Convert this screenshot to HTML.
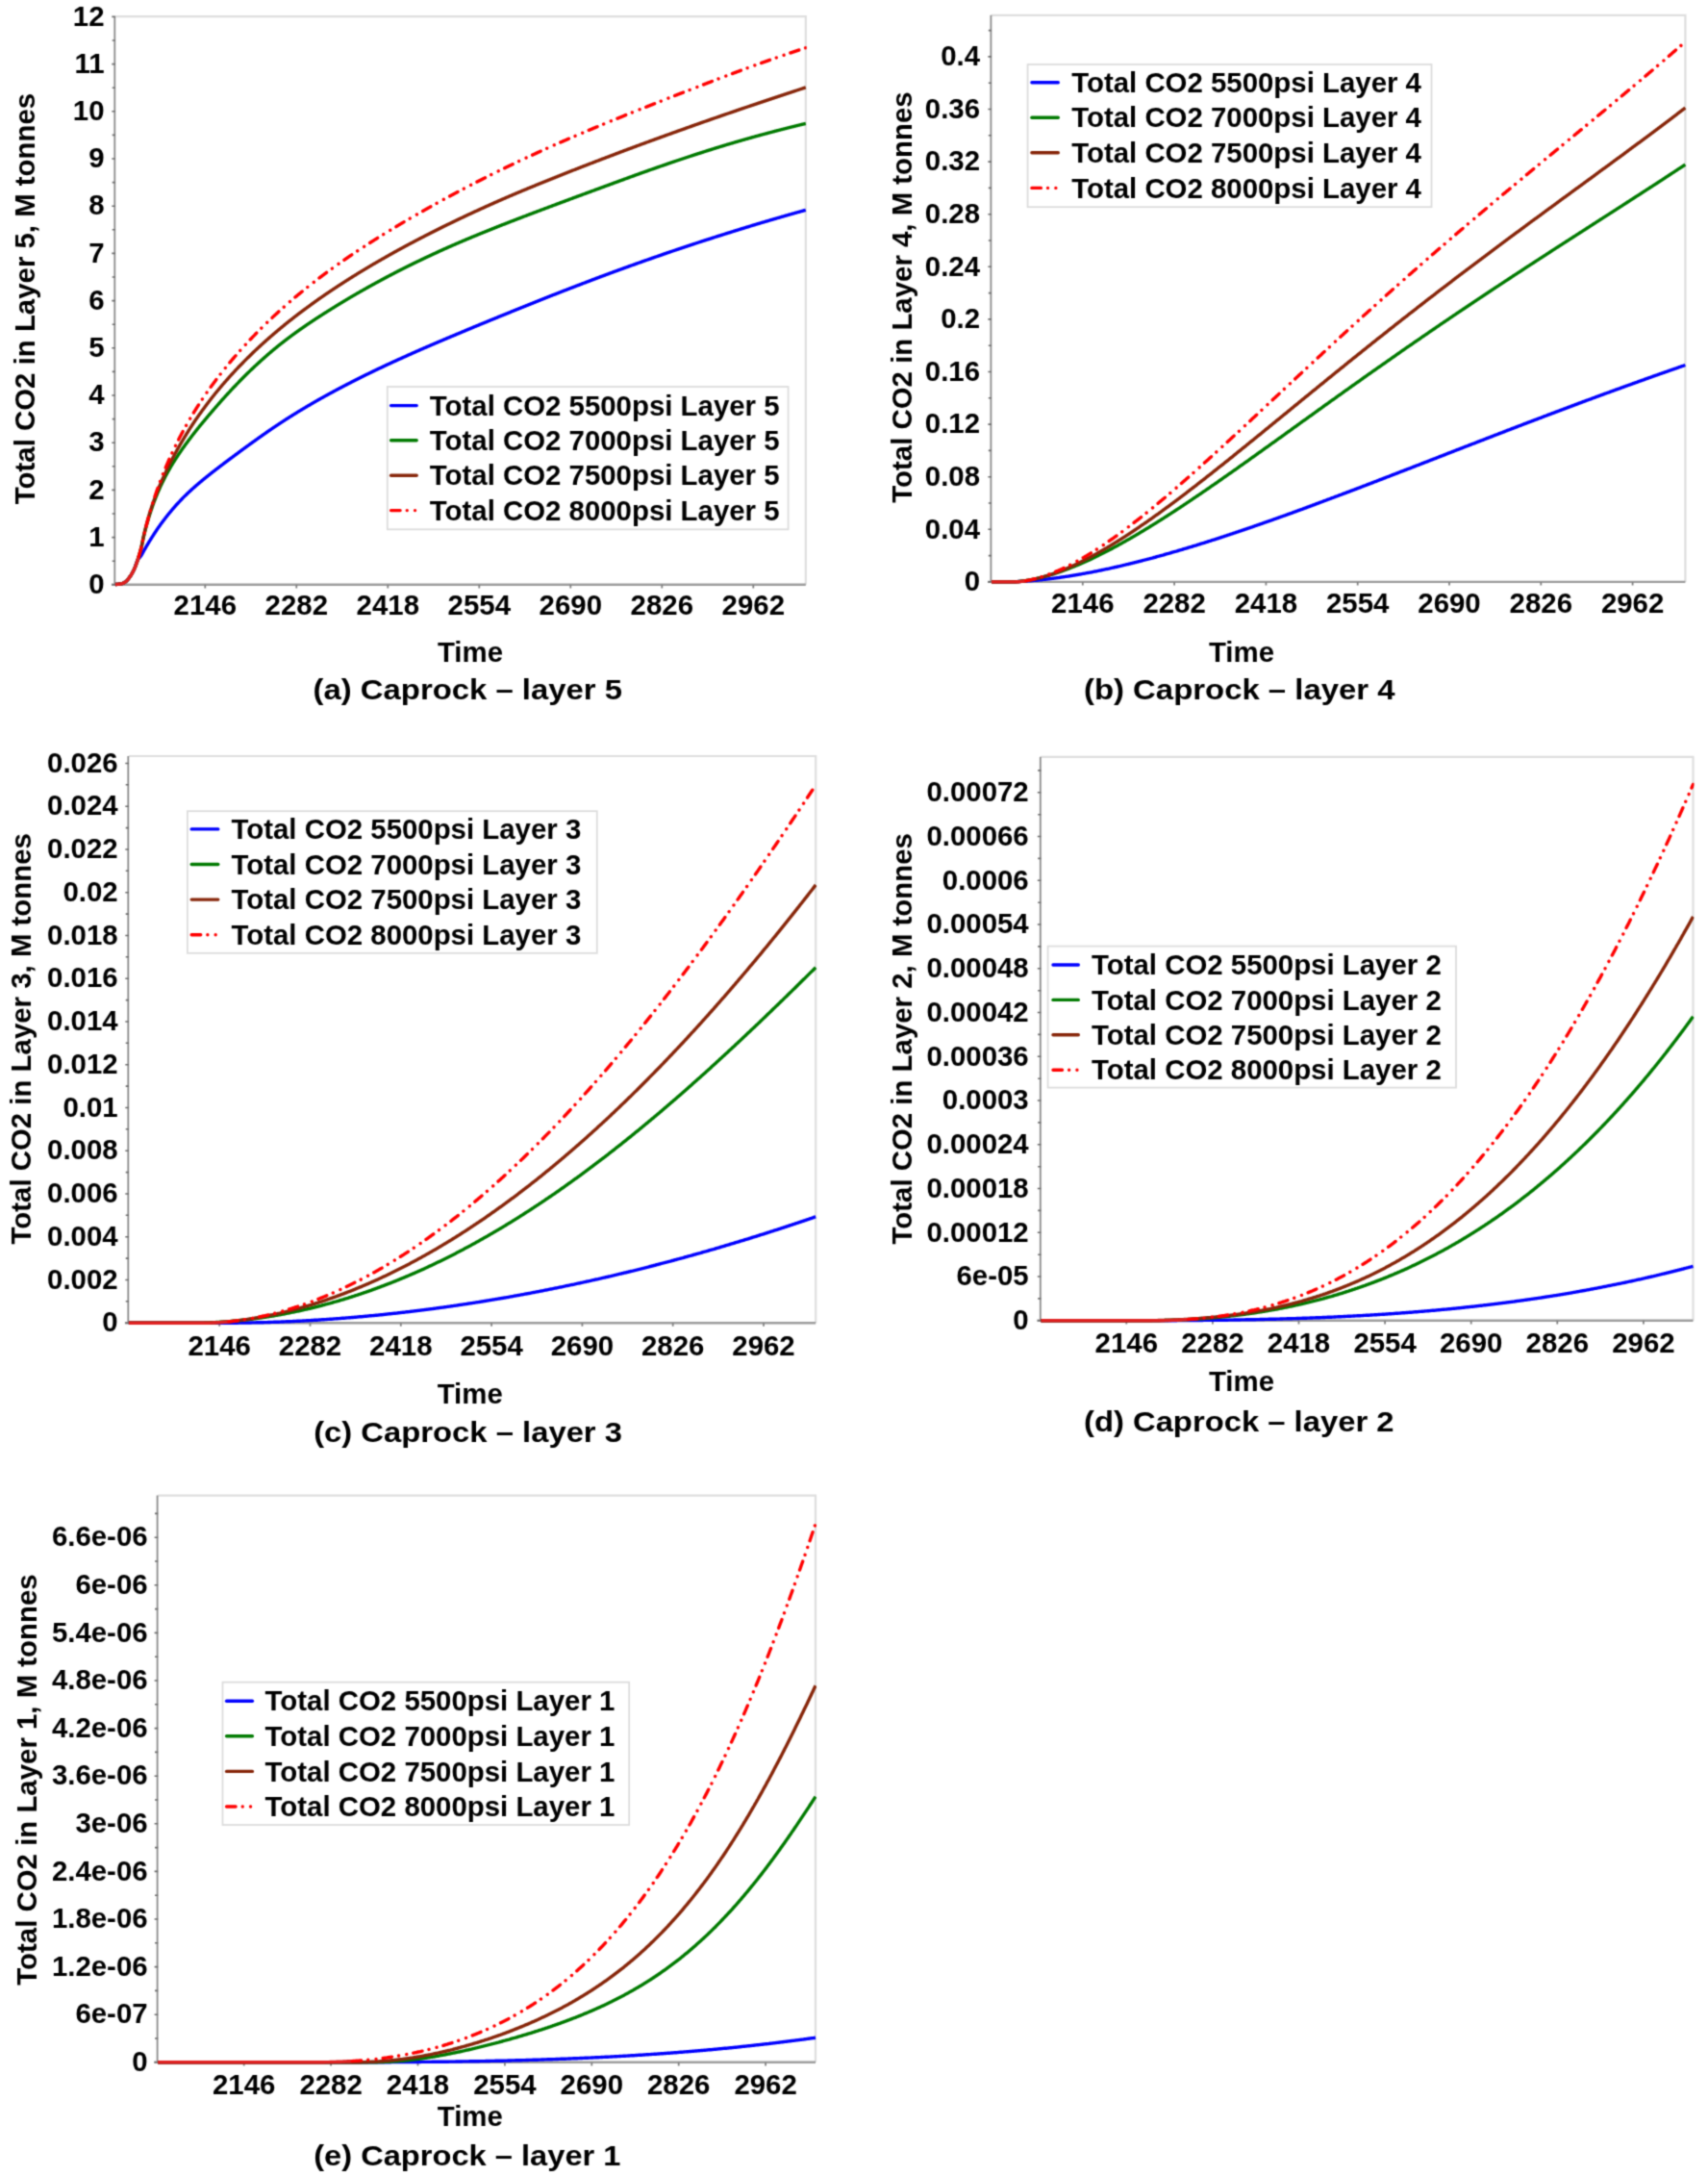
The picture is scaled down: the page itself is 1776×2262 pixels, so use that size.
<!DOCTYPE html>
<html><head><meta charset="utf-8"><title>Caprock CO2 by layer</title>
<style>
html,body{margin:0;padding:0;background:#fff;}
svg{display:block;}
svg text{font-family:"Liberation Sans",Arial,Helvetica,sans-serif;font-weight:bold;font-size:29.4px;fill:#000;}
</style></head>
<body>
<svg width="1776" height="2262" viewBox="0 0 1776 2262">
<defs><filter id="soft" x="0" y="0" width="1776" height="2262" filterUnits="userSpaceOnUse" color-interpolation-filters="sRGB"><feConvolveMatrix order="3" kernelMatrix="0.03108 0.11414 0.03108 0.11414 0.41911 0.11414 0.03108 0.11414 0.03108" edgeMode="duplicate" preserveAlpha="true"/></filter></defs>
<g filter="url(#soft)">
<rect width="1776" height="2262" fill="#fff"/>
<path d="M119.9,17.2 H837.8 V607.8" fill="none" stroke="#dedede" stroke-width="2.2"/>
<line x1="119.30000000000001" y1="17.2" x2="119.30000000000001" y2="607.8" stroke="#8a8a8a" stroke-width="1.8"/>
<line x1="115.9" y1="607.8" x2="837.8" y2="607.8" stroke="#9c9c9c" stroke-width="2.4"/>
<path d="M116.30000000000001,607.8 H119.9 M116.7,583.2 H119.9 M116.30000000000001,558.6 H119.9 M116.7,534.0 H119.9 M116.30000000000001,509.4 H119.9 M116.7,484.8 H119.9 M116.30000000000001,460.2 H119.9 M116.7,435.6 H119.9 M116.30000000000001,411.0 H119.9 M116.7,386.4 H119.9 M116.30000000000001,361.8 H119.9 M116.7,337.2 H119.9 M116.30000000000001,312.6 H119.9 M116.7,288.0 H119.9 M116.30000000000001,263.4 H119.9 M116.7,238.8 H119.9 M116.30000000000001,214.2 H119.9 M116.7,189.6 H119.9 M116.30000000000001,165.0 H119.9 M116.7,140.4 H119.9 M116.30000000000001,115.8 H119.9 M116.7,91.2 H119.9 M116.30000000000001,66.6 H119.9 M116.7,42.0 H119.9 M116.30000000000001,17.4 H119.9" stroke="#6e6e6e" stroke-width="1.6" fill="none"/>
<path d="M213.3,607.8 v3.6 M308.3,607.8 v3.6 M403.3,607.8 v3.6 M498.3,607.8 v3.6 M593.3,607.8 v3.6 M688.3,607.8 v3.6 M783.3,607.8 v3.6" stroke="#808080" stroke-width="1.8" fill="none"/>
<clipPath id="clip0"><rect x="118.9" y="17.2" width="719.9" height="593.5999999999999"/></clipPath>
<g clip-path="url(#clip0)" fill="none" stroke-width="3.4" stroke-linejoin="round">
<polyline points="119.9,607.5 120.4,607.5 120.9,607.5 121.4,607.4 121.9,607.4 122.4,607.4 122.9,607.3 123.4,607.3 123.9,607.2 124.4,607.2 124.9,607.1 125.4,607.0 125.9,606.9 126.4,606.8 126.9,606.7 127.4,606.5 127.9,606.3 128.4,606.1 128.9,605.8 129.4,605.5 129.9,605.2 130.4,604.9 130.9,604.6 131.4,604.1 131.9,603.6 132.4,603.1 132.9,602.5 133.4,601.8 133.9,601.2 134.4,600.5 134.9,599.8 135.4,599.1 135.9,598.4 136.4,597.6 136.9,596.7 137.4,595.9 137.9,595.0 138.4,594.0 138.9,593.0 139.4,592.0 139.9,590.9 140.4,589.6 140.9,588.1 141.4,586.6 141.9,585.2 142.4,583.8 142.9,582.7 143.4,581.8 143.9,581.1 144.4,580.4 144.9,579.8 145.4,579.3 145.9,578.7 146.4,578.1 146.9,577.4 147.4,576.6 147.9,575.7 148.4,574.7 148.9,573.8 149.4,572.9 149.9,572.0 150.4,571.1 150.9,570.3 151.4,569.4 151.9,568.5 152.4,567.7 152.9,566.8 153.4,566.0 153.9,565.2 154.4,564.3 154.9,563.5 155.4,562.7 155.9,561.9 156.4,561.1 156.9,560.2 157.4,559.5 157.9,558.7 158.4,557.9 158.9,557.1 159.4,556.3 159.9,555.5 160.4,554.8 160.9,554.0 161.4,553.3 161.9,552.5 162.4,551.8 162.9,551.0 163.4,550.3 163.9,549.6 164.4,548.8 164.9,548.1 165.4,547.4 165.9,546.7 166.4,546.0 166.9,545.3 167.4,544.6 167.9,543.9 168.4,543.2 168.9,542.6 169.4,541.9 169.9,541.2 170.4,540.6 170.9,539.9 171.4,539.3 171.9,538.6 172.4,538.0 172.9,537.3 173.4,536.7 173.9,536.1 174.4,535.4 174.9,534.8 175.4,534.2 175.9,533.6 176.4,533.0 176.9,532.4 177.4,531.8 177.9,531.2 178.4,530.6 178.9,530.0 179.4,529.4 179.9,528.8 180.4,528.2 180.9,527.7 181.4,527.1 181.9,526.5 182.4,526.0 182.9,525.4 183.4,524.8 183.9,524.3 184.4,523.7 184.9,523.2 185.4,522.7 185.9,522.1 186.4,521.6 186.9,521.1 187.4,520.5 187.9,520.0 188.4,519.5 188.9,519.0 189.4,518.5 189.9,517.9 190.4,517.4 190.9,516.9 191.4,516.4 191.9,515.9 192.4,515.4 192.9,515.0 193.4,514.5 193.9,514.0 194.4,513.5 194.9,513.0 195.4,512.5 195.9,512.1 196.4,511.6 196.9,511.1 197.4,510.7 197.9,510.2 198.4,509.7 198.9,509.3 199.4,508.8 199.9,508.4 200.4,507.9 200.9,507.5 201.4,507.0 201.9,506.6 202.4,506.2 202.9,505.7 203.4,505.3 203.9,504.8 204.4,504.4 204.9,504.0 205.4,503.6 205.9,503.1 206.4,502.7 206.9,502.3 207.4,501.9 207.9,501.4 208.4,501.0 208.9,500.6 209.4,500.2 209.9,499.8 210.4,499.4 210.9,498.9 211.4,498.5 211.9,498.1 212.4,497.7 212.9,497.3 213.4,496.9 213.9,496.5 214.4,496.1 214.9,495.7 215.4,495.3 215.9,494.9 216.4,494.5 216.9,494.1 217.4,493.7 217.9,493.3 218.4,492.9 218.9,492.5 219.4,492.1 219.9,491.7 220.4,491.3 220.9,490.9 221.4,490.5 221.9,490.1 222.4,489.8 222.9,489.4 223.4,489.0 223.9,488.6 224.4,488.2 224.9,487.8 225.4,487.4 225.9,487.1 226.4,486.7 226.9,486.3 227.4,485.9 227.9,485.5 228.4,485.1 228.9,484.8 229.4,484.4 229.9,484.0 230.4,483.6 230.9,483.2 231.4,482.9 231.9,482.5 232.4,482.1 232.9,481.7 233.4,481.3 233.9,481.0 234.4,480.6 234.9,480.2 235.4,479.8 235.9,479.5 236.4,479.1 236.9,478.7 237.4,478.3 237.9,478.0 238.4,477.6 238.9,477.2 239.4,476.8 239.9,476.5 240.4,476.1 240.9,475.7 241.4,475.4 241.9,475.0 242.4,474.6 242.9,474.2 243.4,473.9 243.9,473.5 244.4,473.1 244.9,472.8 245.4,472.4 245.9,472.0 246.4,471.7 246.9,471.3 247.4,470.9 247.9,470.6 248.4,470.2 248.9,469.8 249.4,469.4 249.9,469.1 250.4,468.7 250.9,468.3 251.4,468.0 251.9,467.6 252.4,467.2 252.9,466.9 253.4,466.5 253.9,466.1 254.4,465.8 254.9,465.4 255.4,465.0 255.9,464.7 256.4,464.3 256.9,463.9 257.4,463.6 257.9,463.2 258.4,462.9 258.9,462.5 259.4,462.1 259.9,461.8 260.4,461.4 260.9,461.0 261.4,460.7 261.9,460.3 262.4,460.0 262.9,459.6 263.4,459.2 263.9,458.9 264.4,458.5 264.9,458.2 265.4,457.8 265.9,457.4 266.4,457.1 266.9,456.7 267.4,456.4 267.9,456.0 268.4,455.6 268.9,455.3 269.4,454.9 269.9,454.6 270.4,454.2 270.9,453.9 271.4,453.5 271.9,453.2 272.4,452.8 272.9,452.5 273.4,452.1 273.9,451.8 274.4,451.4 274.9,451.1 275.4,450.7 275.9,450.4 276.4,450.0 276.9,449.7 277.4,449.3 277.9,449.0 278.4,448.6 278.9,448.3 279.4,447.9 279.9,447.6 280.4,447.3 280.9,446.9 281.4,446.6 281.9,446.2 282.4,445.9 282.9,445.6 283.4,445.2 283.9,444.9 284.4,444.5 284.9,444.2 285.4,443.9 285.9,443.5 286.4,443.2 286.9,442.9 287.4,442.5 287.9,442.2 288.4,441.9 288.9,441.5 289.4,441.2 289.9,440.9 290.4,440.5 290.9,440.2 291.4,439.9 291.9,439.5 292.4,439.2 292.9,438.9 293.4,438.6 293.9,438.2 294.4,437.9 294.9,437.6 295.4,437.3 295.9,436.9 296.4,436.6 296.9,436.3 297.4,436.0 297.9,435.6 298.4,435.3 298.9,435.0 299.4,434.7 299.9,434.4 300.4,434.0 300.9,433.7 301.4,433.4 301.9,433.1 302.4,432.8 302.9,432.5 303.4,432.2 303.9,431.8 304.4,431.5 304.9,431.2 305.4,430.9 305.9,430.6 306.4,430.3 306.9,430.0 307.4,429.7 307.9,429.4 308.4,429.1 308.9,428.7 309.4,428.4 309.9,428.1 310.4,427.8 310.9,427.5 311.4,427.2 311.9,426.9 312.4,426.6 312.9,426.3 313.4,426.0 313.9,425.7 314.4,425.4 314.9,425.1 315.4,424.8 315.9,424.5 316.4,424.2 316.9,423.9 317.4,423.6 317.9,423.3 318.4,423.0 318.9,422.7 319.4,422.4 319.9,422.1 320.4,421.8 320.9,421.5 321.4,421.3 321.9,421.0 322.4,420.7 322.9,420.4 323.4,420.1 323.9,419.8 324.4,419.5 324.9,419.2 325.4,418.9 325.9,418.6 326.4,418.4 326.9,418.1 327.4,417.8 327.9,417.5 328.4,417.2 328.9,416.9 329.4,416.6 329.9,416.3 330.4,416.1 330.9,415.8 331.4,415.5 331.9,415.2 332.4,414.9 332.9,414.7 333.4,414.4 333.9,414.1 334.4,413.8 334.9,413.5 335.4,413.3 335.9,413.0 336.4,412.7 336.9,412.4 337.4,412.1 337.9,411.9 338.4,411.6 338.9,411.3 339.4,411.0 339.9,410.8 340.4,410.5 340.9,410.2 341.4,409.9 341.9,409.7 342.4,409.4 342.9,409.1 343.4,408.8 343.9,408.6 344.4,408.3 344.9,408.0 345.4,407.8 345.9,407.5 346.4,407.2 346.9,406.9 347.4,406.7 347.9,406.4 348.4,406.1 348.9,405.9 349.4,405.6 349.9,405.3 350.4,405.1 350.9,404.8 351.4,404.5 351.9,404.3 352.4,404.0 352.9,403.7 353.4,403.5 353.9,403.2 354.4,403.0 354.9,402.7 355.4,402.4 355.9,402.2 356.4,401.9 356.9,401.6 357.4,401.4 357.9,401.1 358.4,400.9 358.9,400.6 359.4,400.3 359.9,400.1 360.4,399.8 360.9,399.6 361.4,399.3 361.9,399.0 362.4,398.8 362.9,398.5 363.4,398.3 363.9,398.0 364.4,397.8 364.9,397.5 365.4,397.2 365.9,397.0 366.4,396.7 366.9,396.5 367.4,396.2 367.9,396.0 368.4,395.7 368.9,395.5 369.4,395.2 369.9,395.0 370.4,394.7 370.9,394.5 371.4,394.2 371.9,394.0 372.4,393.7 372.9,393.5 373.4,393.2 373.9,393.0 374.4,392.7 374.9,392.5 375.4,392.2 375.9,392.0 376.4,391.7 376.9,391.5 377.4,391.2 377.9,391.0 378.4,390.7 378.9,390.5 379.4,390.2 379.9,390.0 380.4,389.7 380.9,389.5 381.4,389.2 381.9,389.0 382.4,388.8 382.9,388.5 383.4,388.3 383.9,388.0 384.4,387.8 384.9,387.5 385.4,387.3 385.9,387.1 386.4,386.8 386.9,386.6 387.4,386.3 387.9,386.1 388.4,385.8 388.9,385.6 389.4,385.4 389.9,385.1 390.4,384.9 390.9,384.6 391.4,384.4 391.9,384.2 392.4,383.9 392.9,383.7 393.4,383.4 393.9,383.2 394.4,383.0 394.9,382.7 395.4,382.5 395.9,382.3 396.4,382.0 396.9,381.8 397.4,381.6 397.9,381.3 398.4,381.1 398.9,380.8 399.4,380.6 399.9,380.4 400.4,380.1 400.9,379.9 401.4,379.7 401.9,379.4 402.4,379.2 402.9,379.0 403.4,378.7 403.9,378.5 404.4,378.3 404.9,378.0 405.4,377.8 405.9,377.6 406.4,377.4 406.9,377.1 407.4,376.9 407.9,376.7 408.4,376.4 408.9,376.2 409.4,376.0 409.9,375.7 410.4,375.5 410.9,375.3 411.4,375.1 411.9,374.8 412.4,374.6 412.9,374.4 413.4,374.1 413.9,373.9 414.4,373.7 414.9,373.5 415.4,373.2 415.9,373.0 416.4,372.8 416.9,372.6 417.4,372.3 417.9,372.1 418.4,371.9 418.9,371.7 419.4,371.4 419.9,371.2 420.4,371.0 420.9,370.8 421.4,370.5 421.9,370.3 422.4,370.1 422.9,369.9 423.4,369.6 423.9,369.4 424.4,369.2 424.9,369.0 425.4,368.7 425.9,368.5 426.4,368.3 426.9,368.1 427.4,367.9 427.9,367.6 428.4,367.4 428.9,367.2 429.4,367.0 429.9,366.7 430.4,366.5 430.9,366.3 431.4,366.1 431.9,365.9 432.4,365.6 432.9,365.4 433.4,365.2 433.9,365.0 434.4,364.8 434.9,364.5 435.4,364.3 435.9,364.1 436.4,363.9 436.9,363.7 437.4,363.4 437.9,363.2 438.4,363.0 438.9,362.8 439.4,362.6 439.9,362.4 440.4,362.1 440.9,361.9 441.4,361.7 441.9,361.5 442.4,361.3 442.9,361.1 443.4,360.8 443.9,360.6 444.4,360.4 444.9,360.2 445.4,360.0 445.9,359.8 446.4,359.5 446.9,359.3 447.4,359.1 447.9,358.9 448.4,358.7 448.9,358.5 449.4,358.2 449.9,358.0 450.4,357.8 450.9,357.6 451.4,357.4 451.9,357.2 452.4,357.0 452.9,356.7 453.4,356.5 453.9,356.3 454.4,356.1 454.9,355.9 455.4,355.7 455.9,355.5 456.4,355.2 456.9,355.0 457.4,354.8 457.9,354.6 458.4,354.4 458.9,354.2 459.4,354.0 459.9,353.8 460.4,353.5 460.9,353.3 461.4,353.1 461.9,352.9 462.4,352.7 462.9,352.5 463.4,352.3 463.9,352.1 464.4,351.8 464.9,351.6 465.4,351.4 465.9,351.2 466.4,351.0 466.9,350.8 467.4,350.6 467.9,350.4 468.4,350.2 468.9,349.9 469.4,349.7 469.9,349.5 470.4,349.3 470.9,349.1 471.4,348.9 471.9,348.7 472.4,348.5 472.9,348.3 473.4,348.1 473.9,347.8 474.4,347.6 474.9,347.4 475.4,347.2 475.9,347.0 476.4,346.8 476.9,346.6 477.4,346.4 477.9,346.2 478.4,346.0 478.9,345.8 479.4,345.5 479.9,345.3 480.4,345.1 480.9,344.9 481.4,344.7 481.9,344.5 482.4,344.3 482.9,344.1 483.4,343.9 483.9,343.7 484.4,343.5 484.9,343.2 485.4,343.0 485.9,342.8 486.4,342.6 486.9,342.4 487.4,342.2 487.9,342.0 488.4,341.8 488.9,341.6 489.4,341.4 489.9,341.2 490.4,341.0 490.9,340.8 491.4,340.5 491.9,340.3 492.4,340.1 492.9,339.9 493.4,339.7 493.9,339.5 494.4,339.3 494.9,339.1 495.4,338.9 495.9,338.7 496.4,338.5 496.9,338.3 497.4,338.1 497.9,337.9 498.4,337.7 498.9,337.4 499.4,337.2 499.9,337.0 500.4,336.8 500.9,336.6 501.4,336.4 501.9,336.2 502.4,336.0 502.9,335.8 503.4,335.6 503.9,335.4 504.4,335.2 504.9,335.0 505.4,334.8 505.9,334.6 506.4,334.4 506.9,334.2 507.4,334.0 507.9,333.7 508.4,333.5 508.9,333.3 509.4,333.1 509.9,332.9 510.4,332.7 510.9,332.5 511.4,332.3 511.9,332.1 512.4,331.9 512.9,331.7 513.4,331.5 513.9,331.3 514.4,331.1 514.9,330.9 515.4,330.7 515.9,330.5 516.4,330.3 516.9,330.1 517.4,329.9 517.9,329.6 518.4,329.4 518.9,329.2 519.4,329.0 519.9,328.8 520.4,328.6 520.9,328.4 521.4,328.2 521.9,328.0 522.4,327.8 522.9,327.6 523.4,327.4 523.9,327.2 524.4,327.0 524.9,326.8 525.4,326.6 525.9,326.4 526.4,326.2 526.9,326.0 527.4,325.8 527.9,325.6 528.4,325.4 528.9,325.2 529.4,325.0 529.9,324.8 530.4,324.6 530.9,324.4 531.4,324.1 531.9,323.9 532.4,323.7 532.9,323.5 533.4,323.3 533.9,323.1 534.4,322.9 534.9,322.7 535.4,322.5 535.9,322.3 536.4,322.1 536.9,321.9 537.4,321.7 537.9,321.5 538.4,321.3 538.9,321.1 539.4,320.9 539.9,320.7 540.4,320.5 540.9,320.3 541.4,320.1 541.9,319.9 542.4,319.7 542.9,319.5 543.4,319.3 543.9,319.1 544.4,318.9 544.9,318.7 545.4,318.5 545.9,318.3 546.4,318.1 546.9,317.9 547.4,317.7 547.9,317.5 548.4,317.3 548.9,317.1 549.4,316.9 549.9,316.7 550.4,316.5 550.9,316.3 551.4,316.1 551.9,315.9 552.4,315.7 552.9,315.5 553.4,315.3 553.9,315.1 554.4,314.9 554.9,314.7 555.4,314.5 555.9,314.3 556.4,314.1 556.9,313.9 557.4,313.7 557.9,313.5 558.4,313.3 558.9,313.1 559.4,312.9 559.9,312.7 560.4,312.5 560.9,312.3 561.4,312.1 561.9,311.9 562.4,311.7 562.9,311.5 563.4,311.3 563.9,311.1 564.4,310.9 564.9,310.7 565.4,310.5 565.9,310.3 566.4,310.1 566.9,309.9 567.4,309.7 567.9,309.5 568.4,309.3 568.9,309.1 569.4,308.9 569.9,308.7 570.4,308.5 570.9,308.3 571.4,308.1 571.9,307.9 572.4,307.7 572.9,307.5 573.4,307.3 573.9,307.1 574.4,306.9 574.9,306.7 575.4,306.5 575.9,306.3 576.4,306.1 576.9,306.0 577.4,305.8 577.9,305.6 578.4,305.4 578.9,305.2 579.4,305.0 579.9,304.8 580.4,304.6 580.9,304.4 581.4,304.2 581.9,304.0 582.4,303.8 582.9,303.6 583.4,303.4 583.9,303.2 584.4,303.0 584.9,302.8 585.4,302.6 585.9,302.4 586.4,302.2 586.9,302.0 587.4,301.9 587.9,301.7 588.4,301.5 588.9,301.3 589.4,301.1 589.9,300.9 590.4,300.7 590.9,300.5 591.4,300.3 591.9,300.1 592.4,299.9 592.9,299.7 593.4,299.5 593.9,299.3 594.4,299.1 594.9,298.9 595.4,298.8 595.9,298.6 596.4,298.4 596.9,298.2 597.4,298.0 597.9,297.8 598.4,297.6 598.9,297.4 599.4,297.2 599.9,297.0 600.4,296.8 600.9,296.6 601.4,296.4 601.9,296.3 602.4,296.1 602.9,295.9 603.4,295.7 603.9,295.5 604.4,295.3 604.9,295.1 605.4,294.9 605.9,294.7 606.4,294.5 606.9,294.3 607.4,294.2 607.9,294.0 608.4,293.8 608.9,293.6 609.4,293.4 609.9,293.2 610.4,293.0 610.9,292.8 611.4,292.6 611.9,292.4 612.4,292.3 612.9,292.1 613.4,291.9 613.9,291.7 614.4,291.5 614.9,291.3 615.4,291.1 615.9,290.9 616.4,290.7 616.9,290.6 617.4,290.4 617.9,290.2 618.4,290.0 618.9,289.8 619.4,289.6 619.9,289.4 620.4,289.2 620.9,289.1 621.4,288.9 621.9,288.7 622.4,288.5 622.9,288.3 623.4,288.1 623.9,287.9 624.4,287.7 624.9,287.6 625.4,287.4 625.9,287.2 626.4,287.0 626.9,286.8 627.4,286.6 627.9,286.4 628.4,286.3 628.9,286.1 629.4,285.9 629.9,285.7 630.4,285.5 630.9,285.3 631.4,285.1 631.9,285.0 632.4,284.8 632.9,284.6 633.4,284.4 633.9,284.2 634.4,284.0 634.9,283.9 635.4,283.7 635.9,283.5 636.4,283.3 636.9,283.1 637.4,282.9 637.9,282.7 638.4,282.6 638.9,282.4 639.4,282.2 639.9,282.0 640.4,281.8 640.9,281.6 641.4,281.5 641.9,281.3 642.4,281.1 642.9,280.9 643.4,280.7 643.9,280.6 644.4,280.4 644.9,280.2 645.4,280.0 645.9,279.8 646.4,279.6 646.9,279.5 647.4,279.3 647.9,279.1 648.4,278.9 648.9,278.7 649.4,278.6 649.9,278.4 650.4,278.2 650.9,278.0 651.4,277.8 651.9,277.6 652.4,277.5 652.9,277.3 653.4,277.1 653.9,276.9 654.4,276.7 654.9,276.6 655.4,276.4 655.9,276.2 656.4,276.0 656.9,275.8 657.4,275.7 657.9,275.5 658.4,275.3 658.9,275.1 659.4,274.9 659.9,274.8 660.4,274.6 660.9,274.4 661.4,274.2 661.9,274.1 662.4,273.9 662.9,273.7 663.4,273.5 663.9,273.3 664.4,273.2 664.9,273.0 665.4,272.8 665.9,272.6 666.4,272.5 666.9,272.3 667.4,272.1 667.9,271.9 668.4,271.7 668.9,271.6 669.4,271.4 669.9,271.2 670.4,271.0 670.9,270.9 671.4,270.7 671.9,270.5 672.4,270.3 672.9,270.2 673.4,270.0 673.9,269.8 674.4,269.6 674.9,269.5 675.4,269.3 675.9,269.1 676.4,268.9 676.9,268.8 677.4,268.6 677.9,268.4 678.4,268.2 678.9,268.1 679.4,267.9 679.9,267.7 680.4,267.5 680.9,267.4 681.4,267.2 681.9,267.0 682.4,266.8 682.9,266.7 683.4,266.5 683.9,266.3 684.4,266.1 684.9,266.0 685.4,265.8 685.9,265.6 686.4,265.5 686.9,265.3 687.4,265.1 687.9,264.9 688.4,264.8 688.9,264.6 689.4,264.4 689.9,264.2 690.4,264.1 690.9,263.9 691.4,263.7 691.9,263.6 692.4,263.4 692.9,263.2 693.4,263.0 693.9,262.9 694.4,262.7 694.9,262.5 695.4,262.4 695.9,262.2 696.4,262.0 696.9,261.9 697.4,261.7 697.9,261.5 698.4,261.3 698.9,261.2 699.4,261.0 699.9,260.8 700.4,260.7 700.9,260.5 701.4,260.3 701.9,260.2 702.4,260.0 702.9,259.8 703.4,259.6 703.9,259.5 704.4,259.3 704.9,259.1 705.4,259.0 705.9,258.8 706.4,258.6 706.9,258.5 707.4,258.3 707.9,258.1 708.4,258.0 708.9,257.8 709.4,257.6 709.9,257.5 710.4,257.3 710.9,257.1 711.4,257.0 711.9,256.8 712.4,256.6 712.9,256.5 713.4,256.3 713.9,256.1 714.4,256.0 714.9,255.8 715.4,255.6 715.9,255.5 716.4,255.3 716.9,255.1 717.4,255.0 717.9,254.8 718.4,254.6 718.9,254.5 719.4,254.3 719.9,254.1 720.4,254.0 720.9,253.8 721.4,253.6 721.9,253.5 722.4,253.3 722.9,253.2 723.4,253.0 723.9,252.8 724.4,252.7 724.9,252.5 725.4,252.3 725.9,252.2 726.4,252.0 726.9,251.8 727.4,251.7 727.9,251.5 728.4,251.4 728.9,251.2 729.4,251.0 729.9,250.9 730.4,250.7 730.9,250.5 731.4,250.4 731.9,250.2 732.4,250.1 732.9,249.9 733.4,249.7 733.9,249.6 734.4,249.4 734.9,249.2 735.4,249.1 735.9,248.9 736.4,248.8 736.9,248.6 737.4,248.4 737.9,248.3 738.4,248.1 738.9,248.0 739.4,247.8 739.9,247.6 740.4,247.5 740.9,247.3 741.4,247.1 741.9,247.0 742.4,246.8 742.9,246.7 743.4,246.5 743.9,246.3 744.4,246.2 744.9,246.0 745.4,245.9 745.9,245.7 746.4,245.6 746.9,245.4 747.4,245.2 747.9,245.1 748.4,244.9 748.9,244.8 749.4,244.6 749.9,244.4 750.4,244.3 750.9,244.1 751.4,244.0 751.9,243.8 752.4,243.7 752.9,243.5 753.4,243.3 753.9,243.2 754.4,243.0 754.9,242.9 755.4,242.7 755.9,242.6 756.4,242.4 756.9,242.2 757.4,242.1 757.9,241.9 758.4,241.8 758.9,241.6 759.4,241.5 759.9,241.3 760.4,241.1 760.9,241.0 761.4,240.8 761.9,240.7 762.4,240.5 762.9,240.4 763.4,240.2 763.9,240.1 764.4,239.9 764.9,239.7 765.4,239.6 765.9,239.4 766.4,239.3 766.9,239.1 767.4,239.0 767.9,238.8 768.4,238.7 768.9,238.5 769.4,238.4 769.9,238.2 770.4,238.1 770.9,237.9 771.4,237.7 771.9,237.6 772.4,237.4 772.9,237.3 773.4,237.1 773.9,237.0 774.4,236.8 774.9,236.7 775.4,236.5 775.9,236.4 776.4,236.2 776.9,236.1 777.4,235.9 777.9,235.8 778.4,235.6 778.9,235.5 779.4,235.3 779.9,235.2 780.4,235.0 780.9,234.8 781.4,234.7 781.9,234.5 782.4,234.4 782.9,234.2 783.4,234.1 783.9,233.9 784.4,233.8 784.9,233.6 785.4,233.5 785.9,233.3 786.4,233.2 786.9,233.0 787.4,232.9 787.9,232.7 788.4,232.6 788.9,232.4 789.4,232.3 789.9,232.1 790.4,232.0 790.9,231.8 791.4,231.7 791.9,231.5 792.4,231.4 792.9,231.2 793.4,231.1 793.9,231.0 794.4,230.8 794.9,230.7 795.4,230.5 795.9,230.4 796.4,230.2 796.9,230.1 797.4,229.9 797.9,229.8 798.4,229.6 798.9,229.5 799.4,229.3 799.9,229.2 800.4,229.0 800.9,228.9 801.4,228.7 801.9,228.6 802.4,228.4 802.9,228.3 803.4,228.1 803.9,228.0 804.4,227.9 804.9,227.7 805.4,227.6 805.9,227.4 806.4,227.3 806.9,227.1 807.4,227.0 807.9,226.8 808.4,226.7 808.9,226.5 809.4,226.4 809.9,226.3 810.4,226.1 810.9,226.0 811.4,225.8 811.9,225.7 812.4,225.5 812.9,225.4 813.4,225.2 813.9,225.1 814.4,225.0 814.9,224.8 815.4,224.7 815.9,224.5 816.4,224.4 816.9,224.2 817.4,224.1 817.9,223.9 818.4,223.8 818.9,223.7 819.4,223.5 819.9,223.4 820.4,223.2 820.9,223.1 821.4,222.9 821.9,222.8 822.4,222.7 822.9,222.5 823.4,222.4 823.9,222.2 824.4,222.1 824.9,222.0 825.4,221.8 825.9,221.7 826.4,221.5 826.9,221.4 827.4,221.2 827.9,221.1 828.4,221.0 828.9,220.8 829.4,220.7 829.9,220.5 830.4,220.4 830.9,220.3 831.4,220.1 831.9,220.0 832.4,219.8 832.9,219.7 833.4,219.6 833.9,219.4 834.4,219.3 834.9,219.1 835.4,219.0 835.9,218.9 836.4,218.7 836.9,218.6 837.8,218.3" stroke="#0000ff"/>
<polyline points="119.9,607.5 120.4,607.5 120.9,607.5 121.4,607.4 121.9,607.4 122.4,607.4 122.9,607.3 123.4,607.3 123.9,607.2 124.4,607.2 124.9,607.1 125.4,607.0 125.9,606.9 126.4,606.8 126.9,606.7 127.4,606.5 127.9,606.3 128.4,606.1 128.9,605.8 129.4,605.5 129.9,605.2 130.4,604.9 130.9,604.6 131.4,604.1 131.9,603.6 132.4,603.1 132.9,602.5 133.4,601.8 133.9,601.2 134.4,600.5 134.9,599.8 135.4,599.1 135.9,598.4 136.4,597.6 136.9,596.7 137.4,595.9 137.9,595.0 138.4,594.0 138.9,593.0 139.4,592.0 139.9,590.9 140.4,589.8 140.9,588.5 141.4,587.2 141.9,585.8 142.4,584.4 142.9,582.9 143.4,581.4 143.9,579.8 144.4,578.1 144.9,576.4 145.4,574.6 145.9,572.8 146.4,570.9 146.9,568.9 147.4,566.8 147.9,564.5 148.4,562.1 148.9,559.9 149.4,557.7 149.9,555.6 150.4,553.6 150.9,551.6 151.4,549.7 151.9,547.8 152.4,545.9 152.9,544.1 153.4,542.4 153.9,540.7 154.4,539.0 154.9,537.3 155.4,535.7 155.9,534.1 156.4,532.6 156.9,531.0 157.4,529.6 157.9,528.1 158.4,526.7 158.9,525.2 159.4,523.9 159.9,522.5 160.4,521.2 160.9,519.9 161.4,518.6 161.9,517.3 162.4,516.0 162.9,514.8 163.4,513.6 163.9,512.4 164.4,511.2 164.9,510.1 165.4,509.0 165.9,507.8 166.4,506.7 166.9,505.6 167.4,504.6 167.9,503.5 168.4,502.5 168.9,501.4 169.4,500.4 169.9,499.4 170.4,498.4 170.9,497.4 171.4,496.4 171.9,495.5 172.4,494.5 172.9,493.6 173.4,492.7 173.9,491.8 174.4,490.8 174.9,489.9 175.4,489.1 175.9,488.2 176.4,487.3 176.9,486.4 177.4,485.6 177.9,484.7 178.4,483.9 178.9,483.1 179.4,482.2 179.9,481.4 180.4,480.6 180.9,479.8 181.4,479.0 181.9,478.2 182.4,477.4 182.9,476.7 183.4,475.9 183.9,475.1 184.4,474.4 184.9,473.6 185.4,472.8 185.9,472.1 186.4,471.4 186.9,470.6 187.4,469.9 187.9,469.2 188.4,468.4 188.9,467.7 189.4,467.0 189.9,466.3 190.4,465.6 190.9,464.9 191.4,464.2 191.9,463.5 192.4,462.8 192.9,462.1 193.4,461.4 193.9,460.7 194.4,460.1 194.9,459.4 195.4,458.7 195.9,458.0 196.4,457.4 196.9,456.7 197.4,456.1 197.9,455.4 198.4,454.7 198.9,454.1 199.4,453.4 199.9,452.8 200.4,452.1 200.9,451.5 201.4,450.9 201.9,450.2 202.4,449.6 202.9,449.0 203.4,448.3 203.9,447.7 204.4,447.1 204.9,446.4 205.4,445.8 205.9,445.2 206.4,444.6 206.9,444.0 207.4,443.3 207.9,442.7 208.4,442.1 208.9,441.5 209.4,440.9 209.9,440.3 210.4,439.7 210.9,439.1 211.4,438.5 211.9,437.9 212.4,437.3 212.9,436.7 213.4,436.1 213.9,435.5 214.4,434.9 214.9,434.3 215.4,433.7 215.9,433.1 216.4,432.5 216.9,431.9 217.4,431.3 217.9,430.8 218.4,430.2 218.9,429.6 219.4,429.0 219.9,428.4 220.4,427.8 220.9,427.3 221.4,426.7 221.9,426.1 222.4,425.5 222.9,424.9 223.4,424.4 223.9,423.8 224.4,423.2 224.9,422.6 225.4,422.1 225.9,421.5 226.4,420.9 226.9,420.4 227.4,419.8 227.9,419.2 228.4,418.7 228.9,418.1 229.4,417.5 229.9,417.0 230.4,416.4 230.9,415.8 231.4,415.3 231.9,414.7 232.4,414.2 232.9,413.6 233.4,413.1 233.9,412.5 234.4,412.0 234.9,411.4 235.4,410.9 235.9,410.3 236.4,409.8 236.9,409.2 237.4,408.7 237.9,408.1 238.4,407.6 238.9,407.1 239.4,406.5 239.9,406.0 240.4,405.4 240.9,404.9 241.4,404.4 241.9,403.8 242.4,403.3 242.9,402.8 243.4,402.3 243.9,401.7 244.4,401.2 244.9,400.7 245.4,400.2 245.9,399.6 246.4,399.1 246.9,398.6 247.4,398.1 247.9,397.6 248.4,397.0 248.9,396.5 249.4,396.0 249.9,395.5 250.4,395.0 250.9,394.5 251.4,394.0 251.9,393.5 252.4,393.0 252.9,392.5 253.4,392.0 253.9,391.5 254.4,391.0 254.9,390.5 255.4,390.0 255.9,389.5 256.4,389.0 256.9,388.5 257.4,388.0 257.9,387.5 258.4,387.1 258.9,386.6 259.4,386.1 259.9,385.6 260.4,385.1 260.9,384.6 261.4,384.2 261.9,383.7 262.4,383.2 262.9,382.7 263.4,382.3 263.9,381.8 264.4,381.3 264.9,380.9 265.4,380.4 265.9,379.9 266.4,379.5 266.9,379.0 267.4,378.5 267.9,378.1 268.4,377.6 268.9,377.2 269.4,376.7 269.9,376.2 270.4,375.8 270.9,375.3 271.4,374.9 271.9,374.4 272.4,374.0 272.9,373.5 273.4,373.1 273.9,372.7 274.4,372.2 274.9,371.8 275.4,371.3 275.9,370.9 276.4,370.5 276.9,370.0 277.4,369.6 277.9,369.1 278.4,368.7 278.9,368.3 279.4,367.9 279.9,367.4 280.4,367.0 280.9,366.6 281.4,366.2 281.9,365.7 282.4,365.3 282.9,364.9 283.4,364.5 283.9,364.1 284.4,363.6 284.9,363.2 285.4,362.8 285.9,362.4 286.4,362.0 286.9,361.6 287.4,361.2 287.9,360.8 288.4,360.4 288.9,359.9 289.4,359.5 289.9,359.1 290.4,358.7 290.9,358.3 291.4,357.9 291.9,357.5 292.4,357.1 292.9,356.8 293.4,356.4 293.9,356.0 294.4,355.6 294.9,355.2 295.4,354.8 295.9,354.4 296.4,354.0 296.9,353.6 297.4,353.3 297.9,352.9 298.4,352.5 298.9,352.1 299.4,351.7 299.9,351.4 300.4,351.0 300.9,350.6 301.4,350.2 301.9,349.9 302.4,349.5 302.9,349.1 303.4,348.7 303.9,348.4 304.4,348.0 304.9,347.6 305.4,347.3 305.9,346.9 306.4,346.6 306.9,346.2 307.4,345.8 307.9,345.5 308.4,345.1 308.9,344.8 309.4,344.4 309.9,344.0 310.4,343.7 310.9,343.3 311.4,343.0 311.9,342.6 312.4,342.3 312.9,341.9 313.4,341.6 313.9,341.2 314.4,340.9 314.9,340.5 315.4,340.2 315.9,339.8 316.4,339.5 316.9,339.2 317.4,338.8 317.9,338.5 318.4,338.1 318.9,337.8 319.4,337.4 319.9,337.1 320.4,336.8 320.9,336.4 321.4,336.1 321.9,335.8 322.4,335.4 322.9,335.1 323.4,334.8 323.9,334.4 324.4,334.1 324.9,333.8 325.4,333.4 325.9,333.1 326.4,332.8 326.9,332.4 327.4,332.1 327.9,331.8 328.4,331.4 328.9,331.1 329.4,330.8 329.9,330.5 330.4,330.1 330.9,329.8 331.4,329.5 331.9,329.2 332.4,328.8 332.9,328.5 333.4,328.2 333.9,327.9 334.4,327.6 334.9,327.2 335.4,326.9 335.9,326.6 336.4,326.3 336.9,326.0 337.4,325.6 337.9,325.3 338.4,325.0 338.9,324.7 339.4,324.4 339.9,324.1 340.4,323.7 340.9,323.4 341.4,323.1 341.9,322.8 342.4,322.5 342.9,322.2 343.4,321.9 343.9,321.5 344.4,321.2 344.9,320.9 345.4,320.6 345.9,320.3 346.4,320.0 346.9,319.7 347.4,319.4 347.9,319.1 348.4,318.8 348.9,318.4 349.4,318.1 349.9,317.8 350.4,317.5 350.9,317.2 351.4,316.9 351.9,316.6 352.4,316.3 352.9,316.0 353.4,315.7 353.9,315.4 354.4,315.1 354.9,314.8 355.4,314.5 355.9,314.2 356.4,313.9 356.9,313.6 357.4,313.3 357.9,313.0 358.4,312.7 358.9,312.4 359.4,312.1 359.9,311.8 360.4,311.5 360.9,311.2 361.4,310.9 361.9,310.6 362.4,310.3 362.9,310.0 363.4,309.7 363.9,309.4 364.4,309.1 364.9,308.8 365.4,308.5 365.9,308.2 366.4,307.9 366.9,307.6 367.4,307.4 367.9,307.1 368.4,306.8 368.9,306.5 369.4,306.2 369.9,305.9 370.4,305.6 370.9,305.3 371.4,305.0 371.9,304.7 372.4,304.5 372.9,304.2 373.4,303.9 373.9,303.6 374.4,303.3 374.9,303.0 375.4,302.7 375.9,302.5 376.4,302.2 376.9,301.9 377.4,301.6 377.9,301.3 378.4,301.0 378.9,300.8 379.4,300.5 379.9,300.2 380.4,299.9 380.9,299.6 381.4,299.3 381.9,299.1 382.4,298.8 382.9,298.5 383.4,298.2 383.9,297.9 384.4,297.7 384.9,297.4 385.4,297.1 385.9,296.8 386.4,296.6 386.9,296.3 387.4,296.0 387.9,295.7 388.4,295.5 388.9,295.2 389.4,294.9 389.9,294.6 390.4,294.4 390.9,294.1 391.4,293.8 391.9,293.5 392.4,293.3 392.9,293.0 393.4,292.7 393.9,292.5 394.4,292.2 394.9,291.9 395.4,291.6 395.9,291.4 396.4,291.1 396.9,290.8 397.4,290.6 397.9,290.3 398.4,290.0 398.9,289.8 399.4,289.5 399.9,289.2 400.4,289.0 400.9,288.7 401.4,288.4 401.9,288.2 402.4,287.9 402.9,287.7 403.4,287.4 403.9,287.1 404.4,286.9 404.9,286.6 405.4,286.3 405.9,286.1 406.4,285.8 406.9,285.6 407.4,285.3 407.9,285.0 408.4,284.8 408.9,284.5 409.4,284.3 409.9,284.0 410.4,283.7 410.9,283.5 411.4,283.2 411.9,283.0 412.4,282.7 412.9,282.4 413.4,282.2 413.9,281.9 414.4,281.7 414.9,281.4 415.4,281.2 415.9,280.9 416.4,280.7 416.9,280.4 417.4,280.2 417.9,279.9 418.4,279.6 418.9,279.4 419.4,279.1 419.9,278.9 420.4,278.6 420.9,278.4 421.4,278.1 421.9,277.9 422.4,277.6 422.9,277.4 423.4,277.1 423.9,276.9 424.4,276.6 424.9,276.4 425.4,276.1 425.9,275.9 426.4,275.7 426.9,275.4 427.4,275.2 427.9,274.9 428.4,274.7 428.9,274.4 429.4,274.2 429.9,273.9 430.4,273.7 430.9,273.4 431.4,273.2 431.9,273.0 432.4,272.7 432.9,272.5 433.4,272.2 433.9,272.0 434.4,271.7 434.9,271.5 435.4,271.3 435.9,271.0 436.4,270.8 436.9,270.5 437.4,270.3 437.9,270.1 438.4,269.8 438.9,269.6 439.4,269.3 439.9,269.1 440.4,268.9 440.9,268.6 441.4,268.4 441.9,268.2 442.4,267.9 442.9,267.7 443.4,267.5 443.9,267.2 444.4,267.0 444.9,266.7 445.4,266.5 445.9,266.3 446.4,266.0 446.9,265.8 447.4,265.6 447.9,265.3 448.4,265.1 448.9,264.9 449.4,264.6 449.9,264.4 450.4,264.2 450.9,264.0 451.4,263.7 451.9,263.5 452.4,263.3 452.9,263.0 453.4,262.8 453.9,262.6 454.4,262.3 454.9,262.1 455.4,261.9 455.9,261.7 456.4,261.4 456.9,261.2 457.4,261.0 457.9,260.7 458.4,260.5 458.9,260.3 459.4,260.1 459.9,259.8 460.4,259.6 460.9,259.4 461.4,259.2 461.9,258.9 462.4,258.7 462.9,258.5 463.4,258.3 463.9,258.1 464.4,257.8 464.9,257.6 465.4,257.4 465.9,257.2 466.4,256.9 466.9,256.7 467.4,256.5 467.9,256.3 468.4,256.1 468.9,255.8 469.4,255.6 469.9,255.4 470.4,255.2 470.9,255.0 471.4,254.7 471.9,254.5 472.4,254.3 472.9,254.1 473.4,253.9 473.9,253.7 474.4,253.4 474.9,253.2 475.4,253.0 475.9,252.8 476.4,252.6 476.9,252.4 477.4,252.1 477.9,251.9 478.4,251.7 478.9,251.5 479.4,251.3 479.9,251.1 480.4,250.9 480.9,250.6 481.4,250.4 481.9,250.2 482.4,250.0 482.9,249.8 483.4,249.6 483.9,249.4 484.4,249.2 484.9,248.9 485.4,248.7 485.9,248.5 486.4,248.3 486.9,248.1 487.4,247.9 487.9,247.7 488.4,247.5 488.9,247.3 489.4,247.1 489.9,246.8 490.4,246.6 490.9,246.4 491.4,246.2 491.9,246.0 492.4,245.8 492.9,245.6 493.4,245.4 493.9,245.2 494.4,245.0 494.9,244.8 495.4,244.6 495.9,244.4 496.4,244.2 496.9,244.0 497.4,243.7 497.9,243.5 498.4,243.3 498.9,243.1 499.4,242.9 499.9,242.7 500.4,242.5 500.9,242.3 501.4,242.1 501.9,241.9 502.4,241.7 502.9,241.5 503.4,241.3 503.9,241.1 504.4,240.9 504.9,240.7 505.4,240.5 505.9,240.3 506.4,240.1 506.9,239.9 507.4,239.7 507.9,239.5 508.4,239.3 508.9,239.1 509.4,238.9 509.9,238.7 510.4,238.5 510.9,238.3 511.4,238.1 511.9,237.9 512.4,237.7 512.9,237.5 513.4,237.3 513.9,237.1 514.4,236.9 514.9,236.7 515.4,236.5 515.9,236.3 516.4,236.1 516.9,235.9 517.4,235.7 517.9,235.5 518.4,235.3 518.9,235.1 519.4,234.9 519.9,234.7 520.4,234.5 520.9,234.3 521.4,234.1 521.9,233.9 522.4,233.7 522.9,233.5 523.4,233.3 523.9,233.1 524.4,233.0 524.9,232.8 525.4,232.6 525.9,232.4 526.4,232.2 526.9,232.0 527.4,231.8 527.9,231.6 528.4,231.4 528.9,231.2 529.4,231.0 529.9,230.8 530.4,230.6 530.9,230.4 531.4,230.2 531.9,230.0 532.4,229.8 532.9,229.6 533.4,229.5 533.9,229.3 534.4,229.1 534.9,228.9 535.4,228.7 535.9,228.5 536.4,228.3 536.9,228.1 537.4,227.9 537.9,227.7 538.4,227.5 538.9,227.3 539.4,227.1 539.9,226.9 540.4,226.8 540.9,226.6 541.4,226.4 541.9,226.2 542.4,226.0 542.9,225.8 543.4,225.6 543.9,225.4 544.4,225.2 544.9,225.0 545.4,224.8 545.9,224.7 546.4,224.5 546.9,224.3 547.4,224.1 547.9,223.9 548.4,223.7 548.9,223.5 549.4,223.3 549.9,223.1 550.4,222.9 550.9,222.7 551.4,222.6 551.9,222.4 552.4,222.2 552.9,222.0 553.4,221.8 553.9,221.6 554.4,221.4 554.9,221.2 555.4,221.0 555.9,220.9 556.4,220.7 556.9,220.5 557.4,220.3 557.9,220.1 558.4,219.9 558.9,219.7 559.4,219.5 559.9,219.3 560.4,219.2 560.9,219.0 561.4,218.8 561.9,218.6 562.4,218.4 562.9,218.2 563.4,218.0 563.9,217.8 564.4,217.7 564.9,217.5 565.4,217.3 565.9,217.1 566.4,216.9 566.9,216.7 567.4,216.5 567.9,216.3 568.4,216.2 568.9,216.0 569.4,215.8 569.9,215.6 570.4,215.4 570.9,215.2 571.4,215.0 571.9,214.8 572.4,214.7 572.9,214.5 573.4,214.3 573.9,214.1 574.4,213.9 574.9,213.7 575.4,213.5 575.9,213.3 576.4,213.2 576.9,213.0 577.4,212.8 577.9,212.6 578.4,212.4 578.9,212.2 579.4,212.0 579.9,211.9 580.4,211.7 580.9,211.5 581.4,211.3 581.9,211.1 582.4,210.9 582.9,210.7 583.4,210.6 583.9,210.4 584.4,210.2 584.9,210.0 585.4,209.8 585.9,209.6 586.4,209.4 586.9,209.3 587.4,209.1 587.9,208.9 588.4,208.7 588.9,208.5 589.4,208.3 589.9,208.1 590.4,208.0 590.9,207.8 591.4,207.6 591.9,207.4 592.4,207.2 592.9,207.0 593.4,206.8 593.9,206.7 594.4,206.5 594.9,206.3 595.4,206.1 595.9,205.9 596.4,205.7 596.9,205.5 597.4,205.4 597.9,205.2 598.4,205.0 598.9,204.8 599.4,204.6 599.9,204.4 600.4,204.2 600.9,204.1 601.4,203.9 601.9,203.7 602.4,203.5 602.9,203.3 603.4,203.1 603.9,203.0 604.4,202.8 604.9,202.6 605.4,202.4 605.9,202.2 606.4,202.0 606.9,201.8 607.4,201.7 607.9,201.5 608.4,201.3 608.9,201.1 609.4,200.9 609.9,200.7 610.4,200.6 610.9,200.4 611.4,200.2 611.9,200.0 612.4,199.8 612.9,199.6 613.4,199.4 613.9,199.3 614.4,199.1 614.9,198.9 615.4,198.7 615.9,198.5 616.4,198.3 616.9,198.2 617.4,198.0 617.9,197.8 618.4,197.6 618.9,197.4 619.4,197.2 619.9,197.0 620.4,196.9 620.9,196.7 621.4,196.5 621.9,196.3 622.4,196.1 622.9,195.9 623.4,195.8 623.9,195.6 624.4,195.4 624.9,195.2 625.4,195.0 625.9,194.8 626.4,194.6 626.9,194.5 627.4,194.3 627.9,194.1 628.4,193.9 628.9,193.7 629.4,193.5 629.9,193.4 630.4,193.2 630.9,193.0 631.4,192.8 631.9,192.6 632.4,192.4 632.9,192.3 633.4,192.1 633.9,191.9 634.4,191.7 634.9,191.5 635.4,191.3 635.9,191.1 636.4,191.0 636.9,190.8 637.4,190.6 637.9,190.4 638.4,190.2 638.9,190.0 639.4,189.9 639.9,189.7 640.4,189.5 640.9,189.3 641.4,189.1 641.9,188.9 642.4,188.8 642.9,188.6 643.4,188.4 643.9,188.2 644.4,188.0 644.9,187.9 645.4,187.7 645.9,187.5 646.4,187.3 646.9,187.1 647.4,186.9 647.9,186.8 648.4,186.6 648.9,186.4 649.4,186.2 649.9,186.0 650.4,185.8 650.9,185.7 651.4,185.5 651.9,185.3 652.4,185.1 652.9,184.9 653.4,184.8 653.9,184.6 654.4,184.4 654.9,184.2 655.4,184.0 655.9,183.8 656.4,183.7 656.9,183.5 657.4,183.3 657.9,183.1 658.4,182.9 658.9,182.8 659.4,182.6 659.9,182.4 660.4,182.2 660.9,182.0 661.4,181.9 661.9,181.7 662.4,181.5 662.9,181.3 663.4,181.1 663.9,181.0 664.4,180.8 664.9,180.6 665.4,180.4 665.9,180.2 666.4,180.1 666.9,179.9 667.4,179.7 667.9,179.5 668.4,179.4 668.9,179.2 669.4,179.0 669.9,178.8 670.4,178.6 670.9,178.5 671.4,178.3 671.9,178.1 672.4,177.9 672.9,177.8 673.4,177.6 673.9,177.4 674.4,177.2 674.9,177.0 675.4,176.9 675.9,176.7 676.4,176.5 676.9,176.3 677.4,176.2 677.9,176.0 678.4,175.8 678.9,175.6 679.4,175.5 679.9,175.3 680.4,175.1 680.9,174.9 681.4,174.8 681.9,174.6 682.4,174.4 682.9,174.2 683.4,174.1 683.9,173.9 684.4,173.7 684.9,173.5 685.4,173.4 685.9,173.2 686.4,173.0 686.9,172.8 687.4,172.7 687.9,172.5 688.4,172.3 688.9,172.1 689.4,172.0 689.9,171.8 690.4,171.6 690.9,171.5 691.4,171.3 691.9,171.1 692.4,170.9 692.9,170.8 693.4,170.6 693.9,170.4 694.4,170.2 694.9,170.1 695.4,169.9 695.9,169.7 696.4,169.6 696.9,169.4 697.4,169.2 697.9,169.0 698.4,168.9 698.9,168.7 699.4,168.5 699.9,168.4 700.4,168.2 700.9,168.0 701.4,167.9 701.9,167.7 702.4,167.5 702.9,167.3 703.4,167.2 703.9,167.0 704.4,166.8 704.9,166.7 705.4,166.5 705.9,166.3 706.4,166.2 706.9,166.0 707.4,165.8 707.9,165.7 708.4,165.5 708.9,165.3 709.4,165.2 709.9,165.0 710.4,164.8 710.9,164.7 711.4,164.5 711.9,164.3 712.4,164.2 712.9,164.0 713.4,163.8 713.9,163.7 714.4,163.5 714.9,163.3 715.4,163.2 715.9,163.0 716.4,162.8 716.9,162.7 717.4,162.5 717.9,162.3 718.4,162.2 718.9,162.0 719.4,161.9 719.9,161.7 720.4,161.5 720.9,161.4 721.4,161.2 721.9,161.0 722.4,160.9 722.9,160.7 723.4,160.6 723.9,160.4 724.4,160.2 724.9,160.1 725.4,159.9 725.9,159.7 726.4,159.6 726.9,159.4 727.4,159.3 727.9,159.1 728.4,158.9 728.9,158.8 729.4,158.6 729.9,158.5 730.4,158.3 730.9,158.1 731.4,158.0 731.9,157.8 732.4,157.7 732.9,157.5 733.4,157.3 733.9,157.2 734.4,157.0 734.9,156.9 735.4,156.7 735.9,156.6 736.4,156.4 736.9,156.2 737.4,156.1 737.9,155.9 738.4,155.8 738.9,155.6 739.4,155.5 739.9,155.3 740.4,155.1 740.9,155.0 741.4,154.8 741.9,154.7 742.4,154.5 742.9,154.4 743.4,154.2 743.9,154.1 744.4,153.9 744.9,153.7 745.4,153.6 745.9,153.4 746.4,153.3 746.9,153.1 747.4,153.0 747.9,152.8 748.4,152.7 748.9,152.5 749.4,152.4 749.9,152.2 750.4,152.1 750.9,151.9 751.4,151.8 751.9,151.6 752.4,151.4 752.9,151.3 753.4,151.1 753.9,151.0 754.4,150.8 754.9,150.7 755.4,150.5 755.9,150.4 756.4,150.2 756.9,150.1 757.4,149.9 757.9,149.8 758.4,149.6 758.9,149.5 759.4,149.3 759.9,149.2 760.4,149.1 760.9,148.9 761.4,148.8 761.9,148.6 762.4,148.5 762.9,148.3 763.4,148.2 763.9,148.0 764.4,147.9 764.9,147.7 765.4,147.6 765.9,147.4 766.4,147.3 766.9,147.1 767.4,147.0 767.9,146.8 768.4,146.7 768.9,146.6 769.4,146.4 769.9,146.3 770.4,146.1 770.9,146.0 771.4,145.8 771.9,145.7 772.4,145.5 772.9,145.4 773.4,145.3 773.9,145.1 774.4,145.0 774.9,144.8 775.4,144.7 775.9,144.5 776.4,144.4 776.9,144.3 777.4,144.1 777.9,144.0 778.4,143.8 778.9,143.7 779.4,143.6 779.9,143.4 780.4,143.3 780.9,143.1 781.4,143.0 781.9,142.9 782.4,142.7 782.9,142.6 783.4,142.4 783.9,142.3 784.4,142.2 784.9,142.0 785.4,141.9 785.9,141.7 786.4,141.6 786.9,141.5 787.4,141.3 787.9,141.2 788.4,141.1 788.9,140.9 789.4,140.8 789.9,140.6 790.4,140.5 790.9,140.4 791.4,140.2 791.9,140.1 792.4,140.0 792.9,139.8 793.4,139.7 793.9,139.6 794.4,139.4 794.9,139.3 795.4,139.2 795.9,139.0 796.4,138.9 796.9,138.8 797.4,138.6 797.9,138.5 798.4,138.4 798.9,138.2 799.4,138.1 799.9,138.0 800.4,137.8 800.9,137.7 801.4,137.6 801.9,137.4 802.4,137.3 802.9,137.2 803.4,137.0 803.9,136.9 804.4,136.8 804.9,136.6 805.4,136.5 805.9,136.4 806.4,136.2 806.9,136.1 807.4,136.0 807.9,135.9 808.4,135.7 808.9,135.6 809.4,135.5 809.9,135.3 810.4,135.2 810.9,135.1 811.4,135.0 811.9,134.8 812.4,134.7 812.9,134.6 813.4,134.4 813.9,134.3 814.4,134.2 814.9,134.1 815.4,133.9 815.9,133.8 816.4,133.7 816.9,133.6 817.4,133.4 817.9,133.3 818.4,133.2 818.9,133.0 819.4,132.9 819.9,132.8 820.4,132.7 820.9,132.5 821.4,132.4 821.9,132.3 822.4,132.2 822.9,132.0 823.4,131.9 823.9,131.8 824.4,131.7 824.9,131.6 825.4,131.4 825.9,131.3 826.4,131.2 826.9,131.1 827.4,130.9 827.9,130.8 828.4,130.7 828.9,130.6 829.4,130.4 829.9,130.3 830.4,130.2 830.9,130.1 831.4,130.0 831.9,129.8 832.4,129.7 832.9,129.6 833.4,129.5 833.9,129.4 834.4,129.2 834.9,129.1 835.4,129.0 835.9,128.9 836.4,128.8 836.9,128.6 837.8,128.4" stroke="#007a00"/>
<polyline points="119.9,607.5 120.4,607.5 120.9,607.5 121.4,607.4 121.9,607.4 122.4,607.4 122.9,607.3 123.4,607.3 123.9,607.2 124.4,607.2 124.9,607.1 125.4,607.0 125.9,606.9 126.4,606.8 126.9,606.7 127.4,606.5 127.9,606.3 128.4,606.1 128.9,605.8 129.4,605.5 129.9,605.2 130.4,604.9 130.9,604.6 131.4,604.1 131.9,603.6 132.4,603.1 132.9,602.5 133.4,601.8 133.9,601.2 134.4,600.5 134.9,599.8 135.4,599.1 135.9,598.4 136.4,597.6 136.9,596.7 137.4,595.9 137.9,595.0 138.4,594.0 138.9,593.0 139.4,592.0 139.9,590.9 140.4,589.8 140.9,588.5 141.4,587.2 141.9,585.8 142.4,584.4 142.9,582.9 143.4,581.4 143.9,579.9 144.4,578.3 144.9,576.7 145.4,575.0 145.9,573.3 146.4,571.4 146.9,569.4 147.4,567.3 147.9,564.8 148.4,562.2 148.9,559.7 149.4,557.4 149.9,555.2 150.4,553.0 150.9,550.9 151.4,548.9 151.9,546.9 152.4,545.0 152.9,543.1 153.4,541.3 153.9,539.5 154.4,537.7 154.9,536.0 155.4,534.3 155.9,532.6 156.4,531.0 156.9,529.5 157.4,527.9 157.9,526.4 158.4,524.9 158.9,523.4 159.4,522.0 159.9,520.6 160.4,519.2 160.9,517.8 161.4,516.5 161.9,515.2 162.4,513.8 162.9,512.6 163.4,511.3 163.9,510.0 164.4,508.8 164.9,507.6 165.4,506.4 165.9,505.2 166.4,504.0 166.9,502.8 167.4,501.7 167.9,500.5 168.4,499.4 168.9,498.3 169.4,497.2 169.9,496.1 170.4,495.0 170.9,493.9 171.4,492.8 171.9,491.7 172.4,490.7 172.9,489.6 173.4,488.6 173.9,487.5 174.4,486.5 174.9,485.5 175.4,484.5 175.9,483.5 176.4,482.5 176.9,481.5 177.4,480.5 177.9,479.5 178.4,478.5 178.9,477.6 179.4,476.6 179.9,475.7 180.4,474.7 180.9,473.8 181.4,472.8 181.9,471.9 182.4,471.0 182.9,470.1 183.4,469.2 183.9,468.2 184.4,467.3 184.9,466.4 185.4,465.6 185.9,464.7 186.4,463.8 186.9,462.9 187.4,462.0 187.9,461.2 188.4,460.3 188.9,459.5 189.4,458.6 189.9,457.8 190.4,456.9 190.9,456.1 191.4,455.3 191.9,454.4 192.4,453.6 192.9,452.8 193.4,452.0 193.9,451.2 194.4,450.4 194.9,449.6 195.4,448.8 195.9,448.0 196.4,447.2 196.9,446.4 197.4,445.6 197.9,444.8 198.4,444.1 198.9,443.3 199.4,442.5 199.9,441.8 200.4,441.0 200.9,440.3 201.4,439.5 201.9,438.8 202.4,438.0 202.9,437.3 203.4,436.6 203.9,435.8 204.4,435.1 204.9,434.4 205.4,433.6 205.9,432.9 206.4,432.2 206.9,431.5 207.4,430.8 207.9,430.1 208.4,429.4 208.9,428.7 209.4,428.0 209.9,427.3 210.4,426.6 210.9,425.9 211.4,425.2 211.9,424.6 212.4,423.9 212.9,423.2 213.4,422.5 213.9,421.9 214.4,421.2 214.9,420.5 215.4,419.9 215.9,419.2 216.4,418.6 216.9,417.9 217.4,417.2 217.9,416.6 218.4,416.0 218.9,415.3 219.4,414.7 219.9,414.0 220.4,413.4 220.9,412.8 221.4,412.1 221.9,411.5 222.4,410.9 222.9,410.3 223.4,409.6 223.9,409.0 224.4,408.4 224.9,407.8 225.4,407.2 225.9,406.6 226.4,406.0 226.9,405.4 227.4,404.8 227.9,404.2 228.4,403.6 228.9,403.0 229.4,402.4 229.9,401.8 230.4,401.2 230.9,400.6 231.4,400.0 231.9,399.4 232.4,398.9 232.9,398.3 233.4,397.7 233.9,397.1 234.4,396.6 234.9,396.0 235.4,395.4 235.9,394.9 236.4,394.3 236.9,393.7 237.4,393.2 237.9,392.6 238.4,392.0 238.9,391.5 239.4,390.9 239.9,390.4 240.4,389.8 240.9,389.3 241.4,388.7 241.9,388.2 242.4,387.7 242.9,387.1 243.4,386.6 243.9,386.0 244.4,385.5 244.9,385.0 245.4,384.4 245.9,383.9 246.4,383.4 246.9,382.9 247.4,382.3 247.9,381.8 248.4,381.3 248.9,380.8 249.4,380.2 249.9,379.7 250.4,379.2 250.9,378.7 251.4,378.2 251.9,377.7 252.4,377.2 252.9,376.7 253.4,376.1 253.9,375.6 254.4,375.1 254.9,374.6 255.4,374.1 255.9,373.6 256.4,373.1 256.9,372.6 257.4,372.1 257.9,371.7 258.4,371.2 258.9,370.7 259.4,370.2 259.9,369.7 260.4,369.2 260.9,368.7 261.4,368.2 261.9,367.8 262.4,367.3 262.9,366.8 263.4,366.3 263.9,365.8 264.4,365.4 264.9,364.9 265.4,364.4 265.9,363.9 266.4,363.5 266.9,363.0 267.4,362.5 267.9,362.1 268.4,361.6 268.9,361.1 269.4,360.7 269.9,360.2 270.4,359.8 270.9,359.3 271.4,358.8 271.9,358.4 272.4,357.9 272.9,357.5 273.4,357.0 273.9,356.6 274.4,356.1 274.9,355.7 275.4,355.2 275.9,354.8 276.4,354.3 276.9,353.9 277.4,353.4 277.9,353.0 278.4,352.6 278.9,352.1 279.4,351.7 279.9,351.2 280.4,350.8 280.9,350.4 281.4,349.9 281.9,349.5 282.4,349.1 282.9,348.6 283.4,348.2 283.9,347.8 284.4,347.3 284.9,346.9 285.4,346.5 285.9,346.1 286.4,345.6 286.9,345.2 287.4,344.8 287.9,344.4 288.4,343.9 288.9,343.5 289.4,343.1 289.9,342.7 290.4,342.3 290.9,341.9 291.4,341.4 291.9,341.0 292.4,340.6 292.9,340.2 293.4,339.8 293.9,339.4 294.4,339.0 294.9,338.6 295.4,338.2 295.9,337.7 296.4,337.3 296.9,336.9 297.4,336.5 297.9,336.1 298.4,335.7 298.9,335.3 299.4,334.9 299.9,334.5 300.4,334.1 300.9,333.7 301.4,333.3 301.9,332.9 302.4,332.5 302.9,332.2 303.4,331.8 303.9,331.4 304.4,331.0 304.9,330.6 305.4,330.2 305.9,329.8 306.4,329.4 306.9,329.0 307.4,328.6 307.9,328.3 308.4,327.9 308.9,327.5 309.4,327.1 309.9,326.7 310.4,326.3 310.9,326.0 311.4,325.6 311.9,325.2 312.4,324.8 312.9,324.5 313.4,324.1 313.9,323.7 314.4,323.3 314.9,323.0 315.4,322.6 315.9,322.2 316.4,321.8 316.9,321.5 317.4,321.1 317.9,320.7 318.4,320.4 318.9,320.0 319.4,319.6 319.9,319.2 320.4,318.9 320.9,318.5 321.4,318.2 321.9,317.8 322.4,317.4 322.9,317.1 323.4,316.7 323.9,316.3 324.4,316.0 324.9,315.6 325.4,315.3 325.9,314.9 326.4,314.5 326.9,314.2 327.4,313.8 327.9,313.5 328.4,313.1 328.9,312.8 329.4,312.4 329.9,312.1 330.4,311.7 330.9,311.3 331.4,311.0 331.9,310.6 332.4,310.3 332.9,309.9 333.4,309.6 333.9,309.2 334.4,308.9 334.9,308.6 335.4,308.2 335.9,307.9 336.4,307.5 336.9,307.2 337.4,306.8 337.9,306.5 338.4,306.1 338.9,305.8 339.4,305.5 339.9,305.1 340.4,304.8 340.9,304.4 341.4,304.1 341.9,303.8 342.4,303.4 342.9,303.1 343.4,302.7 343.9,302.4 344.4,302.1 344.9,301.7 345.4,301.4 345.9,301.1 346.4,300.7 346.9,300.4 347.4,300.1 347.9,299.7 348.4,299.4 348.9,299.1 349.4,298.8 349.9,298.4 350.4,298.1 350.9,297.8 351.4,297.4 351.9,297.1 352.4,296.8 352.9,296.5 353.4,296.1 353.9,295.8 354.4,295.5 354.9,295.2 355.4,294.8 355.9,294.5 356.4,294.2 356.9,293.9 357.4,293.5 357.9,293.2 358.4,292.9 358.9,292.6 359.4,292.3 359.9,291.9 360.4,291.6 360.9,291.3 361.4,291.0 361.9,290.7 362.4,290.4 362.9,290.0 363.4,289.7 363.9,289.4 364.4,289.1 364.9,288.8 365.4,288.5 365.9,288.2 366.4,287.8 366.9,287.5 367.4,287.2 367.9,286.9 368.4,286.6 368.9,286.3 369.4,286.0 369.9,285.7 370.4,285.4 370.9,285.1 371.4,284.7 371.9,284.4 372.4,284.1 372.9,283.8 373.4,283.5 373.9,283.2 374.4,282.9 374.9,282.6 375.4,282.3 375.9,282.0 376.4,281.7 376.9,281.4 377.4,281.1 377.9,280.8 378.4,280.5 378.9,280.2 379.4,279.9 379.9,279.6 380.4,279.3 380.9,279.0 381.4,278.7 381.9,278.4 382.4,278.1 382.9,277.8 383.4,277.5 383.9,277.2 384.4,276.9 384.9,276.6 385.4,276.3 385.9,276.0 386.4,275.7 386.9,275.4 387.4,275.1 387.9,274.8 388.4,274.5 388.9,274.2 389.4,274.0 389.9,273.7 390.4,273.4 390.9,273.1 391.4,272.8 391.9,272.5 392.4,272.2 392.9,271.9 393.4,271.6 393.9,271.3 394.4,271.0 394.9,270.8 395.4,270.5 395.9,270.2 396.4,269.9 396.9,269.6 397.4,269.3 397.9,269.0 398.4,268.8 398.9,268.5 399.4,268.2 399.9,267.9 400.4,267.6 400.9,267.3 401.4,267.1 401.9,266.8 402.4,266.5 402.9,266.2 403.4,265.9 403.9,265.6 404.4,265.4 404.9,265.1 405.4,264.8 405.9,264.5 406.4,264.2 406.9,264.0 407.4,263.7 407.9,263.4 408.4,263.1 408.9,262.8 409.4,262.6 409.9,262.3 410.4,262.0 410.9,261.7 411.4,261.5 411.9,261.2 412.4,260.9 412.9,260.6 413.4,260.4 413.9,260.1 414.4,259.8 414.9,259.5 415.4,259.3 415.9,259.0 416.4,258.7 416.9,258.5 417.4,258.2 417.9,257.9 418.4,257.6 418.9,257.4 419.4,257.1 419.9,256.8 420.4,256.6 420.9,256.3 421.4,256.0 421.9,255.7 422.4,255.5 422.9,255.2 423.4,254.9 423.9,254.7 424.4,254.4 424.9,254.1 425.4,253.9 425.9,253.6 426.4,253.3 426.9,253.1 427.4,252.8 427.9,252.5 428.4,252.3 428.9,252.0 429.4,251.8 429.9,251.5 430.4,251.2 430.9,251.0 431.4,250.7 431.9,250.4 432.4,250.2 432.9,249.9 433.4,249.6 433.9,249.4 434.4,249.1 434.9,248.9 435.4,248.6 435.9,248.3 436.4,248.1 436.9,247.8 437.4,247.6 437.9,247.3 438.4,247.0 438.9,246.8 439.4,246.5 439.9,246.3 440.4,246.0 440.9,245.8 441.4,245.5 441.9,245.2 442.4,245.0 442.9,244.7 443.4,244.5 443.9,244.2 444.4,244.0 444.9,243.7 445.4,243.5 445.9,243.2 446.4,242.9 446.9,242.7 447.4,242.4 447.9,242.2 448.4,241.9 448.9,241.7 449.4,241.4 449.9,241.2 450.4,240.9 450.9,240.7 451.4,240.4 451.9,240.2 452.4,239.9 452.9,239.7 453.4,239.4 453.9,239.2 454.4,238.9 454.9,238.7 455.4,238.4 455.9,238.2 456.4,237.9 456.9,237.7 457.4,237.4 457.9,237.2 458.4,236.9 458.9,236.7 459.4,236.4 459.9,236.2 460.4,235.9 460.9,235.7 461.4,235.4 461.9,235.2 462.4,235.0 462.9,234.7 463.4,234.5 463.9,234.2 464.4,234.0 464.9,233.7 465.4,233.5 465.9,233.2 466.4,233.0 466.9,232.8 467.4,232.5 467.9,232.3 468.4,232.0 468.9,231.8 469.4,231.5 469.9,231.3 470.4,231.1 470.9,230.8 471.4,230.6 471.9,230.3 472.4,230.1 472.9,229.9 473.4,229.6 473.9,229.4 474.4,229.1 474.9,228.9 475.4,228.7 475.9,228.4 476.4,228.2 476.9,227.9 477.4,227.7 477.9,227.5 478.4,227.2 478.9,227.0 479.4,226.7 479.9,226.5 480.4,226.3 480.9,226.0 481.4,225.8 481.9,225.6 482.4,225.3 482.9,225.1 483.4,224.8 483.9,224.6 484.4,224.4 484.9,224.1 485.4,223.9 485.9,223.7 486.4,223.4 486.9,223.2 487.4,223.0 487.9,222.7 488.4,222.5 488.9,222.3 489.4,222.0 489.9,221.8 490.4,221.6 490.9,221.3 491.4,221.1 491.9,220.9 492.4,220.6 492.9,220.4 493.4,220.2 493.9,219.9 494.4,219.7 494.9,219.5 495.4,219.3 495.9,219.0 496.4,218.8 496.9,218.6 497.4,218.3 497.9,218.1 498.4,217.9 498.9,217.7 499.4,217.4 499.9,217.2 500.4,217.0 500.9,216.7 501.4,216.5 501.9,216.3 502.4,216.1 502.9,215.8 503.4,215.6 503.9,215.4 504.4,215.2 504.9,214.9 505.4,214.7 505.9,214.5 506.4,214.2 506.9,214.0 507.4,213.8 507.9,213.6 508.4,213.4 508.9,213.1 509.4,212.9 509.9,212.7 510.4,212.5 510.9,212.2 511.4,212.0 511.9,211.8 512.4,211.6 512.9,211.3 513.4,211.1 513.9,210.9 514.4,210.7 514.9,210.5 515.4,210.2 515.9,210.0 516.4,209.8 516.9,209.6 517.4,209.4 517.9,209.1 518.4,208.9 518.9,208.7 519.4,208.5 519.9,208.3 520.4,208.0 520.9,207.8 521.4,207.6 521.9,207.4 522.4,207.2 522.9,207.0 523.4,206.7 523.9,206.5 524.4,206.3 524.9,206.1 525.4,205.9 525.9,205.7 526.4,205.4 526.9,205.2 527.4,205.0 527.9,204.8 528.4,204.6 528.9,204.4 529.4,204.1 529.9,203.9 530.4,203.7 530.9,203.5 531.4,203.3 531.9,203.1 532.4,202.9 532.9,202.7 533.4,202.4 533.9,202.2 534.4,202.0 534.9,201.8 535.4,201.6 535.9,201.4 536.4,201.2 536.9,201.0 537.4,200.7 537.9,200.5 538.4,200.3 538.9,200.1 539.4,199.9 539.9,199.7 540.4,199.5 540.9,199.3 541.4,199.1 541.9,198.9 542.4,198.6 542.9,198.4 543.4,198.2 543.9,198.0 544.4,197.8 544.9,197.6 545.4,197.4 545.9,197.2 546.4,197.0 546.9,196.8 547.4,196.6 547.9,196.4 548.4,196.1 548.9,195.9 549.4,195.7 549.9,195.5 550.4,195.3 550.9,195.1 551.4,194.9 551.9,194.7 552.4,194.5 552.9,194.3 553.4,194.1 553.9,193.9 554.4,193.7 554.9,193.5 555.4,193.3 555.9,193.1 556.4,192.9 556.9,192.6 557.4,192.4 557.9,192.2 558.4,192.0 558.9,191.8 559.4,191.6 559.9,191.4 560.4,191.2 560.9,191.0 561.4,190.8 561.9,190.6 562.4,190.4 562.9,190.2 563.4,190.0 563.9,189.8 564.4,189.6 564.9,189.4 565.4,189.2 565.9,189.0 566.4,188.8 566.9,188.6 567.4,188.4 567.9,188.2 568.4,188.0 568.9,187.8 569.4,187.6 569.9,187.4 570.4,187.2 570.9,187.0 571.4,186.8 571.9,186.6 572.4,186.4 572.9,186.2 573.4,186.0 573.9,185.8 574.4,185.6 574.9,185.4 575.4,185.2 575.9,185.0 576.4,184.8 576.9,184.6 577.4,184.4 577.9,184.2 578.4,184.0 578.9,183.8 579.4,183.6 579.9,183.4 580.4,183.2 580.9,183.0 581.4,182.8 581.9,182.6 582.4,182.4 582.9,182.2 583.4,182.0 583.9,181.8 584.4,181.6 584.9,181.4 585.4,181.2 585.9,181.0 586.4,180.8 586.9,180.6 587.4,180.4 587.9,180.2 588.4,180.0 588.9,179.8 589.4,179.6 589.9,179.4 590.4,179.2 590.9,179.0 591.4,178.8 591.9,178.6 592.4,178.4 592.9,178.2 593.4,178.0 593.9,177.8 594.4,177.6 594.9,177.4 595.4,177.2 595.9,177.0 596.4,176.8 596.9,176.7 597.4,176.5 597.9,176.3 598.4,176.1 598.9,175.9 599.4,175.7 599.9,175.5 600.4,175.3 600.9,175.1 601.4,174.9 601.9,174.7 602.4,174.5 602.9,174.3 603.4,174.1 603.9,173.9 604.4,173.7 604.9,173.5 605.4,173.3 605.9,173.1 606.4,172.9 606.9,172.7 607.4,172.6 607.9,172.4 608.4,172.2 608.9,172.0 609.4,171.8 609.9,171.6 610.4,171.4 610.9,171.2 611.4,171.0 611.9,170.8 612.4,170.6 612.9,170.4 613.4,170.2 613.9,170.0 614.4,169.8 614.9,169.7 615.4,169.5 615.9,169.3 616.4,169.1 616.9,168.9 617.4,168.7 617.9,168.5 618.4,168.3 618.9,168.1 619.4,167.9 619.9,167.7 620.4,167.5 620.9,167.3 621.4,167.2 621.9,167.0 622.4,166.8 622.9,166.6 623.4,166.4 623.9,166.2 624.4,166.0 624.9,165.8 625.4,165.6 625.9,165.4 626.4,165.2 626.9,165.0 627.4,164.9 627.9,164.7 628.4,164.5 628.9,164.3 629.4,164.1 629.9,163.9 630.4,163.7 630.9,163.5 631.4,163.3 631.9,163.1 632.4,163.0 632.9,162.8 633.4,162.6 633.9,162.4 634.4,162.2 634.9,162.0 635.4,161.8 635.9,161.6 636.4,161.4 636.9,161.3 637.4,161.1 637.9,160.9 638.4,160.7 638.9,160.5 639.4,160.3 639.9,160.1 640.4,159.9 640.9,159.7 641.4,159.6 641.9,159.4 642.4,159.2 642.9,159.0 643.4,158.8 643.9,158.6 644.4,158.4 644.9,158.2 645.4,158.0 645.9,157.9 646.4,157.7 646.9,157.5 647.4,157.3 647.9,157.1 648.4,156.9 648.9,156.7 649.4,156.5 649.9,156.4 650.4,156.2 650.9,156.0 651.4,155.8 651.9,155.6 652.4,155.4 652.9,155.2 653.4,155.1 653.9,154.9 654.4,154.7 654.9,154.5 655.4,154.3 655.9,154.1 656.4,153.9 656.9,153.8 657.4,153.6 657.9,153.4 658.4,153.2 658.9,153.0 659.4,152.8 659.9,152.6 660.4,152.5 660.9,152.3 661.4,152.1 661.9,151.9 662.4,151.7 662.9,151.5 663.4,151.3 663.9,151.2 664.4,151.0 664.9,150.8 665.4,150.6 665.9,150.4 666.4,150.2 666.9,150.0 667.4,149.9 667.9,149.7 668.4,149.5 668.9,149.3 669.4,149.1 669.9,148.9 670.4,148.8 670.9,148.6 671.4,148.4 671.9,148.2 672.4,148.0 672.9,147.8 673.4,147.7 673.9,147.5 674.4,147.3 674.9,147.1 675.4,146.9 675.9,146.7 676.4,146.6 676.9,146.4 677.4,146.2 677.9,146.0 678.4,145.8 678.9,145.6 679.4,145.5 679.9,145.3 680.4,145.1 680.9,144.9 681.4,144.7 681.9,144.6 682.4,144.4 682.9,144.2 683.4,144.0 683.9,143.8 684.4,143.6 684.9,143.5 685.4,143.3 685.9,143.1 686.4,142.9 686.9,142.7 687.4,142.6 687.9,142.4 688.4,142.2 688.9,142.0 689.4,141.8 689.9,141.6 690.4,141.5 690.9,141.3 691.4,141.1 691.9,140.9 692.4,140.7 692.9,140.6 693.4,140.4 693.9,140.2 694.4,140.0 694.9,139.8 695.4,139.7 695.9,139.5 696.4,139.3 696.9,139.1 697.4,138.9 697.9,138.8 698.4,138.6 698.9,138.4 699.4,138.2 699.9,138.0 700.4,137.9 700.9,137.7 701.4,137.5 701.9,137.3 702.4,137.1 702.9,137.0 703.4,136.8 703.9,136.6 704.4,136.4 704.9,136.2 705.4,136.1 705.9,135.9 706.4,135.7 706.9,135.5 707.4,135.4 707.9,135.2 708.4,135.0 708.9,134.8 709.4,134.6 709.9,134.5 710.4,134.3 710.9,134.1 711.4,133.9 711.9,133.8 712.4,133.6 712.9,133.4 713.4,133.2 713.9,133.0 714.4,132.9 714.9,132.7 715.4,132.5 715.9,132.3 716.4,132.2 716.9,132.0 717.4,131.8 717.9,131.6 718.4,131.4 718.9,131.3 719.4,131.1 719.9,130.9 720.4,130.7 720.9,130.6 721.4,130.4 721.9,130.2 722.4,130.0 722.9,129.9 723.4,129.7 723.9,129.5 724.4,129.3 724.9,129.1 725.4,129.0 725.9,128.8 726.4,128.6 726.9,128.4 727.4,128.3 727.9,128.1 728.4,127.9 728.9,127.7 729.4,127.6 729.9,127.4 730.4,127.2 730.9,127.0 731.4,126.9 731.9,126.7 732.4,126.5 732.9,126.3 733.4,126.2 733.9,126.0 734.4,125.8 734.9,125.6 735.4,125.5 735.9,125.3 736.4,125.1 736.9,124.9 737.4,124.8 737.9,124.6 738.4,124.4 738.9,124.2 739.4,124.1 739.9,123.9 740.4,123.7 740.9,123.5 741.4,123.4 741.9,123.2 742.4,123.0 742.9,122.8 743.4,122.7 743.9,122.5 744.4,122.3 744.9,122.2 745.4,122.0 745.9,121.8 746.4,121.6 746.9,121.5 747.4,121.3 747.9,121.1 748.4,120.9 748.9,120.8 749.4,120.6 749.9,120.4 750.4,120.2 750.9,120.1 751.4,119.9 751.9,119.7 752.4,119.6 752.9,119.4 753.4,119.2 753.9,119.0 754.4,118.9 754.9,118.7 755.4,118.5 755.9,118.3 756.4,118.2 756.9,118.0 757.4,117.8 757.9,117.7 758.4,117.5 758.9,117.3 759.4,117.1 759.9,117.0 760.4,116.8 760.9,116.6 761.4,116.5 761.9,116.3 762.4,116.1 762.9,115.9 763.4,115.8 763.9,115.6 764.4,115.4 764.9,115.3 765.4,115.1 765.9,114.9 766.4,114.7 766.9,114.6 767.4,114.4 767.9,114.2 768.4,114.1 768.9,113.9 769.4,113.7 769.9,113.5 770.4,113.4 770.9,113.2 771.4,113.0 771.9,112.9 772.4,112.7 772.9,112.5 773.4,112.4 773.9,112.2 774.4,112.0 774.9,111.8 775.4,111.7 775.9,111.5 776.4,111.3 776.9,111.2 777.4,111.0 777.9,110.8 778.4,110.7 778.9,110.5 779.4,110.3 779.9,110.1 780.4,110.0 780.9,109.8 781.4,109.6 781.9,109.5 782.4,109.3 782.9,109.1 783.4,109.0 783.9,108.8 784.4,108.6 784.9,108.5 785.4,108.3 785.9,108.1 786.4,108.0 786.9,107.8 787.4,107.6 787.9,107.4 788.4,107.3 788.9,107.1 789.4,106.9 789.9,106.8 790.4,106.6 790.9,106.4 791.4,106.3 791.9,106.1 792.4,105.9 792.9,105.8 793.4,105.6 793.9,105.4 794.4,105.3 794.9,105.1 795.4,104.9 795.9,104.8 796.4,104.6 796.9,104.4 797.4,104.3 797.9,104.1 798.4,103.9 798.9,103.8 799.4,103.6 799.9,103.4 800.4,103.3 800.9,103.1 801.4,102.9 801.9,102.8 802.4,102.6 802.9,102.4 803.4,102.3 803.9,102.1 804.4,101.9 804.9,101.8 805.4,101.6 805.9,101.4 806.4,101.3 806.9,101.1 807.4,100.9 807.9,100.8 808.4,100.6 808.9,100.4 809.4,100.3 809.9,100.1 810.4,99.9 810.9,99.8 811.4,99.6 811.9,99.4 812.4,99.3 812.9,99.1 813.4,98.9 813.9,98.8 814.4,98.6 814.9,98.4 815.4,98.3 815.9,98.1 816.4,97.9 816.9,97.8 817.4,97.6 817.9,97.4 818.4,97.3 818.9,97.1 819.4,96.9 819.9,96.8 820.4,96.6 820.9,96.5 821.4,96.3 821.9,96.1 822.4,96.0 822.9,95.8 823.4,95.6 823.9,95.5 824.4,95.3 824.9,95.1 825.4,95.0 825.9,94.8 826.4,94.6 826.9,94.5 827.4,94.3 827.9,94.2 828.4,94.0 828.9,93.8 829.4,93.7 829.9,93.5 830.4,93.3 830.9,93.2 831.4,93.0 831.9,92.8 832.4,92.7 832.9,92.5 833.4,92.3 833.9,92.2 834.4,92.0 834.9,91.9 835.4,91.7 835.9,91.5 836.4,91.4 836.9,91.2 837.8,90.9" stroke="#87260a"/>
<polyline points="119.9,607.5 120.4,607.5 120.9,607.5 121.4,607.4 121.9,607.4 122.4,607.4 122.9,607.3 123.4,607.3 123.9,607.2 124.4,607.2 124.9,607.1 125.4,607.0 125.9,606.9 126.4,606.8 126.9,606.7 127.4,606.5 127.9,606.3 128.4,606.1 128.9,605.8 129.4,605.5 129.9,605.2 130.4,604.9 130.9,604.6 131.4,604.1 131.9,603.6 132.4,603.1 132.9,602.5 133.4,601.8 133.9,601.2 134.4,600.5 134.9,599.8 135.4,599.1 135.9,598.4 136.4,597.6 136.9,596.7 137.4,595.9 137.9,595.0 138.4,594.0 138.9,593.0 139.4,592.0 139.9,590.9 140.4,589.8 140.9,588.5 141.4,587.2 141.9,585.8 142.4,584.4 142.9,582.9 143.4,581.4 143.9,579.8 144.4,578.2" stroke="#e02020"/>
<polyline points="144.4,578.2 144.9,576.5 145.4,574.8 145.9,573.0 146.4,571.1 146.9,569.1 147.4,567.0 147.9,564.7 148.4,562.3 148.9,560.0 149.4,557.8 149.9,555.7 150.4,553.6 150.9,551.5 151.4,549.5 151.9,547.5 152.4,545.5 152.9,543.6 153.4,541.7 153.9,539.8 154.4,538.0 154.9,536.2 155.4,534.4 155.9,532.7 156.4,530.9 156.9,529.2 157.4,527.6 157.9,525.9 158.4,524.3 158.9,522.7 159.4,521.1 159.9,519.5 160.4,518.0 160.9,516.5 161.4,514.9 161.9,513.5 162.4,512.0 162.9,510.5 163.4,509.1 163.9,507.7 164.4,506.3 164.9,504.9 165.4,503.5 165.9,502.2 166.4,500.8 166.9,499.5 167.4,498.2 167.9,496.9 168.4,495.6 168.9,494.3 169.4,493.0 169.9,491.8 170.4,490.5 170.9,489.3 171.4,488.1 171.9,486.9 172.4,485.7 172.9,484.5 173.4,483.3 173.9,482.1 174.4,481.0 174.9,479.8 175.4,478.7 175.9,477.5 176.4,476.4 176.9,475.3 177.4,474.2 177.9,473.1 178.4,472.0 178.9,470.9 179.4,469.8 179.9,468.8 180.4,467.7 180.9,466.7 181.4,465.6 181.9,464.6 182.4,463.6 182.9,462.5 183.4,461.5 183.9,460.5 184.4,459.5 184.9,458.5 185.4,457.6 185.9,456.6 186.4,455.6 186.9,454.6 187.4,453.7 187.9,452.7 188.4,451.8 188.9,450.8 189.4,449.9 189.9,449.0 190.4,448.0 190.9,447.1 191.4,446.2 191.9,445.3 192.4,444.4 192.9,443.5 193.4,442.6 193.9,441.7 194.4,440.8 194.9,440.0 195.4,439.1 195.9,438.2 196.4,437.4 196.9,436.5 197.4,435.6 197.9,434.8 198.4,434.0 198.9,433.1 199.4,432.3 199.9,431.4 200.4,430.6 200.9,429.8 201.4,429.0 201.9,428.2 202.4,427.4 202.9,426.6 203.4,425.8 203.9,425.0 204.4,424.2 204.9,423.4 205.4,422.6 205.9,421.8 206.4,421.0 206.9,420.3 207.4,419.5 207.9,418.7 208.4,418.0 208.9,417.2 209.4,416.4 209.9,415.7 210.4,414.9 210.9,414.2 211.4,413.5 211.9,412.7 212.4,412.0 212.9,411.2 213.4,410.5 213.9,409.8 214.4,409.1 214.9,408.3 215.4,407.6 215.9,406.9 216.4,406.2 216.9,405.5 217.4,404.8 217.9,404.1 218.4,403.4 218.9,402.7 219.4,402.0 219.9,401.3 220.4,400.6 220.9,399.9 221.4,399.3 221.9,398.6 222.4,397.9 222.9,397.2 223.4,396.6 223.9,395.9 224.4,395.2 224.9,394.6 225.4,393.9 225.9,393.2 226.4,392.6 226.9,391.9 227.4,391.3 227.9,390.6 228.4,390.0 228.9,389.3 229.4,388.7 229.9,388.1 230.4,387.4 230.9,386.8 231.4,386.1 231.9,385.5 232.4,384.9 232.9,384.3 233.4,383.6 233.9,383.0 234.4,382.4 234.9,381.8 235.4,381.2 235.9,380.6 236.4,379.9 236.9,379.3 237.4,378.7 237.9,378.1 238.4,377.5 238.9,376.9 239.4,376.3 239.9,375.7 240.4,375.1 240.9,374.5 241.4,373.9 241.9,373.3 242.4,372.8 242.9,372.2 243.4,371.6 243.9,371.0 244.4,370.4 244.9,369.9 245.4,369.3 245.9,368.7 246.4,368.1 246.9,367.6 247.4,367.0 247.9,366.4 248.4,365.9 248.9,365.3 249.4,364.7 249.9,364.2 250.4,363.6 250.9,363.0 251.4,362.5 251.9,361.9 252.4,361.4 252.9,360.8 253.4,360.3 253.9,359.7 254.4,359.2 254.9,358.6 255.4,358.1 255.9,357.6 256.4,357.0 256.9,356.5 257.4,355.9 257.9,355.4 258.4,354.9 258.9,354.3 259.4,353.8 259.9,353.3 260.4,352.7 260.9,352.2 261.4,351.7 261.9,351.2 262.4,350.6 262.9,350.1 263.4,349.6 263.9,349.1 264.4,348.6 264.9,348.1 265.4,347.5 265.9,347.0 266.4,346.5 266.9,346.0 267.4,345.5 267.9,345.0 268.4,344.5 268.9,344.0 269.4,343.5 269.9,343.0 270.4,342.5 270.9,342.0 271.4,341.5 271.9,341.0 272.4,340.5 272.9,340.0 273.4,339.5 273.9,339.0 274.4,338.5 274.9,338.0 275.4,337.5 275.9,337.0 276.4,336.6 276.9,336.1 277.4,335.6 277.9,335.1 278.4,334.6 278.9,334.1 279.4,333.7 279.9,333.2 280.4,332.7 280.9,332.2 281.4,331.8 281.9,331.3 282.4,330.8 282.9,330.4 283.4,329.9 283.9,329.4 284.4,328.9 284.9,328.5 285.4,328.0 285.9,327.6 286.4,327.1 286.9,326.6 287.4,326.2 287.9,325.7 288.4,325.3 288.9,324.8 289.4,324.3 289.9,323.9 290.4,323.4 290.9,323.0 291.4,322.5 291.9,322.1 292.4,321.6 292.9,321.2 293.4,320.7 293.9,320.3 294.4,319.8 294.9,319.4 295.4,319.0 295.9,318.5 296.4,318.1 296.9,317.6 297.4,317.2 297.9,316.8 298.4,316.3 298.9,315.9 299.4,315.4 299.9,315.0 300.4,314.6 300.9,314.1 301.4,313.7 301.9,313.3 302.4,312.9 302.9,312.4 303.4,312.0 303.9,311.6 304.4,311.1 304.9,310.7 305.4,310.3 305.9,309.9 306.4,309.4 306.9,309.0 307.4,308.6 307.9,308.2 308.4,307.8 308.9,307.4 309.4,306.9 309.9,306.5 310.4,306.1 310.9,305.7 311.4,305.3 311.9,304.9 312.4,304.5 312.9,304.0 313.4,303.6 313.9,303.2 314.4,302.8 314.9,302.4 315.4,302.0 315.9,301.6 316.4,301.2 316.9,300.8 317.4,300.4 317.9,300.0 318.4,299.6 318.9,299.2 319.4,298.8 319.9,298.4 320.4,298.0 320.9,297.6 321.4,297.2 321.9,296.8 322.4,296.4 322.9,296.0 323.4,295.6 323.9,295.2 324.4,294.8 324.9,294.4 325.4,294.1 325.9,293.7 326.4,293.3 326.9,292.9 327.4,292.5 327.9,292.1 328.4,291.7 328.9,291.3 329.4,291.0 329.9,290.6 330.4,290.2 330.9,289.8 331.4,289.4 331.9,289.1 332.4,288.7 332.9,288.3 333.4,287.9 333.9,287.5 334.4,287.2 334.9,286.8 335.4,286.4 335.9,286.0 336.4,285.7 336.9,285.3 337.4,284.9 337.9,284.5 338.4,284.2 338.9,283.8 339.4,283.4 339.9,283.1 340.4,282.7 340.9,282.3 341.4,282.0 341.9,281.6 342.4,281.2 342.9,280.9 343.4,280.5 343.9,280.1 344.4,279.8 344.9,279.4 345.4,279.1 345.9,278.7 346.4,278.3 346.9,278.0 347.4,277.6 347.9,277.3 348.4,276.9 348.9,276.5 349.4,276.2 349.9,275.8 350.4,275.5 350.9,275.1 351.4,274.8 351.9,274.4 352.4,274.1 352.9,273.7 353.4,273.4 353.9,273.0 354.4,272.7 354.9,272.3 355.4,272.0 355.9,271.6 356.4,271.3 356.9,270.9 357.4,270.6 357.9,270.2 358.4,269.9 358.9,269.5 359.4,269.2 359.9,268.8 360.4,268.5 360.9,268.2 361.4,267.8 361.9,267.5 362.4,267.1 362.9,266.8 363.4,266.5 363.9,266.1 364.4,265.8 364.9,265.4 365.4,265.1 365.9,264.8 366.4,264.4 366.9,264.1 367.4,263.7 367.9,263.4 368.4,263.1 368.9,262.7 369.4,262.4 369.9,262.1 370.4,261.7 370.9,261.4 371.4,261.1 371.9,260.7 372.4,260.4 372.9,260.1 373.4,259.8 373.9,259.4 374.4,259.1 374.9,258.8 375.4,258.4 375.9,258.1 376.4,257.8 376.9,257.5 377.4,257.1 377.9,256.8 378.4,256.5 378.9,256.2 379.4,255.8 379.9,255.5 380.4,255.2 380.9,254.9 381.4,254.5 381.9,254.2 382.4,253.9 382.9,253.6 383.4,253.2 383.9,252.9 384.4,252.6 384.9,252.3 385.4,252.0 385.9,251.6 386.4,251.3 386.9,251.0 387.4,250.7 387.9,250.4 388.4,250.1 388.9,249.7 389.4,249.4 389.9,249.1 390.4,248.8 390.9,248.5 391.4,248.2 391.9,247.8 392.4,247.5 392.9,247.2 393.4,246.9 393.9,246.6 394.4,246.3 394.9,246.0 395.4,245.7 395.9,245.3 396.4,245.0 396.9,244.7 397.4,244.4 397.9,244.1 398.4,243.8 398.9,243.5 399.4,243.2 399.9,242.9 400.4,242.6 400.9,242.3 401.4,242.0 401.9,241.6 402.4,241.3 402.9,241.0 403.4,240.7 403.9,240.4 404.4,240.1 404.9,239.8 405.4,239.5 405.9,239.2 406.4,238.9 406.9,238.6 407.4,238.3 407.9,238.0 408.4,237.7 408.9,237.4 409.4,237.1 409.9,236.8 410.4,236.5 410.9,236.2 411.4,235.9 411.9,235.6 412.4,235.3 412.9,235.0 413.4,234.7 413.9,234.4 414.4,234.1 414.9,233.8 415.4,233.5 415.9,233.2 416.4,232.9 416.9,232.6 417.4,232.3 417.9,232.0 418.4,231.7 418.9,231.4 419.4,231.1 419.9,230.8 420.4,230.5 420.9,230.2 421.4,229.9 421.9,229.7 422.4,229.4 422.9,229.1 423.4,228.8 423.9,228.5 424.4,228.2 424.9,227.9 425.4,227.6 425.9,227.3 426.4,227.0 426.9,226.7 427.4,226.4 427.9,226.2 428.4,225.9 428.9,225.6 429.4,225.3 429.9,225.0 430.4,224.7 430.9,224.4 431.4,224.1 431.9,223.8 432.4,223.6 432.9,223.3 433.4,223.0 433.9,222.7 434.4,222.4 434.9,222.1 435.4,221.8 435.9,221.5 436.4,221.3 436.9,221.0 437.4,220.7 437.9,220.4 438.4,220.1 438.9,219.8 439.4,219.6 439.9,219.3 440.4,219.0 440.9,218.7 441.4,218.4 441.9,218.1 442.4,217.9 442.9,217.6 443.4,217.3 443.9,217.0 444.4,216.7 444.9,216.4 445.4,216.2 445.9,215.9 446.4,215.6 446.9,215.3 447.4,215.0 447.9,214.8 448.4,214.5 448.9,214.2 449.4,213.9 449.9,213.7 450.4,213.4 450.9,213.1 451.4,212.8 451.9,212.5 452.4,212.3 452.9,212.0 453.4,211.7 453.9,211.4 454.4,211.2 454.9,210.9 455.4,210.6 455.9,210.3 456.4,210.1 456.9,209.8 457.4,209.5 457.9,209.2 458.4,209.0 458.9,208.7 459.4,208.4 459.9,208.1 460.4,207.9 460.9,207.6 461.4,207.3 461.9,207.0 462.4,206.8 462.9,206.5 463.4,206.2 463.9,206.0 464.4,205.7 464.9,205.4 465.4,205.1 465.9,204.9 466.4,204.6 466.9,204.3 467.4,204.1 467.9,203.8 468.4,203.5 468.9,203.3 469.4,203.0 469.9,202.7 470.4,202.5 470.9,202.2 471.4,201.9 471.9,201.7 472.4,201.4 472.9,201.1 473.4,200.9 473.9,200.6 474.4,200.3 474.9,200.1 475.4,199.8 475.9,199.5 476.4,199.3 476.9,199.0 477.4,198.7 477.9,198.5 478.4,198.2 478.9,197.9 479.4,197.7 479.9,197.4 480.4,197.1 480.9,196.9 481.4,196.6 481.9,196.4 482.4,196.1 482.9,195.8 483.4,195.6 483.9,195.3 484.4,195.0 484.9,194.8 485.4,194.5 485.9,194.3 486.4,194.0 486.9,193.7 487.4,193.5 487.9,193.2 488.4,193.0 488.9,192.7 489.4,192.4 489.9,192.2 490.4,191.9 490.9,191.7 491.4,191.4 491.9,191.2 492.4,190.9 492.9,190.6 493.4,190.4 493.9,190.1 494.4,189.9 494.9,189.6 495.4,189.4 495.9,189.1 496.4,188.8 496.9,188.6 497.4,188.3 497.9,188.1 498.4,187.8 498.9,187.6 499.4,187.3 499.9,187.1 500.4,186.8 500.9,186.6 501.4,186.3 501.9,186.1 502.4,185.8 502.9,185.5 503.4,185.3 503.9,185.0 504.4,184.8 504.9,184.5 505.4,184.3 505.9,184.0 506.4,183.8 506.9,183.5 507.4,183.3 507.9,183.0 508.4,182.8 508.9,182.5 509.4,182.3 509.9,182.0 510.4,181.8 510.9,181.5 511.4,181.3 511.9,181.0 512.4,180.8 512.9,180.5 513.4,180.3 513.9,180.0 514.4,179.8 514.9,179.6 515.4,179.3 515.9,179.1 516.4,178.8 516.9,178.6 517.4,178.3 517.9,178.1 518.4,177.8 518.9,177.6 519.4,177.3 519.9,177.1 520.4,176.9 520.9,176.6 521.4,176.4 521.9,176.1 522.4,175.9 522.9,175.6 523.4,175.4 523.9,175.1 524.4,174.9 524.9,174.7 525.4,174.4 525.9,174.2 526.4,173.9 526.9,173.7 527.4,173.5 527.9,173.2 528.4,173.0 528.9,172.7 529.4,172.5 529.9,172.2 530.4,172.0 530.9,171.8 531.4,171.5 531.9,171.3 532.4,171.0 532.9,170.8 533.4,170.6 533.9,170.3 534.4,170.1 534.9,169.9 535.4,169.6 535.9,169.4 536.4,169.1 536.9,168.9 537.4,168.7 537.9,168.4 538.4,168.2 538.9,168.0 539.4,167.7 539.9,167.5 540.4,167.2 540.9,167.0 541.4,166.8 541.9,166.5 542.4,166.3 542.9,166.1 543.4,165.8 543.9,165.6 544.4,165.4 544.9,165.1 545.4,164.9 545.9,164.7 546.4,164.4 546.9,164.2 547.4,164.0 547.9,163.7 548.4,163.5 548.9,163.3 549.4,163.0 549.9,162.8 550.4,162.6 550.9,162.3 551.4,162.1 551.9,161.9 552.4,161.6 552.9,161.4 553.4,161.2 553.9,161.0 554.4,160.7 554.9,160.5 555.4,160.3 555.9,160.0 556.4,159.8 556.9,159.6 557.4,159.3 557.9,159.1 558.4,158.9 558.9,158.7 559.4,158.4 559.9,158.2 560.4,158.0 560.9,157.8 561.4,157.5 561.9,157.3 562.4,157.1 562.9,156.8 563.4,156.6 563.9,156.4 564.4,156.2 564.9,155.9 565.4,155.7 565.9,155.5 566.4,155.3 566.9,155.0 567.4,154.8 567.9,154.6 568.4,154.4 568.9,154.1 569.4,153.9 569.9,153.7 570.4,153.5 570.9,153.2 571.4,153.0 571.9,152.8 572.4,152.6 572.9,152.4 573.4,152.1 573.9,151.9 574.4,151.7 574.9,151.5 575.4,151.2 575.9,151.0 576.4,150.8 576.9,150.6 577.4,150.4 577.9,150.1 578.4,149.9 578.9,149.7 579.4,149.5 579.9,149.3 580.4,149.0 580.9,148.8 581.4,148.6 581.9,148.4 582.4,148.2 582.9,147.9 583.4,147.7 583.9,147.5 584.4,147.3 584.9,147.1 585.4,146.8 585.9,146.6 586.4,146.4 586.9,146.2 587.4,146.0 587.9,145.8 588.4,145.5 588.9,145.3 589.4,145.1 589.9,144.9 590.4,144.7 590.9,144.5 591.4,144.2 591.9,144.0 592.4,143.8 592.9,143.6 593.4,143.4 593.9,143.2 594.4,143.0 594.9,142.7 595.4,142.5 595.9,142.3 596.4,142.1 596.9,141.9 597.4,141.7 597.9,141.5 598.4,141.2 598.9,141.0 599.4,140.8 599.9,140.6 600.4,140.4 600.9,140.2 601.4,140.0 601.9,139.8 602.4,139.5 602.9,139.3 603.4,139.1 603.9,138.9 604.4,138.7 604.9,138.5 605.4,138.3 605.9,138.1 606.4,137.8 606.9,137.6 607.4,137.4 607.9,137.2 608.4,137.0 608.9,136.8 609.4,136.6 609.9,136.4 610.4,136.2 610.9,136.0 611.4,135.7 611.9,135.5 612.4,135.3 612.9,135.1 613.4,134.9 613.9,134.7 614.4,134.5 614.9,134.3 615.4,134.1 615.9,133.9 616.4,133.7 616.9,133.4 617.4,133.2 617.9,133.0 618.4,132.8 618.9,132.6 619.4,132.4 619.9,132.2 620.4,132.0 620.9,131.8 621.4,131.6 621.9,131.4 622.4,131.2 622.9,131.0 623.4,130.7 623.9,130.5 624.4,130.3 624.9,130.1 625.4,129.9 625.9,129.7 626.4,129.5 626.9,129.3 627.4,129.1 627.9,128.9 628.4,128.7 628.9,128.5 629.4,128.3 629.9,128.1 630.4,127.9 630.9,127.7 631.4,127.5 631.9,127.3 632.4,127.0 632.9,126.8 633.4,126.6 633.9,126.4 634.4,126.2 634.9,126.0 635.4,125.8 635.9,125.6 636.4,125.4 636.9,125.2 637.4,125.0 637.9,124.8 638.4,124.6 638.9,124.4 639.4,124.2 639.9,124.0 640.4,123.8 640.9,123.6 641.4,123.4 641.9,123.2 642.4,123.0 642.9,122.8 643.4,122.6 643.9,122.4 644.4,122.2 644.9,122.0 645.4,121.8 645.9,121.6 646.4,121.4 646.9,121.2 647.4,121.0 647.9,120.8 648.4,120.5 648.9,120.3 649.4,120.1 649.9,119.9 650.4,119.7 650.9,119.5 651.4,119.3 651.9,119.1 652.4,118.9 652.9,118.7 653.4,118.5 653.9,118.3 654.4,118.1 654.9,117.9 655.4,117.7 655.9,117.5 656.4,117.3 656.9,117.1 657.4,116.9 657.9,116.7 658.4,116.5 658.9,116.3 659.4,116.1 659.9,115.9 660.4,115.7 660.9,115.5 661.4,115.3 661.9,115.1 662.4,114.9 662.9,114.7 663.4,114.5 663.9,114.3 664.4,114.1 664.9,113.9 665.4,113.7 665.9,113.5 666.4,113.3 666.9,113.1 667.4,112.9 667.9,112.8 668.4,112.6 668.9,112.4 669.4,112.2 669.9,112.0 670.4,111.8 670.9,111.6 671.4,111.4 671.9,111.2 672.4,111.0 672.9,110.8 673.4,110.6 673.9,110.4 674.4,110.2 674.9,110.0 675.4,109.8 675.9,109.6 676.4,109.4 676.9,109.2 677.4,109.0 677.9,108.8 678.4,108.6 678.9,108.4 679.4,108.2 679.9,108.0 680.4,107.8 680.9,107.6 681.4,107.4 681.9,107.2 682.4,107.0 682.9,106.8 683.4,106.6 683.9,106.4 684.4,106.2 684.9,106.0 685.4,105.8 685.9,105.6 686.4,105.4 686.9,105.3 687.4,105.1 687.9,104.9 688.4,104.7 688.9,104.5 689.4,104.3 689.9,104.1 690.4,103.9 690.9,103.7 691.4,103.5 691.9,103.3 692.4,103.1 692.9,102.9 693.4,102.7 693.9,102.5 694.4,102.3 694.9,102.1 695.4,101.9 695.9,101.7 696.4,101.5 696.9,101.3 697.4,101.1 697.9,100.9 698.4,100.8 698.9,100.6 699.4,100.4 699.9,100.2 700.4,100.0 700.9,99.8 701.4,99.6 701.9,99.4 702.4,99.2 702.9,99.0 703.4,98.8 703.9,98.6 704.4,98.4 704.9,98.2 705.4,98.0 705.9,97.8 706.4,97.6 706.9,97.4 707.4,97.2 707.9,97.1 708.4,96.9 708.9,96.7 709.4,96.5 709.9,96.3 710.4,96.1 710.9,95.9 711.4,95.7 711.9,95.5 712.4,95.3 712.9,95.1 713.4,94.9 713.9,94.7 714.4,94.5 714.9,94.3 715.4,94.1 715.9,94.0 716.4,93.8 716.9,93.6 717.4,93.4 717.9,93.2 718.4,93.0 718.9,92.8 719.4,92.6 719.9,92.4 720.4,92.2 720.9,92.0 721.4,91.8 721.9,91.6 722.4,91.4 722.9,91.2 723.4,91.0 723.9,90.9 724.4,90.7 724.9,90.5 725.4,90.3 725.9,90.1 726.4,89.9 726.9,89.7 727.4,89.5 727.9,89.3 728.4,89.1 728.9,88.9 729.4,88.7 729.9,88.5 730.4,88.3 730.9,88.2 731.4,88.0 731.9,87.8 732.4,87.6 732.9,87.4 733.4,87.2 733.9,87.0 734.4,86.8 734.9,86.6 735.4,86.4 735.9,86.2 736.4,86.0 736.9,85.9 737.4,85.7 737.9,85.5 738.4,85.3 738.9,85.1 739.4,84.9 739.9,84.7 740.4,84.5 740.9,84.3 741.4,84.1 741.9,83.9 742.4,83.7 742.9,83.6 743.4,83.4 743.9,83.2 744.4,83.0 744.9,82.8 745.4,82.6 745.9,82.4 746.4,82.2 746.9,82.0 747.4,81.8 747.9,81.7 748.4,81.5 748.9,81.3 749.4,81.1 749.9,80.9 750.4,80.7 750.9,80.5 751.4,80.3 751.9,80.1 752.4,79.9 752.9,79.8 753.4,79.6 753.9,79.4 754.4,79.2 754.9,79.0 755.4,78.8 755.9,78.6 756.4,78.4 756.9,78.3 757.4,78.1 757.9,77.9 758.4,77.7 758.9,77.5 759.4,77.3 759.9,77.1 760.4,76.9 760.9,76.8 761.4,76.6 761.9,76.4 762.4,76.2 762.9,76.0 763.4,75.8 763.9,75.6 764.4,75.4 764.9,75.3 765.4,75.1 765.9,74.9 766.4,74.7 766.9,74.5 767.4,74.3 767.9,74.1 768.4,74.0 768.9,73.8 769.4,73.6 769.9,73.4 770.4,73.2 770.9,73.0 771.4,72.8 771.9,72.7 772.4,72.5 772.9,72.3 773.4,72.1 773.9,71.9 774.4,71.7 774.9,71.6 775.4,71.4 775.9,71.2 776.4,71.0 776.9,70.8 777.4,70.6 777.9,70.5 778.4,70.3 778.9,70.1 779.4,69.9 779.9,69.7 780.4,69.5 780.9,69.4 781.4,69.2 781.9,69.0 782.4,68.8 782.9,68.6 783.4,68.5 783.9,68.3 784.4,68.1 784.9,67.9 785.4,67.7 785.9,67.6 786.4,67.4 786.9,67.2 787.4,67.0 787.9,66.8 788.4,66.6 788.9,66.5 789.4,66.3 789.9,66.1 790.4,65.9 790.9,65.8 791.4,65.6 791.9,65.4 792.4,65.2 792.9,65.0 793.4,64.9 793.9,64.7 794.4,64.5 794.9,64.3 795.4,64.1 795.9,64.0 796.4,63.8 796.9,63.6 797.4,63.4 797.9,63.3 798.4,63.1 798.9,62.9 799.4,62.7 799.9,62.6 800.4,62.4 800.9,62.2 801.4,62.0 801.9,61.9 802.4,61.7 802.9,61.5 803.4,61.3 803.9,61.2 804.4,61.0 804.9,60.8 805.4,60.6 805.9,60.5 806.4,60.3 806.9,60.1 807.4,59.9 807.9,59.8 808.4,59.6 808.9,59.4 809.4,59.2 809.9,59.1 810.4,58.9 810.9,58.7 811.4,58.6 811.9,58.4 812.4,58.2 812.9,58.0 813.4,57.9 813.9,57.7 814.4,57.5 814.9,57.4 815.4,57.2 815.9,57.0 816.4,56.8 816.9,56.7 817.4,56.5 817.9,56.3 818.4,56.2 818.9,56.0 819.4,55.8 819.9,55.7 820.4,55.5 820.9,55.3 821.4,55.1 821.9,55.0 822.4,54.8 822.9,54.6 823.4,54.5 823.9,54.3 824.4,54.1 824.9,54.0 825.4,53.8 825.9,53.6 826.4,53.5 826.9,53.3 827.4,53.1 827.9,53.0 828.4,52.8 828.9,52.6 829.4,52.5 829.9,52.3 830.4,52.1 830.9,52.0 831.4,51.8 831.9,51.6 832.4,51.5 832.9,51.3 833.4,51.2 833.9,51.0 834.4,50.8 834.9,50.7 835.4,50.5 835.9,50.3 836.4,50.2 836.9,50.0 837.8,49.7" stroke="#ff0000" stroke-dasharray="9.5 7.15 0.01 8.29 0.01 7.15" stroke-linecap="round"/>
</g>
<text x="108.5" y="617.0" text-anchor="end">0</text>
<text x="108.5" y="567.8" text-anchor="end">1</text>
<text x="108.5" y="518.6" text-anchor="end">2</text>
<text x="108.5" y="469.4" text-anchor="end">3</text>
<text x="108.5" y="420.2" text-anchor="end">4</text>
<text x="108.5" y="371.0" text-anchor="end">5</text>
<text x="108.5" y="321.8" text-anchor="end">6</text>
<text x="108.5" y="272.6" text-anchor="end">7</text>
<text x="108.5" y="223.4" text-anchor="end">8</text>
<text x="108.5" y="174.2" text-anchor="end">9</text>
<text x="108.5" y="125.0" text-anchor="end">10</text>
<text x="108.5" y="75.8" text-anchor="end">11</text>
<text x="108.5" y="26.6" text-anchor="end">12</text>
<text x="213.3" y="639" text-anchor="middle">2146</text>
<text x="308.3" y="639" text-anchor="middle">2282</text>
<text x="403.3" y="639" text-anchor="middle">2418</text>
<text x="498.3" y="639" text-anchor="middle">2554</text>
<text x="593.3" y="639" text-anchor="middle">2690</text>
<text x="688.3" y="639" text-anchor="middle">2826</text>
<text x="783.3" y="639" text-anchor="middle">2962</text>
<text transform="translate(36.2,310.5) rotate(-90)" text-anchor="middle">Total CO2 in Layer 5, M tonnes</text>
<text x="489" y="687.8" text-anchor="middle">Time</text>
<text x="325.6" y="726.8" textLength="321.4" lengthAdjust="spacingAndGlyphs" font-size="31">(a) Caprock – layer 5</text>
<rect x="402.8" y="402" width="416.8" height="148.3" fill="#fff" fill-opacity="0.92" stroke="#dcdcdc" stroke-width="1.8"/>
<line x1="406.6" y1="421.6" x2="433.2" y2="421.6" stroke="#0000ff" stroke-width="3.4" stroke-linecap="round"/>
<text x="446.8" y="431.8" font-size="29.1">Total CO2 5500psi Layer 5</text>
<line x1="406.6" y1="457.8" x2="433.2" y2="457.8" stroke="#007a00" stroke-width="3.4" stroke-linecap="round"/>
<text x="446.8" y="468.0" font-size="29.1">Total CO2 7000psi Layer 5</text>
<line x1="406.6" y1="494.2" x2="433.2" y2="494.2" stroke="#87260a" stroke-width="3.4" stroke-linecap="round"/>
<text x="446.8" y="504.4" font-size="29.1">Total CO2 7500psi Layer 5</text>
<line x1="406.6" y1="530.6" x2="433.2" y2="530.6" stroke="#ff0000" stroke-width="3.4" stroke-linecap="round" stroke-dasharray="9.5 7.15 0.01 8.29 0.01 7.15"/>
<text x="446.8" y="540.8" font-size="29.1">Total CO2 8000psi Layer 5</text>
<path d="M1031,15.8 H1752.4 V604.9" fill="none" stroke="#dedede" stroke-width="2.2"/>
<line x1="1030.4" y1="15.8" x2="1030.4" y2="604.9" stroke="#8a8a8a" stroke-width="1.8"/>
<line x1="1027" y1="604.9" x2="1752.4" y2="604.9" stroke="#9c9c9c" stroke-width="2.4"/>
<path d="M1027.4,604.9 H1031 M1027.8,577.6 H1031 M1027.4,550.3 H1031 M1027.8,523.0 H1031 M1027.4,495.7 H1031 M1027.8,468.4 H1031 M1027.4,441.1 H1031 M1027.8,413.8 H1031 M1027.4,386.5 H1031 M1027.8,359.2 H1031 M1027.4,331.9 H1031 M1027.8,304.6 H1031 M1027.4,277.3 H1031 M1027.8,250.0 H1031 M1027.4,222.7 H1031 M1027.8,195.4 H1031 M1027.4,168.1 H1031 M1027.8,140.8 H1031 M1027.4,113.5 H1031 M1027.8,86.2 H1031 M1027.4,58.9 H1031 M1027.8,31.6 H1031" stroke="#6e6e6e" stroke-width="1.6" fill="none"/>
<path d="M1125.8,604.9 v3.6 M1221.1,604.9 v3.6 M1316.4,604.9 v3.6 M1411.7,604.9 v3.6 M1507.0,604.9 v3.6 M1602.3,604.9 v3.6 M1697.6,604.9 v3.6" stroke="#808080" stroke-width="1.8" fill="none"/>
<clipPath id="clip1"><rect x="1030" y="15.8" width="723.4000000000001" height="592.1"/></clipPath>
<g clip-path="url(#clip1)" fill="none" stroke-width="3.4" stroke-linejoin="round">
<polyline points="1031.0,604.9 1032.0,604.9 1033.0,604.9 1034.0,604.9 1035.0,604.9 1036.0,604.9 1037.0,604.9 1038.0,604.9 1039.0,604.9 1040.0,604.9 1041.0,604.9 1042.0,604.9 1043.0,604.9 1044.0,604.9 1045.0,604.9 1046.0,604.9 1047.0,604.9 1048.0,604.9 1049.0,604.9 1050.0,604.8 1051.0,604.8 1052.0,604.8 1053.0,604.8 1054.0,604.7 1055.0,604.7 1056.0,604.7 1057.0,604.6 1058.0,604.6 1059.0,604.5 1060.0,604.5 1061.0,604.4 1062.0,604.4 1063.0,604.3 1064.0,604.3 1065.0,604.2 1066.0,604.1 1067.0,604.1 1068.0,604.0 1069.0,603.9 1070.0,603.8 1071.0,603.8 1072.0,603.7 1073.0,603.6 1074.0,603.5 1075.0,603.4 1076.0,603.3 1077.0,603.2 1078.0,603.2 1079.0,603.1 1080.0,603.0 1081.0,602.9 1082.0,602.8 1083.0,602.7 1084.0,602.6 1085.0,602.4 1086.0,602.3 1087.0,602.2 1088.0,602.1 1089.0,602.0 1090.0,601.9 1091.0,601.8 1092.0,601.6 1093.0,601.5 1094.0,601.4 1095.0,601.3 1096.0,601.1 1097.0,601.0 1098.0,600.9 1099.0,600.7 1100.0,600.6 1101.0,600.5 1102.0,600.3 1103.0,600.2 1104.0,600.0 1105.0,599.9 1106.0,599.7 1107.0,599.6 1108.0,599.4 1109.0,599.3 1110.0,599.1 1111.0,599.0 1112.0,598.8 1113.0,598.7 1114.0,598.5 1115.0,598.3 1116.0,598.2 1117.0,598.0 1118.0,597.8 1119.0,597.7 1120.0,597.5 1121.0,597.3 1122.0,597.2 1123.0,597.0 1124.0,596.8 1125.0,596.6 1126.0,596.4 1127.0,596.3 1128.0,596.1 1129.0,595.9 1130.0,595.7 1131.0,595.5 1132.0,595.3 1133.0,595.1 1134.0,595.0 1135.0,594.8 1136.0,594.6 1137.0,594.4 1138.0,594.2 1139.0,594.0 1140.0,593.8 1141.0,593.6 1142.0,593.4 1143.0,593.2 1144.0,593.0 1145.0,592.8 1146.0,592.5 1147.0,592.3 1148.0,592.1 1149.0,591.9 1150.0,591.7 1151.0,591.5 1152.0,591.3 1153.0,591.1 1154.0,590.8 1155.0,590.6 1156.0,590.4 1157.0,590.2 1158.0,590.0 1159.0,589.7 1160.0,589.5 1161.0,589.3 1162.0,589.0 1163.0,588.8 1164.0,588.6 1165.0,588.4 1166.0,588.1 1167.0,587.9 1168.0,587.6 1169.0,587.4 1170.0,587.2 1171.0,586.9 1172.0,586.7 1173.0,586.5 1174.0,586.2 1175.0,586.0 1176.0,585.7 1177.0,585.5 1178.0,585.2 1179.0,585.0 1180.0,584.7 1181.0,584.5 1182.0,584.2 1183.0,584.0 1184.0,583.7 1185.0,583.5 1186.0,583.2 1187.0,583.0 1188.0,582.7 1189.0,582.4 1190.0,582.2 1191.0,581.9 1192.0,581.7 1193.0,581.4 1194.0,581.1 1195.0,580.9 1196.0,580.6 1197.0,580.3 1198.0,580.1 1199.0,579.8 1200.0,579.5 1201.0,579.3 1202.0,579.0 1203.0,578.7 1204.0,578.4 1205.0,578.2 1206.0,577.9 1207.0,577.6 1208.0,577.3 1209.0,577.1 1210.0,576.8 1211.0,576.5 1212.0,576.2 1213.0,575.9 1214.0,575.6 1215.0,575.4 1216.0,575.1 1217.0,574.8 1218.0,574.5 1219.0,574.2 1220.0,573.9 1221.0,573.6 1222.0,573.3 1223.0,573.1 1224.0,572.8 1225.0,572.5 1226.0,572.2 1227.0,571.9 1228.0,571.6 1229.0,571.3 1230.0,571.0 1231.0,570.7 1232.0,570.4 1233.0,570.1 1234.0,569.8 1235.0,569.5 1236.0,569.2 1237.0,568.9 1238.0,568.6 1239.0,568.3 1240.0,568.0 1241.0,567.7 1242.0,567.4 1243.0,567.1 1244.0,566.8 1245.0,566.4 1246.0,566.1 1247.0,565.8 1248.0,565.5 1249.0,565.2 1250.0,564.9 1251.0,564.6 1252.0,564.3 1253.0,564.0 1254.0,563.6 1255.0,563.3 1256.0,563.0 1257.0,562.7 1258.0,562.4 1259.0,562.1 1260.0,561.7 1261.0,561.4 1262.0,561.1 1263.0,560.8 1264.0,560.5 1265.0,560.1 1266.0,559.8 1267.0,559.5 1268.0,559.2 1269.0,558.8 1270.0,558.5 1271.0,558.2 1272.0,557.9 1273.0,557.5 1274.0,557.2 1275.0,556.9 1276.0,556.5 1277.0,556.2 1278.0,555.9 1279.0,555.5 1280.0,555.2 1281.0,554.9 1282.0,554.5 1283.0,554.2 1284.0,553.9 1285.0,553.5 1286.0,553.2 1287.0,552.9 1288.0,552.5 1289.0,552.2 1290.0,551.9 1291.0,551.5 1292.0,551.2 1293.0,550.8 1294.0,550.5 1295.0,550.2 1296.0,549.8 1297.0,549.5 1298.0,549.1 1299.0,548.8 1300.0,548.5 1301.0,548.1 1302.0,547.8 1303.0,547.4 1304.0,547.1 1305.0,546.7 1306.0,546.4 1307.0,546.0 1308.0,545.7 1309.0,545.3 1310.0,545.0 1311.0,544.6 1312.0,544.3 1313.0,543.9 1314.0,543.6 1315.0,543.2 1316.0,542.9 1317.0,542.5 1318.0,542.2 1319.0,541.8 1320.0,541.5 1321.0,541.1 1322.0,540.8 1323.0,540.4 1324.0,540.1 1325.0,539.7 1326.0,539.4 1327.0,539.0 1328.0,538.7 1329.0,538.3 1330.0,537.9 1331.0,537.6 1332.0,537.2 1333.0,536.9 1334.0,536.5 1335.0,536.1 1336.0,535.8 1337.0,535.4 1338.0,535.1 1339.0,534.7 1340.0,534.3 1341.0,534.0 1342.0,533.6 1343.0,533.3 1344.0,532.9 1345.0,532.5 1346.0,532.2 1347.0,531.8 1348.0,531.4 1349.0,531.1 1350.0,530.7 1351.0,530.3 1352.0,530.0 1353.0,529.6 1354.0,529.3 1355.0,528.9 1356.0,528.5 1357.0,528.2 1358.0,527.8 1359.0,527.4 1360.0,527.0 1361.0,526.7 1362.0,526.3 1363.0,525.9 1364.0,525.6 1365.0,525.2 1366.0,524.8 1367.0,524.5 1368.0,524.1 1369.0,523.7 1370.0,523.3 1371.0,523.0 1372.0,522.6 1373.0,522.2 1374.0,521.9 1375.0,521.5 1376.0,521.1 1377.0,520.7 1378.0,520.4 1379.0,520.0 1380.0,519.6 1381.0,519.2 1382.0,518.9 1383.0,518.5 1384.0,518.1 1385.0,517.7 1386.0,517.4 1387.0,517.0 1388.0,516.6 1389.0,516.2 1390.0,515.9 1391.0,515.5 1392.0,515.1 1393.0,514.7 1394.0,514.4 1395.0,514.0 1396.0,513.6 1397.0,513.2 1398.0,512.8 1399.0,512.5 1400.0,512.1 1401.0,511.7 1402.0,511.3 1403.0,511.0 1404.0,510.6 1405.0,510.2 1406.0,509.8 1407.0,509.4 1408.0,509.1 1409.0,508.7 1410.0,508.3 1411.0,507.9 1412.0,507.5 1413.0,507.2 1414.0,506.8 1415.0,506.4 1416.0,506.0 1417.0,505.6 1418.0,505.2 1419.0,504.9 1420.0,504.5 1421.0,504.1 1422.0,503.7 1423.0,503.3 1424.0,502.9 1425.0,502.6 1426.0,502.2 1427.0,501.8 1428.0,501.4 1429.0,501.0 1430.0,500.6 1431.0,500.3 1432.0,499.9 1433.0,499.5 1434.0,499.1 1435.0,498.7 1436.0,498.3 1437.0,498.0 1438.0,497.6 1439.0,497.2 1440.0,496.8 1441.0,496.4 1442.0,496.0 1443.0,495.6 1444.0,495.3 1445.0,494.9 1446.0,494.5 1447.0,494.1 1448.0,493.7 1449.0,493.3 1450.0,492.9 1451.0,492.6 1452.0,492.2 1453.0,491.8 1454.0,491.4 1455.0,491.0 1456.0,490.6 1457.0,490.2 1458.0,489.8 1459.0,489.5 1460.0,489.1 1461.0,488.7 1462.0,488.3 1463.0,487.9 1464.0,487.5 1465.0,487.1 1466.0,486.8 1467.0,486.4 1468.0,486.0 1469.0,485.6 1470.0,485.2 1471.0,484.8 1472.0,484.4 1473.0,484.0 1474.0,483.6 1475.0,483.3 1476.0,482.9 1477.0,482.5 1478.0,482.1 1479.0,481.7 1480.0,481.3 1481.0,480.9 1482.0,480.5 1483.0,480.2 1484.0,479.8 1485.0,479.4 1486.0,479.0 1487.0,478.6 1488.0,478.2 1489.0,477.8 1490.0,477.4 1491.0,477.0 1492.0,476.7 1493.0,476.3 1494.0,475.9 1495.0,475.5 1496.0,475.1 1497.0,474.7 1498.0,474.3 1499.0,473.9 1500.0,473.6 1501.0,473.2 1502.0,472.8 1503.0,472.4 1504.0,472.0 1505.0,471.6 1506.0,471.2 1507.0,470.8 1508.0,470.4 1509.0,470.1 1510.0,469.7 1511.0,469.3 1512.0,468.9 1513.0,468.5 1514.0,468.1 1515.0,467.7 1516.0,467.3 1517.0,467.0 1518.0,466.6 1519.0,466.2 1520.0,465.8 1521.0,465.4 1522.0,465.0 1523.0,464.6 1524.0,464.2 1525.0,463.9 1526.0,463.5 1527.0,463.1 1528.0,462.7 1529.0,462.3 1530.0,461.9 1531.0,461.5 1532.0,461.1 1533.0,460.8 1534.0,460.4 1535.0,460.0 1536.0,459.6 1537.0,459.2 1538.0,458.8 1539.0,458.4 1540.0,458.0 1541.0,457.7 1542.0,457.3 1543.0,456.9 1544.0,456.5 1545.0,456.1 1546.0,455.7 1547.0,455.3 1548.0,454.9 1549.0,454.6 1550.0,454.2 1551.0,453.8 1552.0,453.4 1553.0,453.0 1554.0,452.6 1555.0,452.2 1556.0,451.9 1557.0,451.5 1558.0,451.1 1559.0,450.7 1560.0,450.3 1561.0,449.9 1562.0,449.6 1563.0,449.2 1564.0,448.8 1565.0,448.4 1566.0,448.0 1567.0,447.6 1568.0,447.2 1569.0,446.9 1570.0,446.5 1571.0,446.1 1572.0,445.7 1573.0,445.3 1574.0,444.9 1575.0,444.6 1576.0,444.2 1577.0,443.8 1578.0,443.4 1579.0,443.0 1580.0,442.6 1581.0,442.3 1582.0,441.9 1583.0,441.5 1584.0,441.1 1585.0,440.7 1586.0,440.3 1587.0,440.0 1588.0,439.6 1589.0,439.2 1590.0,438.8 1591.0,438.4 1592.0,438.1 1593.0,437.7 1594.0,437.3 1595.0,436.9 1596.0,436.5 1597.0,436.2 1598.0,435.8 1599.0,435.4 1600.0,435.0 1601.0,434.6 1602.0,434.3 1603.0,433.9 1604.0,433.5 1605.0,433.1 1606.0,432.7 1607.0,432.4 1608.0,432.0 1609.0,431.6 1610.0,431.2 1611.0,430.8 1612.0,430.5 1613.0,430.1 1614.0,429.7 1615.0,429.3 1616.0,429.0 1617.0,428.6 1618.0,428.2 1619.0,427.8 1620.0,427.4 1621.0,427.1 1622.0,426.7 1623.0,426.3 1624.0,425.9 1625.0,425.6 1626.0,425.2 1627.0,424.8 1628.0,424.4 1629.0,424.1 1630.0,423.7 1631.0,423.3 1632.0,422.9 1633.0,422.6 1634.0,422.2 1635.0,421.8 1636.0,421.4 1637.0,421.1 1638.0,420.7 1639.0,420.3 1640.0,420.0 1641.0,419.6 1642.0,419.2 1643.0,418.8 1644.0,418.5 1645.0,418.1 1646.0,417.7 1647.0,417.3 1648.0,417.0 1649.0,416.6 1650.0,416.2 1651.0,415.9 1652.0,415.5 1653.0,415.1 1654.0,414.8 1655.0,414.4 1656.0,414.0 1657.0,413.6 1658.0,413.3 1659.0,412.9 1660.0,412.5 1661.0,412.2 1662.0,411.8 1663.0,411.4 1664.0,411.1 1665.0,410.7 1666.0,410.3 1667.0,410.0 1668.0,409.6 1669.0,409.2 1670.0,408.9 1671.0,408.5 1672.0,408.1 1673.0,407.8 1674.0,407.4 1675.0,407.0 1676.0,406.7 1677.0,406.3 1678.0,405.9 1679.0,405.6 1680.0,405.2 1681.0,404.8 1682.0,404.5 1683.0,404.1 1684.0,403.8 1685.0,403.4 1686.0,403.0 1687.0,402.7 1688.0,402.3 1689.0,401.9 1690.0,401.6 1691.0,401.2 1692.0,400.9 1693.0,400.5 1694.0,400.1 1695.0,399.8 1696.0,399.4 1697.0,399.1 1698.0,398.7 1699.0,398.3 1700.0,398.0 1701.0,397.6 1702.0,397.3 1703.0,396.9 1704.0,396.5 1705.0,396.2 1706.0,395.8 1707.0,395.5 1708.0,395.1 1709.0,394.8 1710.0,394.4 1711.0,394.0 1712.0,393.7 1713.0,393.3 1714.0,393.0 1715.0,392.6 1716.0,392.3 1717.0,391.9 1718.0,391.6 1719.0,391.2 1720.0,390.8 1721.0,390.5 1722.0,390.1 1723.0,389.8 1724.0,389.4 1725.0,389.1 1726.0,388.7 1727.0,388.4 1728.0,388.0 1729.0,387.7 1730.0,387.3 1731.0,387.0 1732.0,386.6 1733.0,386.3 1734.0,385.9 1735.0,385.6 1736.0,385.2 1737.0,384.9 1738.0,384.5 1739.0,384.2 1740.0,383.8 1741.0,383.5 1742.0,383.1 1743.0,382.8 1744.0,382.4 1745.0,382.1 1746.0,381.7 1747.0,381.4 1748.0,381.0 1749.0,380.7 1750.0,380.4 1751.0,380.0 1752.4,379.5" stroke="#0000ff"/>
<polyline points="1031.0,604.9 1032.0,604.9 1033.0,604.9 1034.0,604.9 1035.0,604.9 1036.0,604.9 1037.0,604.9 1038.0,604.9 1039.0,604.9 1040.0,604.9 1041.0,604.9 1042.0,604.9 1043.0,604.9 1044.0,604.9 1045.0,604.9 1046.0,604.9 1047.0,604.9 1048.0,604.9 1049.0,604.9 1050.0,604.9 1051.0,604.9 1052.0,604.9 1053.0,604.9 1054.0,604.8 1055.0,604.8 1056.0,604.7 1057.0,604.6 1058.0,604.6 1059.0,604.5 1060.0,604.4 1061.0,604.3 1062.0,604.2 1063.0,604.0 1064.0,603.9 1065.0,603.8 1066.0,603.6 1067.0,603.5 1068.0,603.3 1069.0,603.2 1070.0,603.0 1071.0,602.8 1072.0,602.6 1073.0,602.4 1074.0,602.3 1075.0,602.1 1076.0,601.8 1077.0,601.6 1078.0,601.4 1079.0,601.2 1080.0,601.0 1081.0,600.7 1082.0,600.5 1083.0,600.2 1084.0,600.0 1085.0,599.7 1086.0,599.4 1087.0,599.2 1088.0,598.9 1089.0,598.6 1090.0,598.3 1091.0,598.0 1092.0,597.7 1093.0,597.4 1094.0,597.1 1095.0,596.8 1096.0,596.5 1097.0,596.2 1098.0,595.9 1099.0,595.5 1100.0,595.2 1101.0,594.9 1102.0,594.5 1103.0,594.2 1104.0,593.8 1105.0,593.4 1106.0,593.1 1107.0,592.7 1108.0,592.4 1109.0,592.0 1110.0,591.6 1111.0,591.2 1112.0,590.8 1113.0,590.4 1114.0,590.0 1115.0,589.6 1116.0,589.2 1117.0,588.8 1118.0,588.4 1119.0,588.0 1120.0,587.6 1121.0,587.2 1122.0,586.8 1123.0,586.3 1124.0,585.9 1125.0,585.5 1126.0,585.0 1127.0,584.6 1128.0,584.1 1129.0,583.7 1130.0,583.2 1131.0,582.8 1132.0,582.3 1133.0,581.9 1134.0,581.4 1135.0,580.9 1136.0,580.4 1137.0,580.0 1138.0,579.5 1139.0,579.0 1140.0,578.5 1141.0,578.0 1142.0,577.6 1143.0,577.1 1144.0,576.6 1145.0,576.1 1146.0,575.6 1147.0,575.1 1148.0,574.5 1149.0,574.0 1150.0,573.5 1151.0,573.0 1152.0,572.5 1153.0,572.0 1154.0,571.4 1155.0,570.9 1156.0,570.4 1157.0,569.9 1158.0,569.3 1159.0,568.8 1160.0,568.2 1161.0,567.7 1162.0,567.2 1163.0,566.6 1164.0,566.1 1165.0,565.5 1166.0,565.0 1167.0,564.4 1168.0,563.8 1169.0,563.3 1170.0,562.7 1171.0,562.1 1172.0,561.6 1173.0,561.0 1174.0,560.4 1175.0,559.9 1176.0,559.3 1177.0,558.7 1178.0,558.1 1179.0,557.5 1180.0,557.0 1181.0,556.4 1182.0,555.8 1183.0,555.2 1184.0,554.6 1185.0,554.0 1186.0,553.4 1187.0,552.8 1188.0,552.2 1189.0,551.6 1190.0,551.0 1191.0,550.4 1192.0,549.8 1193.0,549.2 1194.0,548.6 1195.0,548.0 1196.0,547.3 1197.0,546.7 1198.0,546.1 1199.0,545.5 1200.0,544.9 1201.0,544.3 1202.0,543.6 1203.0,543.0 1204.0,542.4 1205.0,541.7 1206.0,541.1 1207.0,540.5 1208.0,539.8 1209.0,539.2 1210.0,538.6 1211.0,537.9 1212.0,537.3 1213.0,536.7 1214.0,536.0 1215.0,535.4 1216.0,534.7 1217.0,534.1 1218.0,533.4 1219.0,532.8 1220.0,532.1 1221.0,531.5 1222.0,530.8 1223.0,530.2 1224.0,529.5 1225.0,528.9 1226.0,528.2 1227.0,527.6 1228.0,526.9 1229.0,526.2 1230.0,525.6 1231.0,524.9 1232.0,524.2 1233.0,523.6 1234.0,522.9 1235.0,522.2 1236.0,521.6 1237.0,520.9 1238.0,520.2 1239.0,519.6 1240.0,518.9 1241.0,518.2 1242.0,517.5 1243.0,516.9 1244.0,516.2 1245.0,515.5 1246.0,514.8 1247.0,514.1 1248.0,513.5 1249.0,512.8 1250.0,512.1 1251.0,511.4 1252.0,510.7 1253.0,510.1 1254.0,509.4 1255.0,508.7 1256.0,508.0 1257.0,507.3 1258.0,506.6 1259.0,505.9 1260.0,505.2 1261.0,504.5 1262.0,503.9 1263.0,503.2 1264.0,502.5 1265.0,501.8 1266.0,501.1 1267.0,500.4 1268.0,499.7 1269.0,499.0 1270.0,498.3 1271.0,497.6 1272.0,496.9 1273.0,496.2 1274.0,495.5 1275.0,494.8 1276.0,494.1 1277.0,493.4 1278.0,492.7 1279.0,492.0 1280.0,491.3 1281.0,490.6 1282.0,489.9 1283.0,489.2 1284.0,488.5 1285.0,487.8 1286.0,487.1 1287.0,486.4 1288.0,485.7 1289.0,484.9 1290.0,484.2 1291.0,483.5 1292.0,482.8 1293.0,482.1 1294.0,481.4 1295.0,480.7 1296.0,480.0 1297.0,479.3 1298.0,478.6 1299.0,477.9 1300.0,477.1 1301.0,476.4 1302.0,475.7 1303.0,475.0 1304.0,474.3 1305.0,473.6 1306.0,472.9 1307.0,472.2 1308.0,471.4 1309.0,470.7 1310.0,470.0 1311.0,469.3 1312.0,468.6 1313.0,467.9 1314.0,467.2 1315.0,466.4 1316.0,465.7 1317.0,465.0 1318.0,464.3 1319.0,463.6 1320.0,462.9 1321.0,462.1 1322.0,461.4 1323.0,460.7 1324.0,460.0 1325.0,459.3 1326.0,458.6 1327.0,457.8 1328.0,457.1 1329.0,456.4 1330.0,455.7 1331.0,455.0 1332.0,454.3 1333.0,453.5 1334.0,452.8 1335.0,452.1 1336.0,451.4 1337.0,450.7 1338.0,449.9 1339.0,449.2 1340.0,448.5 1341.0,447.8 1342.0,447.1 1343.0,446.4 1344.0,445.6 1345.0,444.9 1346.0,444.2 1347.0,443.5 1348.0,442.8 1349.0,442.0 1350.0,441.3 1351.0,440.6 1352.0,439.9 1353.0,439.2 1354.0,438.4 1355.0,437.7 1356.0,437.0 1357.0,436.3 1358.0,435.6 1359.0,434.9 1360.0,434.1 1361.0,433.4 1362.0,432.7 1363.0,432.0 1364.0,431.3 1365.0,430.5 1366.0,429.8 1367.0,429.1 1368.0,428.4 1369.0,427.7 1370.0,427.0 1371.0,426.2 1372.0,425.5 1373.0,424.8 1374.0,424.1 1375.0,423.4 1376.0,422.7 1377.0,421.9 1378.0,421.2 1379.0,420.5 1380.0,419.8 1381.0,419.1 1382.0,418.4 1383.0,417.6 1384.0,416.9 1385.0,416.2 1386.0,415.5 1387.0,414.8 1388.0,414.1 1389.0,413.4 1390.0,412.6 1391.0,411.9 1392.0,411.2 1393.0,410.5 1394.0,409.8 1395.0,409.1 1396.0,408.4 1397.0,407.7 1398.0,406.9 1399.0,406.2 1400.0,405.5 1401.0,404.8 1402.0,404.1 1403.0,403.4 1404.0,402.7 1405.0,402.0 1406.0,401.2 1407.0,400.5 1408.0,399.8 1409.0,399.1 1410.0,398.4 1411.0,397.7 1412.0,397.0 1413.0,396.3 1414.0,395.6 1415.0,394.9 1416.0,394.2 1417.0,393.5 1418.0,392.7 1419.0,392.0 1420.0,391.3 1421.0,390.6 1422.0,389.9 1423.0,389.2 1424.0,388.5 1425.0,387.8 1426.0,387.1 1427.0,386.4 1428.0,385.7 1429.0,385.0 1430.0,384.3 1431.0,383.6 1432.0,382.9 1433.0,382.2 1434.0,381.5 1435.0,380.8 1436.0,380.1 1437.0,379.4 1438.0,378.7 1439.0,378.0 1440.0,377.3 1441.0,376.6 1442.0,375.9 1443.0,375.2 1444.0,374.5 1445.0,373.8 1446.0,373.1 1447.0,372.4 1448.0,371.7 1449.0,371.0 1450.0,370.3 1451.0,369.6 1452.0,368.9 1453.0,368.2 1454.0,367.5 1455.0,366.8 1456.0,366.1 1457.0,365.4 1458.0,364.7 1459.0,364.0 1460.0,363.3 1461.0,362.6 1462.0,361.9 1463.0,361.2 1464.0,360.5 1465.0,359.9 1466.0,359.2 1467.0,358.5 1468.0,357.8 1469.0,357.1 1470.0,356.4 1471.0,355.7 1472.0,355.0 1473.0,354.3 1474.0,353.6 1475.0,353.0 1476.0,352.3 1477.0,351.6 1478.0,350.9 1479.0,350.2 1480.0,349.5 1481.0,348.8 1482.0,348.1 1483.0,347.5 1484.0,346.8 1485.0,346.1 1486.0,345.4 1487.0,344.7 1488.0,344.0 1489.0,343.4 1490.0,342.7 1491.0,342.0 1492.0,341.3 1493.0,340.6 1494.0,339.9 1495.0,339.3 1496.0,338.6 1497.0,337.9 1498.0,337.2 1499.0,336.5 1500.0,335.9 1501.0,335.2 1502.0,334.5 1503.0,333.8 1504.0,333.1 1505.0,332.5 1506.0,331.8 1507.0,331.1 1508.0,330.4 1509.0,329.8 1510.0,329.1 1511.0,328.4 1512.0,327.7 1513.0,327.1 1514.0,326.4 1515.0,325.7 1516.0,325.0 1517.0,324.4 1518.0,323.7 1519.0,323.0 1520.0,322.4 1521.0,321.7 1522.0,321.0 1523.0,320.3 1524.0,319.7 1525.0,319.0 1526.0,318.3 1527.0,317.7 1528.0,317.0 1529.0,316.3 1530.0,315.6 1531.0,315.0 1532.0,314.3 1533.0,313.6 1534.0,313.0 1535.0,312.3 1536.0,311.6 1537.0,311.0 1538.0,310.3 1539.0,309.6 1540.0,309.0 1541.0,308.3 1542.0,307.7 1543.0,307.0 1544.0,306.3 1545.0,305.7 1546.0,305.0 1547.0,304.3 1548.0,303.7 1549.0,303.0 1550.0,302.3 1551.0,301.7 1552.0,301.0 1553.0,300.4 1554.0,299.7 1555.0,299.0 1556.0,298.4 1557.0,297.7 1558.0,297.1 1559.0,296.4 1560.0,295.7 1561.0,295.1 1562.0,294.4 1563.0,293.8 1564.0,293.1 1565.0,292.4 1566.0,291.8 1567.0,291.1 1568.0,290.5 1569.0,289.8 1570.0,289.2 1571.0,288.5 1572.0,287.9 1573.0,287.2 1574.0,286.5 1575.0,285.9 1576.0,285.2 1577.0,284.6 1578.0,283.9 1579.0,283.3 1580.0,282.6 1581.0,282.0 1582.0,281.3 1583.0,280.7 1584.0,280.0 1585.0,279.4 1586.0,278.7 1587.0,278.0 1588.0,277.4 1589.0,276.7 1590.0,276.1 1591.0,275.4 1592.0,274.8 1593.0,274.1 1594.0,273.5 1595.0,272.8 1596.0,272.2 1597.0,271.5 1598.0,270.9 1599.0,270.2 1600.0,269.6 1601.0,268.9 1602.0,268.3 1603.0,267.6 1604.0,267.0 1605.0,266.4 1606.0,265.7 1607.0,265.1 1608.0,264.4 1609.0,263.8 1610.0,263.1 1611.0,262.5 1612.0,261.8 1613.0,261.2 1614.0,260.5 1615.0,259.9 1616.0,259.2 1617.0,258.6 1618.0,257.9 1619.0,257.3 1620.0,256.7 1621.0,256.0 1622.0,255.4 1623.0,254.7 1624.0,254.1 1625.0,253.4 1626.0,252.8 1627.0,252.1 1628.0,251.5 1629.0,250.8 1630.0,250.2 1631.0,249.6 1632.0,248.9 1633.0,248.3 1634.0,247.6 1635.0,247.0 1636.0,246.3 1637.0,245.7 1638.0,245.1 1639.0,244.4 1640.0,243.8 1641.0,243.1 1642.0,242.5 1643.0,241.8 1644.0,241.2 1645.0,240.6 1646.0,239.9 1647.0,239.3 1648.0,238.6 1649.0,238.0 1650.0,237.3 1651.0,236.7 1652.0,236.1 1653.0,235.4 1654.0,234.8 1655.0,234.1 1656.0,233.5 1657.0,232.8 1658.0,232.2 1659.0,231.6 1660.0,230.9 1661.0,230.3 1662.0,229.6 1663.0,229.0 1664.0,228.3 1665.0,227.7 1666.0,227.1 1667.0,226.4 1668.0,225.8 1669.0,225.1 1670.0,224.5 1671.0,223.9 1672.0,223.2 1673.0,222.6 1674.0,221.9 1675.0,221.3 1676.0,220.6 1677.0,220.0 1678.0,219.4 1679.0,218.7 1680.0,218.1 1681.0,217.4 1682.0,216.8 1683.0,216.1 1684.0,215.5 1685.0,214.9 1686.0,214.2 1687.0,213.6 1688.0,212.9 1689.0,212.3 1690.0,211.6 1691.0,211.0 1692.0,210.3 1693.0,209.7 1694.0,209.1 1695.0,208.4 1696.0,207.8 1697.0,207.1 1698.0,206.5 1699.0,205.8 1700.0,205.2 1701.0,204.5 1702.0,203.9 1703.0,203.3 1704.0,202.6 1705.0,202.0 1706.0,201.3 1707.0,200.7 1708.0,200.0 1709.0,199.4 1710.0,198.7 1711.0,198.1 1712.0,197.4 1713.0,196.8 1714.0,196.1 1715.0,195.5 1716.0,194.8 1717.0,194.2 1718.0,193.6 1719.0,192.9 1720.0,192.3 1721.0,191.6 1722.0,191.0 1723.0,190.3 1724.0,189.7 1725.0,189.0 1726.0,188.4 1727.0,187.7 1728.0,187.1 1729.0,186.4 1730.0,185.8 1731.0,185.1 1732.0,184.4 1733.0,183.8 1734.0,183.1 1735.0,182.5 1736.0,181.8 1737.0,181.2 1738.0,180.5 1739.0,179.9 1740.0,179.2 1741.0,178.6 1742.0,177.9 1743.0,177.3 1744.0,176.6 1745.0,175.9 1746.0,175.3 1747.0,174.6 1748.0,174.0 1749.0,173.3 1750.0,172.7 1751.0,172.0 1752.4,171.1" stroke="#007a00"/>
<polyline points="1031.0,604.9 1032.0,604.9 1033.0,604.9 1034.0,604.9 1035.0,604.9 1036.0,604.9 1037.0,604.9 1038.0,604.9 1039.0,604.9 1040.0,604.9 1041.0,604.9 1042.0,604.9 1043.0,604.9 1044.0,604.9 1045.0,604.9 1046.0,604.9 1047.0,604.9 1048.0,604.9 1049.0,604.9 1050.0,604.9 1051.0,604.9 1052.0,604.9 1053.0,604.9 1054.0,604.9 1055.0,604.9 1056.0,604.8 1057.0,604.8 1058.0,604.7 1059.0,604.6 1060.0,604.6 1061.0,604.5 1062.0,604.4 1063.0,604.2 1064.0,604.1 1065.0,604.0 1066.0,603.8 1067.0,603.7 1068.0,603.5 1069.0,603.4 1070.0,603.2 1071.0,603.0 1072.0,602.8 1073.0,602.6 1074.0,602.4 1075.0,602.2 1076.0,602.0 1077.0,601.7 1078.0,601.5 1079.0,601.2 1080.0,601.0 1081.0,600.7 1082.0,600.5 1083.0,600.2 1084.0,599.9 1085.0,599.6 1086.0,599.3 1087.0,599.0 1088.0,598.7 1089.0,598.4 1090.0,598.1 1091.0,597.8 1092.0,597.4 1093.0,597.1 1094.0,596.8 1095.0,596.4 1096.0,596.1 1097.0,595.7 1098.0,595.3 1099.0,595.0 1100.0,594.6 1101.0,594.2 1102.0,593.8 1103.0,593.4 1104.0,593.0 1105.0,592.6 1106.0,592.2 1107.0,591.8 1108.0,591.4 1109.0,591.0 1110.0,590.5 1111.0,590.1 1112.0,589.7 1113.0,589.2 1114.0,588.8 1115.0,588.3 1116.0,587.9 1117.0,587.4 1118.0,586.9 1119.0,586.5 1120.0,586.0 1121.0,585.5 1122.0,585.0 1123.0,584.6 1124.0,584.1 1125.0,583.6 1126.0,583.1 1127.0,582.6 1128.0,582.1 1129.0,581.5 1130.0,581.0 1131.0,580.5 1132.0,580.0 1133.0,579.5 1134.0,578.9 1135.0,578.4 1136.0,577.9 1137.0,577.3 1138.0,576.8 1139.0,576.2 1140.0,575.7 1141.0,575.1 1142.0,574.5 1143.0,574.0 1144.0,573.4 1145.0,572.8 1146.0,572.3 1147.0,571.7 1148.0,571.1 1149.0,570.5 1150.0,569.9 1151.0,569.4 1152.0,568.8 1153.0,568.2 1154.0,567.6 1155.0,567.0 1156.0,566.4 1157.0,565.7 1158.0,565.1 1159.0,564.5 1160.0,563.9 1161.0,563.3 1162.0,562.7 1163.0,562.0 1164.0,561.4 1165.0,560.8 1166.0,560.1 1167.0,559.5 1168.0,558.9 1169.0,558.2 1170.0,557.6 1171.0,556.9 1172.0,556.3 1173.0,555.6 1174.0,555.0 1175.0,554.3 1176.0,553.6 1177.0,553.0 1178.0,552.3 1179.0,551.7 1180.0,551.0 1181.0,550.3 1182.0,549.6 1183.0,549.0 1184.0,548.3 1185.0,547.6 1186.0,546.9 1187.0,546.2 1188.0,545.5 1189.0,544.9 1190.0,544.2 1191.0,543.5 1192.0,542.8 1193.0,542.1 1194.0,541.4 1195.0,540.7 1196.0,540.0 1197.0,539.3 1198.0,538.6 1199.0,537.9 1200.0,537.1 1201.0,536.4 1202.0,535.7 1203.0,535.0 1204.0,534.3 1205.0,533.6 1206.0,532.8 1207.0,532.1 1208.0,531.4 1209.0,530.7 1210.0,529.9 1211.0,529.2 1212.0,528.5 1213.0,527.7 1214.0,527.0 1215.0,526.3 1216.0,525.5 1217.0,524.8 1218.0,524.0 1219.0,523.3 1220.0,522.6 1221.0,521.8 1222.0,521.1 1223.0,520.3 1224.0,519.6 1225.0,518.8 1226.0,518.1 1227.0,517.3 1228.0,516.5 1229.0,515.8 1230.0,515.0 1231.0,514.3 1232.0,513.5 1233.0,512.8 1234.0,512.0 1235.0,511.2 1236.0,510.5 1237.0,509.7 1238.0,508.9 1239.0,508.2 1240.0,507.4 1241.0,506.6 1242.0,505.8 1243.0,505.1 1244.0,504.3 1245.0,503.5 1246.0,502.7 1247.0,502.0 1248.0,501.2 1249.0,500.4 1250.0,499.6 1251.0,498.9 1252.0,498.1 1253.0,497.3 1254.0,496.5 1255.0,495.7 1256.0,494.9 1257.0,494.1 1258.0,493.4 1259.0,492.6 1260.0,491.8 1261.0,491.0 1262.0,490.2 1263.0,489.4 1264.0,488.6 1265.0,487.8 1266.0,487.0 1267.0,486.2 1268.0,485.4 1269.0,484.7 1270.0,483.9 1271.0,483.1 1272.0,482.3 1273.0,481.5 1274.0,480.7 1275.0,479.9 1276.0,479.1 1277.0,478.3 1278.0,477.5 1279.0,476.7 1280.0,475.9 1281.0,475.1 1282.0,474.3 1283.0,473.4 1284.0,472.6 1285.0,471.8 1286.0,471.0 1287.0,470.2 1288.0,469.4 1289.0,468.6 1290.0,467.8 1291.0,467.0 1292.0,466.2 1293.0,465.4 1294.0,464.6 1295.0,463.8 1296.0,463.0 1297.0,462.1 1298.0,461.3 1299.0,460.5 1300.0,459.7 1301.0,458.9 1302.0,458.1 1303.0,457.3 1304.0,456.5 1305.0,455.7 1306.0,454.8 1307.0,454.0 1308.0,453.2 1309.0,452.4 1310.0,451.6 1311.0,450.8 1312.0,450.0 1313.0,449.2 1314.0,448.3 1315.0,447.5 1316.0,446.7 1317.0,445.9 1318.0,445.1 1319.0,444.3 1320.0,443.4 1321.0,442.6 1322.0,441.8 1323.0,441.0 1324.0,440.2 1325.0,439.4 1326.0,438.6 1327.0,437.7 1328.0,436.9 1329.0,436.1 1330.0,435.3 1331.0,434.5 1332.0,433.7 1333.0,432.8 1334.0,432.0 1335.0,431.2 1336.0,430.4 1337.0,429.6 1338.0,428.8 1339.0,427.9 1340.0,427.1 1341.0,426.3 1342.0,425.5 1343.0,424.7 1344.0,423.9 1345.0,423.0 1346.0,422.2 1347.0,421.4 1348.0,420.6 1349.0,419.8 1350.0,419.0 1351.0,418.1 1352.0,417.3 1353.0,416.5 1354.0,415.7 1355.0,414.9 1356.0,414.1 1357.0,413.2 1358.0,412.4 1359.0,411.6 1360.0,410.8 1361.0,410.0 1362.0,409.2 1363.0,408.3 1364.0,407.5 1365.0,406.7 1366.0,405.9 1367.0,405.1 1368.0,404.3 1369.0,403.5 1370.0,402.6 1371.0,401.8 1372.0,401.0 1373.0,400.2 1374.0,399.4 1375.0,398.6 1376.0,397.8 1377.0,397.0 1378.0,396.1 1379.0,395.3 1380.0,394.5 1381.0,393.7 1382.0,392.9 1383.0,392.1 1384.0,391.3 1385.0,390.5 1386.0,389.7 1387.0,388.8 1388.0,388.0 1389.0,387.2 1390.0,386.4 1391.0,385.6 1392.0,384.8 1393.0,384.0 1394.0,383.2 1395.0,382.4 1396.0,381.6 1397.0,380.8 1398.0,380.0 1399.0,379.1 1400.0,378.3 1401.0,377.5 1402.0,376.7 1403.0,375.9 1404.0,375.1 1405.0,374.3 1406.0,373.5 1407.0,372.7 1408.0,371.9 1409.0,371.1 1410.0,370.3 1411.0,369.5 1412.0,368.7 1413.0,367.9 1414.0,367.1 1415.0,366.3 1416.0,365.5 1417.0,364.7 1418.0,363.9 1419.0,363.1 1420.0,362.3 1421.0,361.5 1422.0,360.7 1423.0,359.9 1424.0,359.1 1425.0,358.3 1426.0,357.5 1427.0,356.7 1428.0,355.9 1429.0,355.1 1430.0,354.3 1431.0,353.5 1432.0,352.7 1433.0,351.9 1434.0,351.1 1435.0,350.3 1436.0,349.5 1437.0,348.8 1438.0,348.0 1439.0,347.2 1440.0,346.4 1441.0,345.6 1442.0,344.8 1443.0,344.0 1444.0,343.2 1445.0,342.4 1446.0,341.6 1447.0,340.8 1448.0,340.1 1449.0,339.3 1450.0,338.5 1451.0,337.7 1452.0,336.9 1453.0,336.1 1454.0,335.3 1455.0,334.5 1456.0,333.8 1457.0,333.0 1458.0,332.2 1459.0,331.4 1460.0,330.6 1461.0,329.8 1462.0,329.1 1463.0,328.3 1464.0,327.5 1465.0,326.7 1466.0,325.9 1467.0,325.2 1468.0,324.4 1469.0,323.6 1470.0,322.8 1471.0,322.0 1472.0,321.3 1473.0,320.5 1474.0,319.7 1475.0,318.9 1476.0,318.2 1477.0,317.4 1478.0,316.6 1479.0,315.8 1480.0,315.0 1481.0,314.3 1482.0,313.5 1483.0,312.7 1484.0,312.0 1485.0,311.2 1486.0,310.4 1487.0,309.6 1488.0,308.9 1489.0,308.1 1490.0,307.3 1491.0,306.6 1492.0,305.8 1493.0,305.0 1494.0,304.2 1495.0,303.5 1496.0,302.7 1497.0,301.9 1498.0,301.2 1499.0,300.4 1500.0,299.6 1501.0,298.9 1502.0,298.1 1503.0,297.3 1504.0,296.6 1505.0,295.8 1506.0,295.0 1507.0,294.3 1508.0,293.5 1509.0,292.8 1510.0,292.0 1511.0,291.2 1512.0,290.5 1513.0,289.7 1514.0,288.9 1515.0,288.2 1516.0,287.4 1517.0,286.7 1518.0,285.9 1519.0,285.2 1520.0,284.4 1521.0,283.6 1522.0,282.9 1523.0,282.1 1524.0,281.4 1525.0,280.6 1526.0,279.8 1527.0,279.1 1528.0,278.3 1529.0,277.6 1530.0,276.8 1531.0,276.1 1532.0,275.3 1533.0,274.6 1534.0,273.8 1535.0,273.1 1536.0,272.3 1537.0,271.6 1538.0,270.8 1539.0,270.1 1540.0,269.3 1541.0,268.6 1542.0,267.8 1543.0,267.1 1544.0,266.3 1545.0,265.6 1546.0,264.8 1547.0,264.1 1548.0,263.3 1549.0,262.6 1550.0,261.8 1551.0,261.1 1552.0,260.3 1553.0,259.6 1554.0,258.8 1555.0,258.1 1556.0,257.3 1557.0,256.6 1558.0,255.8 1559.0,255.1 1560.0,254.4 1561.0,253.6 1562.0,252.9 1563.0,252.1 1564.0,251.4 1565.0,250.6 1566.0,249.9 1567.0,249.1 1568.0,248.4 1569.0,247.7 1570.0,246.9 1571.0,246.2 1572.0,245.4 1573.0,244.7 1574.0,244.0 1575.0,243.2 1576.0,242.5 1577.0,241.7 1578.0,241.0 1579.0,240.3 1580.0,239.5 1581.0,238.8 1582.0,238.0 1583.0,237.3 1584.0,236.6 1585.0,235.8 1586.0,235.1 1587.0,234.4 1588.0,233.6 1589.0,232.9 1590.0,232.1 1591.0,231.4 1592.0,230.7 1593.0,229.9 1594.0,229.2 1595.0,228.5 1596.0,227.7 1597.0,227.0 1598.0,226.3 1599.0,225.5 1600.0,224.8 1601.0,224.1 1602.0,223.3 1603.0,222.6 1604.0,221.9 1605.0,221.1 1606.0,220.4 1607.0,219.7 1608.0,218.9 1609.0,218.2 1610.0,217.5 1611.0,216.7 1612.0,216.0 1613.0,215.3 1614.0,214.5 1615.0,213.8 1616.0,213.1 1617.0,212.3 1618.0,211.6 1619.0,210.9 1620.0,210.1 1621.0,209.4 1622.0,208.7 1623.0,207.9 1624.0,207.2 1625.0,206.5 1626.0,205.7 1627.0,205.0 1628.0,204.3 1629.0,203.5 1630.0,202.8 1631.0,202.1 1632.0,201.3 1633.0,200.6 1634.0,199.9 1635.0,199.2 1636.0,198.4 1637.0,197.7 1638.0,197.0 1639.0,196.2 1640.0,195.5 1641.0,194.8 1642.0,194.0 1643.0,193.3 1644.0,192.6 1645.0,191.8 1646.0,191.1 1647.0,190.4 1648.0,189.6 1649.0,188.9 1650.0,188.2 1651.0,187.5 1652.0,186.7 1653.0,186.0 1654.0,185.3 1655.0,184.5 1656.0,183.8 1657.0,183.1 1658.0,182.3 1659.0,181.6 1660.0,180.9 1661.0,180.1 1662.0,179.4 1663.0,178.7 1664.0,177.9 1665.0,177.2 1666.0,176.5 1667.0,175.7 1668.0,175.0 1669.0,174.3 1670.0,173.5 1671.0,172.8 1672.0,172.1 1673.0,171.3 1674.0,170.6 1675.0,169.9 1676.0,169.1 1677.0,168.4 1678.0,167.7 1679.0,166.9 1680.0,166.2 1681.0,165.5 1682.0,164.7 1683.0,164.0 1684.0,163.3 1685.0,162.5 1686.0,161.8 1687.0,161.1 1688.0,160.3 1689.0,159.6 1690.0,158.8 1691.0,158.1 1692.0,157.4 1693.0,156.6 1694.0,155.9 1695.0,155.2 1696.0,154.4 1697.0,153.7 1698.0,152.9 1699.0,152.2 1700.0,151.5 1701.0,150.7 1702.0,150.0 1703.0,149.2 1704.0,148.5 1705.0,147.8 1706.0,147.0 1707.0,146.3 1708.0,145.5 1709.0,144.8 1710.0,144.0 1711.0,143.3 1712.0,142.6 1713.0,141.8 1714.0,141.1 1715.0,140.3 1716.0,139.6 1717.0,138.8 1718.0,138.1 1719.0,137.3 1720.0,136.6 1721.0,135.8 1722.0,135.1 1723.0,134.3 1724.0,133.6 1725.0,132.8 1726.0,132.1 1727.0,131.3 1728.0,130.6 1729.0,129.8 1730.0,129.1 1731.0,128.3 1732.0,127.6 1733.0,126.8 1734.0,126.1 1735.0,125.3 1736.0,124.6 1737.0,123.8 1738.0,123.1 1739.0,122.3 1740.0,121.5 1741.0,120.8 1742.0,120.0 1743.0,119.3 1744.0,118.5 1745.0,117.7 1746.0,117.0 1747.0,116.2 1748.0,115.5 1749.0,114.7 1750.0,113.9 1751.0,113.2 1752.4,112.1" stroke="#87260a"/>
<polyline points="1031.0,604.9 1032.0,604.9 1033.0,604.9 1034.0,604.9 1035.0,604.9 1036.0,604.9 1037.0,604.9 1038.0,604.9 1039.0,604.9 1040.0,604.9 1041.0,604.9 1042.0,604.9 1043.0,604.9 1044.0,604.9 1045.0,604.9 1046.0,604.9 1047.0,604.9 1048.0,604.9 1049.0,604.9 1050.0,604.9 1051.0,604.9 1052.0,604.9 1053.0,604.9 1054.0,604.9 1055.0,604.9 1056.0,604.9 1057.0,604.8 1058.0,604.8 1059.0,604.7 1060.0,604.6 1061.0,604.5 1062.0,604.4 1063.0,604.3 1064.0,604.1 1065.0,604.0 1066.0,603.8 1067.0,603.7" stroke="#e02020"/>
<polyline points="1067.0,603.7 1068.0,603.5 1069.0,603.3 1070.0,603.1 1071.0,602.9 1072.0,602.7 1073.0,602.5 1074.0,602.2 1075.0,602.0 1076.0,601.7 1077.0,601.5 1078.0,601.2 1079.0,600.9 1080.0,600.6 1081.0,600.3 1082.0,600.0 1083.0,599.7 1084.0,599.4 1085.0,599.1 1086.0,598.7 1087.0,598.4 1088.0,598.0 1089.0,597.7 1090.0,597.3 1091.0,596.9 1092.0,596.6 1093.0,596.2 1094.0,595.8 1095.0,595.4 1096.0,595.0 1097.0,594.6 1098.0,594.1 1099.0,593.7 1100.0,593.3 1101.0,592.8 1102.0,592.4 1103.0,591.9 1104.0,591.5 1105.0,591.0 1106.0,590.5 1107.0,590.1 1108.0,589.6 1109.0,589.1 1110.0,588.6 1111.0,588.1 1112.0,587.6 1113.0,587.1 1114.0,586.6 1115.0,586.0 1116.0,585.5 1117.0,585.0 1118.0,584.4 1119.0,583.9 1120.0,583.3 1121.0,582.8 1122.0,582.2 1123.0,581.7 1124.0,581.1 1125.0,580.5 1126.0,579.9 1127.0,579.4 1128.0,578.8 1129.0,578.2 1130.0,577.6 1131.0,577.0 1132.0,576.4 1133.0,575.8 1134.0,575.1 1135.0,574.5 1136.0,573.9 1137.0,573.3 1138.0,572.6 1139.0,572.0 1140.0,571.3 1141.0,570.7 1142.0,570.1 1143.0,569.4 1144.0,568.7 1145.0,568.1 1146.0,567.4 1147.0,566.7 1148.0,566.1 1149.0,565.4 1150.0,564.7 1151.0,564.0 1152.0,563.3 1153.0,562.6 1154.0,561.9 1155.0,561.2 1156.0,560.5 1157.0,559.8 1158.0,559.1 1159.0,558.4 1160.0,557.7 1161.0,557.0 1162.0,556.3 1163.0,555.5 1164.0,554.8 1165.0,554.1 1166.0,553.3 1167.0,552.6 1168.0,551.8 1169.0,551.1 1170.0,550.4 1171.0,549.6 1172.0,548.8 1173.0,548.1 1174.0,547.3 1175.0,546.6 1176.0,545.8 1177.0,545.0 1178.0,544.3 1179.0,543.5 1180.0,542.7 1181.0,541.9 1182.0,541.2 1183.0,540.4 1184.0,539.6 1185.0,538.8 1186.0,538.0 1187.0,537.2 1188.0,536.4 1189.0,535.6 1190.0,534.8 1191.0,534.0 1192.0,533.2 1193.0,532.4 1194.0,531.6 1195.0,530.8 1196.0,529.9 1197.0,529.1 1198.0,528.3 1199.0,527.5 1200.0,526.7 1201.0,525.8 1202.0,525.0 1203.0,524.2 1204.0,523.4 1205.0,522.5 1206.0,521.7 1207.0,520.8 1208.0,520.0 1209.0,519.2 1210.0,518.3 1211.0,517.5 1212.0,516.6 1213.0,515.8 1214.0,514.9 1215.0,514.1 1216.0,513.2 1217.0,512.4 1218.0,511.5 1219.0,510.6 1220.0,509.8 1221.0,508.9 1222.0,508.1 1223.0,507.2 1224.0,506.3 1225.0,505.5 1226.0,504.6 1227.0,503.7 1228.0,502.8 1229.0,502.0 1230.0,501.1 1231.0,500.2 1232.0,499.3 1233.0,498.5 1234.0,497.6 1235.0,496.7 1236.0,495.8 1237.0,494.9 1238.0,494.0 1239.0,493.2 1240.0,492.3 1241.0,491.4 1242.0,490.5 1243.0,489.6 1244.0,488.7 1245.0,487.8 1246.0,486.9 1247.0,486.0 1248.0,485.1 1249.0,484.2 1250.0,483.3 1251.0,482.4 1252.0,481.5 1253.0,480.6 1254.0,479.7 1255.0,478.8 1256.0,477.9 1257.0,477.0 1258.0,476.1 1259.0,475.2 1260.0,474.3 1261.0,473.4 1262.0,472.5 1263.0,471.5 1264.0,470.6 1265.0,469.7 1266.0,468.8 1267.0,467.9 1268.0,467.0 1269.0,466.1 1270.0,465.1 1271.0,464.2 1272.0,463.3 1273.0,462.4 1274.0,461.5 1275.0,460.6 1276.0,459.6 1277.0,458.7 1278.0,457.8 1279.0,456.9 1280.0,455.9 1281.0,455.0 1282.0,454.1 1283.0,453.2 1284.0,452.3 1285.0,451.3 1286.0,450.4 1287.0,449.5 1288.0,448.6 1289.0,447.6 1290.0,446.7 1291.0,445.8 1292.0,444.8 1293.0,443.9 1294.0,443.0 1295.0,442.1 1296.0,441.1 1297.0,440.2 1298.0,439.3 1299.0,438.3 1300.0,437.4 1301.0,436.5 1302.0,435.5 1303.0,434.6 1304.0,433.7 1305.0,432.8 1306.0,431.8 1307.0,430.9 1308.0,430.0 1309.0,429.0 1310.0,428.1 1311.0,427.2 1312.0,426.2 1313.0,425.3 1314.0,424.4 1315.0,423.4 1316.0,422.5 1317.0,421.6 1318.0,420.6 1319.0,419.7 1320.0,418.8 1321.0,417.8 1322.0,416.9 1323.0,416.0 1324.0,415.0 1325.0,414.1 1326.0,413.2 1327.0,412.2 1328.0,411.3 1329.0,410.4 1330.0,409.4 1331.0,408.5 1332.0,407.6 1333.0,406.6 1334.0,405.7 1335.0,404.7 1336.0,403.8 1337.0,402.9 1338.0,401.9 1339.0,401.0 1340.0,400.1 1341.0,399.1 1342.0,398.2 1343.0,397.3 1344.0,396.3 1345.0,395.4 1346.0,394.5 1347.0,393.6 1348.0,392.6 1349.0,391.7 1350.0,390.8 1351.0,389.8 1352.0,388.9 1353.0,388.0 1354.0,387.0 1355.0,386.1 1356.0,385.2 1357.0,384.2 1358.0,383.3 1359.0,382.4 1360.0,381.4 1361.0,380.5 1362.0,379.6 1363.0,378.7 1364.0,377.7 1365.0,376.8 1366.0,375.9 1367.0,374.9 1368.0,374.0 1369.0,373.1 1370.0,372.2 1371.0,371.2 1372.0,370.3 1373.0,369.4 1374.0,368.5 1375.0,367.5 1376.0,366.6 1377.0,365.7 1378.0,364.8 1379.0,363.8 1380.0,362.9 1381.0,362.0 1382.0,361.1 1383.0,360.1 1384.0,359.2 1385.0,358.3 1386.0,357.4 1387.0,356.5 1388.0,355.5 1389.0,354.6 1390.0,353.7 1391.0,352.8 1392.0,351.9 1393.0,350.9 1394.0,350.0 1395.0,349.1 1396.0,348.2 1397.0,347.3 1398.0,346.3 1399.0,345.4 1400.0,344.5 1401.0,343.6 1402.0,342.7 1403.0,341.8 1404.0,340.9 1405.0,339.9 1406.0,339.0 1407.0,338.1 1408.0,337.2 1409.0,336.3 1410.0,335.4 1411.0,334.5 1412.0,333.6 1413.0,332.7 1414.0,331.7 1415.0,330.8 1416.0,329.9 1417.0,329.0 1418.0,328.1 1419.0,327.2 1420.0,326.3 1421.0,325.4 1422.0,324.5 1423.0,323.6 1424.0,322.7 1425.0,321.8 1426.0,320.9 1427.0,320.0 1428.0,319.1 1429.0,318.2 1430.0,317.3 1431.0,316.4 1432.0,315.5 1433.0,314.6 1434.0,313.7 1435.0,312.8 1436.0,311.9 1437.0,311.0 1438.0,310.1 1439.0,309.2 1440.0,308.3 1441.0,307.4 1442.0,306.5 1443.0,305.6 1444.0,304.7 1445.0,303.8 1446.0,302.9 1447.0,302.0 1448.0,301.1 1449.0,300.2 1450.0,299.3 1451.0,298.5 1452.0,297.6 1453.0,296.7 1454.0,295.8 1455.0,294.9 1456.0,294.0 1457.0,293.1 1458.0,292.2 1459.0,291.3 1460.0,290.5 1461.0,289.6 1462.0,288.7 1463.0,287.8 1464.0,286.9 1465.0,286.0 1466.0,285.2 1467.0,284.3 1468.0,283.4 1469.0,282.5 1470.0,281.6 1471.0,280.8 1472.0,279.9 1473.0,279.0 1474.0,278.1 1475.0,277.2 1476.0,276.4 1477.0,275.5 1478.0,274.6 1479.0,273.7 1480.0,272.9 1481.0,272.0 1482.0,271.1 1483.0,270.2 1484.0,269.4 1485.0,268.5 1486.0,267.6 1487.0,266.8 1488.0,265.9 1489.0,265.0 1490.0,264.1 1491.0,263.3 1492.0,262.4 1493.0,261.5 1494.0,260.7 1495.0,259.8 1496.0,258.9 1497.0,258.1 1498.0,257.2 1499.0,256.3 1500.0,255.5 1501.0,254.6 1502.0,253.8 1503.0,252.9 1504.0,252.0 1505.0,251.2 1506.0,250.3 1507.0,249.5 1508.0,248.6 1509.0,247.7 1510.0,246.9 1511.0,246.0 1512.0,245.2 1513.0,244.3 1514.0,243.4 1515.0,242.6 1516.0,241.7 1517.0,240.9 1518.0,240.0 1519.0,239.2 1520.0,238.3 1521.0,237.5 1522.0,236.6 1523.0,235.7 1524.0,234.9 1525.0,234.0 1526.0,233.2 1527.0,232.3 1528.0,231.5 1529.0,230.6 1530.0,229.8 1531.0,228.9 1532.0,228.1 1533.0,227.2 1534.0,226.4 1535.0,225.5 1536.0,224.7 1537.0,223.9 1538.0,223.0 1539.0,222.2 1540.0,221.3 1541.0,220.5 1542.0,219.6 1543.0,218.8 1544.0,217.9 1545.0,217.1 1546.0,216.2 1547.0,215.4 1548.0,214.6 1549.0,213.7 1550.0,212.9 1551.0,212.0 1552.0,211.2 1553.0,210.4 1554.0,209.5 1555.0,208.7 1556.0,207.8 1557.0,207.0 1558.0,206.2 1559.0,205.3 1560.0,204.5 1561.0,203.6 1562.0,202.8 1563.0,202.0 1564.0,201.1 1565.0,200.3 1566.0,199.5 1567.0,198.6 1568.0,197.8 1569.0,197.0 1570.0,196.1 1571.0,195.3 1572.0,194.5 1573.0,193.6 1574.0,192.8 1575.0,192.0 1576.0,191.1 1577.0,190.3 1578.0,189.5 1579.0,188.6 1580.0,187.8 1581.0,187.0 1582.0,186.1 1583.0,185.3 1584.0,184.5 1585.0,183.6 1586.0,182.8 1587.0,182.0 1588.0,181.2 1589.0,180.3 1590.0,179.5 1591.0,178.7 1592.0,177.8 1593.0,177.0 1594.0,176.2 1595.0,175.3 1596.0,174.5 1597.0,173.7 1598.0,172.9 1599.0,172.0 1600.0,171.2 1601.0,170.4 1602.0,169.6 1603.0,168.7 1604.0,167.9 1605.0,167.1 1606.0,166.2 1607.0,165.4 1608.0,164.6 1609.0,163.8 1610.0,162.9 1611.0,162.1 1612.0,161.3 1613.0,160.5 1614.0,159.6 1615.0,158.8 1616.0,158.0 1617.0,157.2 1618.0,156.3 1619.0,155.5 1620.0,154.7 1621.0,153.9 1622.0,153.0 1623.0,152.2 1624.0,151.4 1625.0,150.6 1626.0,149.7 1627.0,148.9 1628.0,148.1 1629.0,147.3 1630.0,146.4 1631.0,145.6 1632.0,144.8 1633.0,144.0 1634.0,143.1 1635.0,142.3 1636.0,141.5 1637.0,140.7 1638.0,139.8 1639.0,139.0 1640.0,138.2 1641.0,137.4 1642.0,136.5 1643.0,135.7 1644.0,134.9 1645.0,134.1 1646.0,133.2 1647.0,132.4 1648.0,131.6 1649.0,130.8 1650.0,129.9 1651.0,129.1 1652.0,128.3 1653.0,127.5 1654.0,126.6 1655.0,125.8 1656.0,125.0 1657.0,124.1 1658.0,123.3 1659.0,122.5 1660.0,121.7 1661.0,120.8 1662.0,120.0 1663.0,119.2 1664.0,118.3 1665.0,117.5 1666.0,116.7 1667.0,115.9 1668.0,115.0 1669.0,114.2 1670.0,113.4 1671.0,112.5 1672.0,111.7 1673.0,110.9 1674.0,110.1 1675.0,109.2 1676.0,108.4 1677.0,107.6 1678.0,106.7 1679.0,105.9 1680.0,105.1 1681.0,104.2 1682.0,103.4 1683.0,102.6 1684.0,101.7 1685.0,100.9 1686.0,100.1 1687.0,99.2 1688.0,98.4 1689.0,97.6 1690.0,96.7 1691.0,95.9 1692.0,95.0 1693.0,94.2 1694.0,93.4 1695.0,92.5 1696.0,91.7 1697.0,90.9 1698.0,90.0 1699.0,89.2 1700.0,88.3 1701.0,87.5 1702.0,86.6 1703.0,85.8 1704.0,85.0 1705.0,84.1 1706.0,83.3 1707.0,82.4 1708.0,81.6 1709.0,80.7 1710.0,79.9 1711.0,79.1 1712.0,78.2 1713.0,77.4 1714.0,76.5 1715.0,75.7 1716.0,74.8 1717.0,74.0 1718.0,73.1 1719.0,72.3 1720.0,71.4 1721.0,70.6 1722.0,69.7 1723.0,68.9 1724.0,68.0 1725.0,67.1 1726.0,66.3 1727.0,65.4 1728.0,64.6 1729.0,63.7 1730.0,62.9 1731.0,62.0 1732.0,61.1 1733.0,60.3 1734.0,59.4 1735.0,58.6 1736.0,57.7 1737.0,56.8 1738.0,56.0 1739.0,55.1 1740.0,54.2 1741.0,53.4 1742.0,52.5 1743.0,51.6 1744.0,50.8 1745.0,49.9 1746.0,49.0 1747.0,48.2 1748.0,47.3 1749.0,46.4 1750.0,45.5 1751.0,44.7 1752.4,43.4" stroke="#ff0000" stroke-dasharray="9.5 7.15 0.01 8.29 0.01 7.15" stroke-linecap="round"/>
</g>
<text x="1019" y="614.1" text-anchor="end">0</text>
<text x="1019" y="559.5" text-anchor="end">0.04</text>
<text x="1019" y="504.9" text-anchor="end">0.08</text>
<text x="1019" y="450.3" text-anchor="end">0.12</text>
<text x="1019" y="395.7" text-anchor="end">0.16</text>
<text x="1019" y="341.1" text-anchor="end">0.2</text>
<text x="1019" y="286.5" text-anchor="end">0.24</text>
<text x="1019" y="231.9" text-anchor="end">0.28</text>
<text x="1019" y="177.3" text-anchor="end">0.32</text>
<text x="1019" y="122.7" text-anchor="end">0.36</text>
<text x="1019" y="68.1" text-anchor="end">0.4</text>
<text x="1125.8" y="637" text-anchor="middle">2146</text>
<text x="1221.1" y="637" text-anchor="middle">2282</text>
<text x="1316.4" y="637" text-anchor="middle">2418</text>
<text x="1411.7" y="637" text-anchor="middle">2554</text>
<text x="1507.0" y="637" text-anchor="middle">2690</text>
<text x="1602.3" y="637" text-anchor="middle">2826</text>
<text x="1697.6" y="637" text-anchor="middle">2962</text>
<text transform="translate(947.6,309) rotate(-90)" text-anchor="middle">Total CO2 in Layer 4, M tonnes</text>
<text x="1291" y="688" text-anchor="middle">Time</text>
<text x="1127" y="727" textLength="323.5" lengthAdjust="spacingAndGlyphs" font-size="31">(b) Caprock – layer 4</text>
<rect x="1068.6" y="67" width="419.9" height="148.2" fill="#fff" fill-opacity="0.92" stroke="#dcdcdc" stroke-width="1.8"/>
<line x1="1072.9" y1="85.8" x2="1100.3" y2="85.8" stroke="#0000ff" stroke-width="3.4" stroke-linecap="round"/>
<text x="1114.2" y="96.0" font-size="29.1">Total CO2 5500psi Layer 4</text>
<line x1="1072.9" y1="122.2" x2="1100.3" y2="122.2" stroke="#007a00" stroke-width="3.4" stroke-linecap="round"/>
<text x="1114.2" y="132.4" font-size="29.1">Total CO2 7000psi Layer 4</text>
<line x1="1072.9" y1="158.8" x2="1100.3" y2="158.8" stroke="#87260a" stroke-width="3.4" stroke-linecap="round"/>
<text x="1114.2" y="169.0" font-size="29.1">Total CO2 7500psi Layer 4</text>
<line x1="1072.9" y1="195.4" x2="1100.3" y2="195.4" stroke="#ff0000" stroke-width="3.4" stroke-linecap="round" stroke-dasharray="9.5 7.15 0.01 8.29 0.01 7.15"/>
<text x="1114.2" y="205.6" font-size="29.1">Total CO2 8000psi Layer 4</text>
<path d="M133.9,786 H848.2 V1375.2" fill="none" stroke="#dedede" stroke-width="2.2"/>
<line x1="133.3" y1="786" x2="133.3" y2="1375.2" stroke="#8a8a8a" stroke-width="1.8"/>
<line x1="129.9" y1="1375.2" x2="848.2" y2="1375.2" stroke="#9c9c9c" stroke-width="2.4"/>
<path d="M130.3,1375.2 H133.9 M130.70000000000002,1352.8 H133.9 M130.3,1330.5 H133.9 M130.70000000000002,1308.1 H133.9 M130.3,1285.7 H133.9 M130.70000000000002,1263.3 H133.9 M130.3,1241.0 H133.9 M130.70000000000002,1218.6 H133.9 M130.3,1196.2 H133.9 M130.70000000000002,1173.8 H133.9 M130.3,1151.5 H133.9 M130.70000000000002,1129.1 H133.9 M130.3,1106.7 H133.9 M130.70000000000002,1084.3 H133.9 M130.3,1062.0 H133.9 M130.70000000000002,1039.6 H133.9 M130.3,1017.2 H133.9 M130.70000000000002,994.8 H133.9 M130.3,972.5 H133.9 M130.70000000000002,950.1 H133.9 M130.3,927.7 H133.9 M130.70000000000002,905.3 H133.9 M130.3,883.0 H133.9 M130.70000000000002,860.6 H133.9 M130.3,838.2 H133.9 M130.70000000000002,815.8 H133.9 M130.3,793.5 H133.9" stroke="#6e6e6e" stroke-width="1.6" fill="none"/>
<path d="M228.2,1375.2 v3.6 M322.5,1375.2 v3.6 M416.8,1375.2 v3.6 M511.1,1375.2 v3.6 M605.4,1375.2 v3.6 M699.7,1375.2 v3.6 M794.0,1375.2 v3.6" stroke="#808080" stroke-width="1.8" fill="none"/>
<clipPath id="clip2"><rect x="132.9" y="786" width="716.3000000000001" height="592.2"/></clipPath>
<g clip-path="url(#clip2)" fill="none" stroke-width="3.4" stroke-linejoin="round">
<polyline points="133.9,1375.2 134.9,1375.2 135.9,1375.2 136.9,1375.2 137.9,1375.2 138.9,1375.2 139.9,1375.2 140.9,1375.2 141.9,1375.2 142.9,1375.2 143.9,1375.2 144.9,1375.2 145.9,1375.2 146.9,1375.2 147.9,1375.2 148.9,1375.2 149.9,1375.2 150.9,1375.2 151.9,1375.2 152.9,1375.2 153.9,1375.2 154.9,1375.2 155.9,1375.2 156.9,1375.2 157.9,1375.2 158.9,1375.2 159.9,1375.2 160.9,1375.2 161.9,1375.2 162.9,1375.2 163.9,1375.2 164.9,1375.2 165.9,1375.2 166.9,1375.2 167.9,1375.2 168.9,1375.2 169.9,1375.2 170.9,1375.2 171.9,1375.2 172.9,1375.2 173.9,1375.2 174.9,1375.2 175.9,1375.2 176.9,1375.2 177.9,1375.2 178.9,1375.2 179.9,1375.2 180.9,1375.2 181.9,1375.2 182.9,1375.2 183.9,1375.2 184.9,1375.2 185.9,1375.2 186.9,1375.2 187.9,1375.2 188.9,1375.2 189.9,1375.2 190.9,1375.2 191.9,1375.2 192.9,1375.2 193.9,1375.2 194.9,1375.2 195.9,1375.2 196.9,1375.2 197.9,1375.2 198.9,1375.2 199.9,1375.2 200.9,1375.2 201.9,1375.2 202.9,1375.2 203.9,1375.2 204.9,1375.2 205.9,1375.2 206.9,1375.2 207.9,1375.2 208.9,1375.2 209.9,1375.2 210.9,1375.2 211.9,1375.2 212.9,1375.2 213.9,1375.2 214.9,1375.2 215.9,1375.2 216.9,1375.2 217.9,1375.2 218.9,1375.2 219.9,1375.2 220.9,1375.2 221.9,1375.2 222.9,1375.2 223.9,1375.2 224.9,1375.2 225.9,1375.2 226.9,1375.2 227.9,1375.2 228.9,1375.2 229.9,1375.2 230.9,1375.2 231.9,1375.2 232.9,1375.2 233.9,1375.2 234.9,1375.2 235.9,1375.2 236.9,1375.2 237.9,1375.2 238.9,1375.2 239.9,1375.2 240.9,1375.2 241.9,1375.2 242.9,1375.2 243.9,1375.2 244.9,1375.2 245.9,1375.2 246.9,1375.2 247.9,1375.1 248.9,1375.1 249.9,1375.1 250.9,1375.1 251.9,1375.1 252.9,1375.1 253.9,1375.1 254.9,1375.1 255.9,1375.0 256.9,1375.0 257.9,1375.0 258.9,1375.0 259.9,1375.0 260.9,1375.0 261.9,1374.9 262.9,1374.9 263.9,1374.9 264.9,1374.9 265.9,1374.9 266.9,1374.8 267.9,1374.8 268.9,1374.8 269.9,1374.8 270.9,1374.7 271.9,1374.7 272.9,1374.7 273.9,1374.7 274.9,1374.6 275.9,1374.6 276.9,1374.6 277.9,1374.6 278.9,1374.5 279.9,1374.5 280.9,1374.5 281.9,1374.4 282.9,1374.4 283.9,1374.4 284.9,1374.3 285.9,1374.3 286.9,1374.3 287.9,1374.2 288.9,1374.2 289.9,1374.2 290.9,1374.1 291.9,1374.1 292.9,1374.0 293.9,1374.0 294.9,1374.0 295.9,1373.9 296.9,1373.9 297.9,1373.8 298.9,1373.8 299.9,1373.8 300.9,1373.7 301.9,1373.7 302.9,1373.6 303.9,1373.6 304.9,1373.5 305.9,1373.5 306.9,1373.4 307.9,1373.4 308.9,1373.3 309.9,1373.3 310.9,1373.2 311.9,1373.2 312.9,1373.1 313.9,1373.1 314.9,1373.0 315.9,1373.0 316.9,1372.9 317.9,1372.9 318.9,1372.8 319.9,1372.8 320.9,1372.7 321.9,1372.6 322.9,1372.6 323.9,1372.5 324.9,1372.5 325.9,1372.4 326.9,1372.3 327.9,1372.3 328.9,1372.2 329.9,1372.2 330.9,1372.1 331.9,1372.0 332.9,1372.0 333.9,1371.9 334.9,1371.8 335.9,1371.8 336.9,1371.7 337.9,1371.6 338.9,1371.6 339.9,1371.5 340.9,1371.4 341.9,1371.4 342.9,1371.3 343.9,1371.2 344.9,1371.2 345.9,1371.1 346.9,1371.0 347.9,1370.9 348.9,1370.9 349.9,1370.8 350.9,1370.7 351.9,1370.6 352.9,1370.6 353.9,1370.5 354.9,1370.4 355.9,1370.3 356.9,1370.3 357.9,1370.2 358.9,1370.1 359.9,1370.0 360.9,1369.9 361.9,1369.9 362.9,1369.8 363.9,1369.7 364.9,1369.6 365.9,1369.5 366.9,1369.5 367.9,1369.4 368.9,1369.3 369.9,1369.2 370.9,1369.1 371.9,1369.0 372.9,1368.9 373.9,1368.8 374.9,1368.8 375.9,1368.7 376.9,1368.6 377.9,1368.5 378.9,1368.4 379.9,1368.3 380.9,1368.2 381.9,1368.1 382.9,1368.0 383.9,1367.9 384.9,1367.8 385.9,1367.7 386.9,1367.6 387.9,1367.6 388.9,1367.5 389.9,1367.4 390.9,1367.3 391.9,1367.2 392.9,1367.1 393.9,1367.0 394.9,1366.9 395.9,1366.8 396.9,1366.7 397.9,1366.6 398.9,1366.5 399.9,1366.4 400.9,1366.2 401.9,1366.1 402.9,1366.0 403.9,1365.9 404.9,1365.8 405.9,1365.7 406.9,1365.6 407.9,1365.5 408.9,1365.4 409.9,1365.3 410.9,1365.2 411.9,1365.1 412.9,1365.0 413.9,1364.8 414.9,1364.7 415.9,1364.6 416.9,1364.5 417.9,1364.4 418.9,1364.3 419.9,1364.2 420.9,1364.1 421.9,1363.9 422.9,1363.8 423.9,1363.7 424.9,1363.6 425.9,1363.5 426.9,1363.3 427.9,1363.2 428.9,1363.1 429.9,1363.0 430.9,1362.9 431.9,1362.7 432.9,1362.6 433.9,1362.5 434.9,1362.4 435.9,1362.3 436.9,1362.1 437.9,1362.0 438.9,1361.9 439.9,1361.8 440.9,1361.6 441.9,1361.5 442.9,1361.4 443.9,1361.2 444.9,1361.1 445.9,1361.0 446.9,1360.9 447.9,1360.7 448.9,1360.6 449.9,1360.5 450.9,1360.3 451.9,1360.2 452.9,1360.1 453.9,1359.9 454.9,1359.8 455.9,1359.7 456.9,1359.5 457.9,1359.4 458.9,1359.2 459.9,1359.1 460.9,1359.0 461.9,1358.8 462.9,1358.7 463.9,1358.6 464.9,1358.4 465.9,1358.3 466.9,1358.1 467.9,1358.0 468.9,1357.8 469.9,1357.7 470.9,1357.6 471.9,1357.4 472.9,1357.3 473.9,1357.1 474.9,1357.0 475.9,1356.8 476.9,1356.7 477.9,1356.5 478.9,1356.4 479.9,1356.2 480.9,1356.1 481.9,1355.9 482.9,1355.8 483.9,1355.6 484.9,1355.5 485.9,1355.3 486.9,1355.2 487.9,1355.0 488.9,1354.9 489.9,1354.7 490.9,1354.6 491.9,1354.4 492.9,1354.3 493.9,1354.1 494.9,1353.9 495.9,1353.8 496.9,1353.6 497.9,1353.5 498.9,1353.3 499.9,1353.2 500.9,1353.0 501.9,1352.8 502.9,1352.7 503.9,1352.5 504.9,1352.3 505.9,1352.2 506.9,1352.0 507.9,1351.9 508.9,1351.7 509.9,1351.5 510.9,1351.4 511.9,1351.2 512.9,1351.0 513.9,1350.9 514.9,1350.7 515.9,1350.5 516.9,1350.4 517.9,1350.2 518.9,1350.0 519.9,1349.8 520.9,1349.7 521.9,1349.5 522.9,1349.3 523.9,1349.2 524.9,1349.0 525.9,1348.8 526.9,1348.6 527.9,1348.5 528.9,1348.3 529.9,1348.1 530.9,1347.9 531.9,1347.8 532.9,1347.6 533.9,1347.4 534.9,1347.2 535.9,1347.0 536.9,1346.9 537.9,1346.7 538.9,1346.5 539.9,1346.3 540.9,1346.1 541.9,1345.9 542.9,1345.8 543.9,1345.6 544.9,1345.4 545.9,1345.2 546.9,1345.0 547.9,1344.8 548.9,1344.7 549.9,1344.5 550.9,1344.3 551.9,1344.1 552.9,1343.9 553.9,1343.7 554.9,1343.5 555.9,1343.3 556.9,1343.1 557.9,1342.9 558.9,1342.8 559.9,1342.6 560.9,1342.4 561.9,1342.2 562.9,1342.0 563.9,1341.8 564.9,1341.6 565.9,1341.4 566.9,1341.2 567.9,1341.0 568.9,1340.8 569.9,1340.6 570.9,1340.4 571.9,1340.2 572.9,1340.0 573.9,1339.8 574.9,1339.6 575.9,1339.4 576.9,1339.2 577.9,1339.0 578.9,1338.8 579.9,1338.6 580.9,1338.4 581.9,1338.2 582.9,1338.0 583.9,1337.8 584.9,1337.6 585.9,1337.4 586.9,1337.2 587.9,1336.9 588.9,1336.7 589.9,1336.5 590.9,1336.3 591.9,1336.1 592.9,1335.9 593.9,1335.7 594.9,1335.5 595.9,1335.3 596.9,1335.1 597.9,1334.8 598.9,1334.6 599.9,1334.4 600.9,1334.2 601.9,1334.0 602.9,1333.8 603.9,1333.5 604.9,1333.3 605.9,1333.1 606.9,1332.9 607.9,1332.7 608.9,1332.5 609.9,1332.2 610.9,1332.0 611.9,1331.8 612.9,1331.6 613.9,1331.4 614.9,1331.1 615.9,1330.9 616.9,1330.7 617.9,1330.5 618.9,1330.2 619.9,1330.0 620.9,1329.8 621.9,1329.6 622.9,1329.3 623.9,1329.1 624.9,1328.9 625.9,1328.6 626.9,1328.4 627.9,1328.2 628.9,1328.0 629.9,1327.7 630.9,1327.5 631.9,1327.3 632.9,1327.0 633.9,1326.8 634.9,1326.6 635.9,1326.3 636.9,1326.1 637.9,1325.9 638.9,1325.6 639.9,1325.4 640.9,1325.2 641.9,1324.9 642.9,1324.7 643.9,1324.4 644.9,1324.2 645.9,1324.0 646.9,1323.7 647.9,1323.5 648.9,1323.2 649.9,1323.0 650.9,1322.8 651.9,1322.5 652.9,1322.3 653.9,1322.0 654.9,1321.8 655.9,1321.5 656.9,1321.3 657.9,1321.1 658.9,1320.8 659.9,1320.6 660.9,1320.3 661.9,1320.1 662.9,1319.8 663.9,1319.6 664.9,1319.3 665.9,1319.1 666.9,1318.8 667.9,1318.6 668.9,1318.3 669.9,1318.1 670.9,1317.8 671.9,1317.6 672.9,1317.3 673.9,1317.1 674.9,1316.8 675.9,1316.5 676.9,1316.3 677.9,1316.0 678.9,1315.8 679.9,1315.5 680.9,1315.3 681.9,1315.0 682.9,1314.7 683.9,1314.5 684.9,1314.2 685.9,1314.0 686.9,1313.7 687.9,1313.4 688.9,1313.2 689.9,1312.9 690.9,1312.7 691.9,1312.4 692.9,1312.1 693.9,1311.9 694.9,1311.6 695.9,1311.3 696.9,1311.1 697.9,1310.8 698.9,1310.5 699.9,1310.3 700.9,1310.0 701.9,1309.7 702.9,1309.5 703.9,1309.2 704.9,1308.9 705.9,1308.7 706.9,1308.4 707.9,1308.1 708.9,1307.8 709.9,1307.6 710.9,1307.3 711.9,1307.0 712.9,1306.7 713.9,1306.5 714.9,1306.2 715.9,1305.9 716.9,1305.6 717.9,1305.4 718.9,1305.1 719.9,1304.8 720.9,1304.5 721.9,1304.2 722.9,1304.0 723.9,1303.7 724.9,1303.4 725.9,1303.1 726.9,1302.8 727.9,1302.6 728.9,1302.3 729.9,1302.0 730.9,1301.7 731.9,1301.4 732.9,1301.1 733.9,1300.9 734.9,1300.6 735.9,1300.3 736.9,1300.0 737.9,1299.7 738.9,1299.4 739.9,1299.1 740.9,1298.8 741.9,1298.6 742.9,1298.3 743.9,1298.0 744.9,1297.7 745.9,1297.4 746.9,1297.1 747.9,1296.8 748.9,1296.5 749.9,1296.2 750.9,1295.9 751.9,1295.6 752.9,1295.3 753.9,1295.0 754.9,1294.7 755.9,1294.4 756.9,1294.1 757.9,1293.8 758.9,1293.5 759.9,1293.2 760.9,1292.9 761.9,1292.6 762.9,1292.3 763.9,1292.0 764.9,1291.7 765.9,1291.4 766.9,1291.1 767.9,1290.8 768.9,1290.5 769.9,1290.2 770.9,1289.9 771.9,1289.6 772.9,1289.3 773.9,1289.0 774.9,1288.7 775.9,1288.4 776.9,1288.1 777.9,1287.8 778.9,1287.5 779.9,1287.2 780.9,1286.8 781.9,1286.5 782.9,1286.2 783.9,1285.9 784.9,1285.6 785.9,1285.3 786.9,1285.0 787.9,1284.7 788.9,1284.3 789.9,1284.0 790.9,1283.7 791.9,1283.4 792.9,1283.1 793.9,1282.8 794.9,1282.5 795.9,1282.1 796.9,1281.8 797.9,1281.5 798.9,1281.2 799.9,1280.9 800.9,1280.5 801.9,1280.2 802.9,1279.9 803.9,1279.6 804.9,1279.2 805.9,1278.9 806.9,1278.6 807.9,1278.3 808.9,1278.0 809.9,1277.6 810.9,1277.3 811.9,1277.0 812.9,1276.6 813.9,1276.3 814.9,1276.0 815.9,1275.7 816.9,1275.3 817.9,1275.0 818.9,1274.7 819.9,1274.3 820.9,1274.0 821.9,1273.7 822.9,1273.4 823.9,1273.0 824.9,1272.7 825.9,1272.4 826.9,1272.0 827.9,1271.7 828.9,1271.4 829.9,1271.0 830.9,1270.7 831.9,1270.3 832.9,1270.0 833.9,1269.7 834.9,1269.3 835.9,1269.0 836.9,1268.7 837.9,1268.3 838.9,1268.0 839.9,1267.6 840.9,1267.3 841.9,1266.9 842.9,1266.6 843.9,1266.3 844.9,1265.9 845.9,1265.6 846.9,1265.2 848.2,1264.8" stroke="#0000ff"/>
<polyline points="133.9,1375.2 134.9,1375.2 135.9,1375.2 136.9,1375.2 137.9,1375.2 138.9,1375.2 139.9,1375.2 140.9,1375.2 141.9,1375.2 142.9,1375.2 143.9,1375.2 144.9,1375.2 145.9,1375.2 146.9,1375.2 147.9,1375.2 148.9,1375.2 149.9,1375.2 150.9,1375.2 151.9,1375.2 152.9,1375.2 153.9,1375.2 154.9,1375.2 155.9,1375.2 156.9,1375.2 157.9,1375.2 158.9,1375.2 159.9,1375.2 160.9,1375.2 161.9,1375.2 162.9,1375.2 163.9,1375.2 164.9,1375.2 165.9,1375.2 166.9,1375.2 167.9,1375.2 168.9,1375.2 169.9,1375.2 170.9,1375.2 171.9,1375.2 172.9,1375.2 173.9,1375.2 174.9,1375.2 175.9,1375.2 176.9,1375.2 177.9,1375.2 178.9,1375.2 179.9,1375.2 180.9,1375.2 181.9,1375.2 182.9,1375.2 183.9,1375.2 184.9,1375.2 185.9,1375.2 186.9,1375.2 187.9,1375.2 188.9,1375.2 189.9,1375.2 190.9,1375.2 191.9,1375.2 192.9,1375.2 193.9,1375.2 194.9,1375.2 195.9,1375.2 196.9,1375.2 197.9,1375.2 198.9,1375.2 199.9,1375.2 200.9,1375.2 201.9,1375.2 202.9,1375.2 203.9,1375.2 204.9,1375.2 205.9,1375.2 206.9,1375.2 207.9,1375.2 208.9,1375.1 209.9,1375.1 210.9,1375.1 211.9,1375.1 212.9,1375.0 213.9,1375.0 214.9,1375.0 215.9,1375.0 216.9,1374.9 217.9,1374.9 218.9,1374.8 219.9,1374.8 220.9,1374.7 221.9,1374.7 222.9,1374.7 223.9,1374.6 224.9,1374.5 225.9,1374.5 226.9,1374.4 227.9,1374.4 228.9,1374.3 229.9,1374.2 230.9,1374.2 231.9,1374.1 232.9,1374.0 233.9,1374.0 234.9,1373.9 235.9,1373.8 236.9,1373.7 237.9,1373.7 238.9,1373.6 239.9,1373.5 240.9,1373.4 241.9,1373.3 242.9,1373.2 243.9,1373.2 244.9,1373.1 245.9,1373.0 246.9,1372.9 247.9,1372.8 248.9,1372.7 249.9,1372.6 250.9,1372.5 251.9,1372.4 252.9,1372.2 253.9,1372.1 254.9,1372.0 255.9,1371.9 256.9,1371.8 257.9,1371.7 258.9,1371.6 259.9,1371.4 260.9,1371.3 261.9,1371.2 262.9,1371.1 263.9,1370.9 264.9,1370.8 265.9,1370.7 266.9,1370.5 267.9,1370.4 268.9,1370.3 269.9,1370.1 270.9,1370.0 271.9,1369.8 272.9,1369.7 273.9,1369.5 274.9,1369.4 275.9,1369.2 276.9,1369.1 277.9,1368.9 278.9,1368.8 279.9,1368.6 280.9,1368.4 281.9,1368.3 282.9,1368.1 283.9,1368.0 284.9,1367.8 285.9,1367.6 286.9,1367.4 287.9,1367.3 288.9,1367.1 289.9,1366.9 290.9,1366.7 291.9,1366.6 292.9,1366.4 293.9,1366.2 294.9,1366.0 295.9,1365.8 296.9,1365.6 297.9,1365.4 298.9,1365.2 299.9,1365.0 300.9,1364.8 301.9,1364.6 302.9,1364.4 303.9,1364.2 304.9,1364.0 305.9,1363.8 306.9,1363.6 307.9,1363.4 308.9,1363.2 309.9,1363.0 310.9,1362.8 311.9,1362.5 312.9,1362.3 313.9,1362.1 314.9,1361.9 315.9,1361.6 316.9,1361.4 317.9,1361.2 318.9,1361.0 319.9,1360.7 320.9,1360.5 321.9,1360.3 322.9,1360.0 323.9,1359.8 324.9,1359.5 325.9,1359.3 326.9,1359.0 327.9,1358.8 328.9,1358.5 329.9,1358.3 330.9,1358.0 331.9,1357.8 332.9,1357.5 333.9,1357.3 334.9,1357.0 335.9,1356.7 336.9,1356.5 337.9,1356.2 338.9,1355.9 339.9,1355.7 340.9,1355.4 341.9,1355.1 342.9,1354.9 343.9,1354.6 344.9,1354.3 345.9,1354.0 346.9,1353.7 347.9,1353.4 348.9,1353.2 349.9,1352.9 350.9,1352.6 351.9,1352.3 352.9,1352.0 353.9,1351.7 354.9,1351.4 355.9,1351.1 356.9,1350.8 357.9,1350.5 358.9,1350.2 359.9,1349.9 360.9,1349.6 361.9,1349.3 362.9,1348.9 363.9,1348.6 364.9,1348.3 365.9,1348.0 366.9,1347.7 367.9,1347.4 368.9,1347.0 369.9,1346.7 370.9,1346.4 371.9,1346.1 372.9,1345.7 373.9,1345.4 374.9,1345.1 375.9,1344.7 376.9,1344.4 377.9,1344.0 378.9,1343.7 379.9,1343.4 380.9,1343.0 381.9,1342.7 382.9,1342.3 383.9,1342.0 384.9,1341.6 385.9,1341.3 386.9,1340.9 387.9,1340.5 388.9,1340.2 389.9,1339.8 390.9,1339.4 391.9,1339.1 392.9,1338.7 393.9,1338.3 394.9,1338.0 395.9,1337.6 396.9,1337.2 397.9,1336.8 398.9,1336.5 399.9,1336.1 400.9,1335.7 401.9,1335.3 402.9,1334.9 403.9,1334.5 404.9,1334.2 405.9,1333.8 406.9,1333.4 407.9,1333.0 408.9,1332.6 409.9,1332.2 410.9,1331.8 411.9,1331.4 412.9,1331.0 413.9,1330.6 414.9,1330.2 415.9,1329.7 416.9,1329.3 417.9,1328.9 418.9,1328.5 419.9,1328.1 420.9,1327.7 421.9,1327.2 422.9,1326.8 423.9,1326.4 424.9,1326.0 425.9,1325.5 426.9,1325.1 427.9,1324.7 428.9,1324.2 429.9,1323.8 430.9,1323.4 431.9,1322.9 432.9,1322.5 433.9,1322.1 434.9,1321.6 435.9,1321.2 436.9,1320.7 437.9,1320.3 438.9,1319.8 439.9,1319.4 440.9,1318.9 441.9,1318.4 442.9,1318.0 443.9,1317.5 444.9,1317.1 445.9,1316.6 446.9,1316.1 447.9,1315.7 448.9,1315.2 449.9,1314.7 450.9,1314.2 451.9,1313.8 452.9,1313.3 453.9,1312.8 454.9,1312.3 455.9,1311.8 456.9,1311.4 457.9,1310.9 458.9,1310.4 459.9,1309.9 460.9,1309.4 461.9,1308.9 462.9,1308.4 463.9,1307.9 464.9,1307.4 465.9,1306.9 466.9,1306.4 467.9,1305.9 468.9,1305.4 469.9,1304.9 470.9,1304.4 471.9,1303.9 472.9,1303.4 473.9,1302.9 474.9,1302.3 475.9,1301.8 476.9,1301.3 477.9,1300.8 478.9,1300.2 479.9,1299.7 480.9,1299.2 481.9,1298.7 482.9,1298.1 483.9,1297.6 484.9,1297.1 485.9,1296.5 486.9,1296.0 487.9,1295.5 488.9,1294.9 489.9,1294.4 490.9,1293.8 491.9,1293.3 492.9,1292.7 493.9,1292.2 494.9,1291.6 495.9,1291.1 496.9,1290.5 497.9,1290.0 498.9,1289.4 499.9,1288.8 500.9,1288.3 501.9,1287.7 502.9,1287.1 503.9,1286.6 504.9,1286.0 505.9,1285.4 506.9,1284.9 507.9,1284.3 508.9,1283.7 509.9,1283.1 510.9,1282.6 511.9,1282.0 512.9,1281.4 513.9,1280.8 514.9,1280.2 515.9,1279.6 516.9,1279.0 517.9,1278.5 518.9,1277.9 519.9,1277.3 520.9,1276.7 521.9,1276.1 522.9,1275.5 523.9,1274.9 524.9,1274.3 525.9,1273.7 526.9,1273.0 527.9,1272.4 528.9,1271.8 529.9,1271.2 530.9,1270.6 531.9,1270.0 532.9,1269.4 533.9,1268.7 534.9,1268.1 535.9,1267.5 536.9,1266.9 537.9,1266.3 538.9,1265.6 539.9,1265.0 540.9,1264.4 541.9,1263.7 542.9,1263.1 543.9,1262.5 544.9,1261.8 545.9,1261.2 546.9,1260.5 547.9,1259.9 548.9,1259.3 549.9,1258.6 550.9,1258.0 551.9,1257.3 552.9,1256.7 553.9,1256.0 554.9,1255.4 555.9,1254.7 556.9,1254.0 557.9,1253.4 558.9,1252.7 559.9,1252.1 560.9,1251.4 561.9,1250.7 562.9,1250.1 563.9,1249.4 564.9,1248.7 565.9,1248.1 566.9,1247.4 567.9,1246.7 568.9,1246.0 569.9,1245.4 570.9,1244.7 571.9,1244.0 572.9,1243.3 573.9,1242.6 574.9,1241.9 575.9,1241.3 576.9,1240.6 577.9,1239.9 578.9,1239.2 579.9,1238.5 580.9,1237.8 581.9,1237.1 582.9,1236.4 583.9,1235.7 584.9,1235.0 585.9,1234.3 586.9,1233.6 587.9,1232.9 588.9,1232.2 589.9,1231.5 590.9,1230.7 591.9,1230.0 592.9,1229.3 593.9,1228.6 594.9,1227.9 595.9,1227.2 596.9,1226.4 597.9,1225.7 598.9,1225.0 599.9,1224.3 600.9,1223.5 601.9,1222.8 602.9,1222.1 603.9,1221.3 604.9,1220.6 605.9,1219.9 606.9,1219.1 607.9,1218.4 608.9,1217.7 609.9,1216.9 610.9,1216.2 611.9,1215.4 612.9,1214.7 613.9,1213.9 614.9,1213.2 615.9,1212.5 616.9,1211.7 617.9,1210.9 618.9,1210.2 619.9,1209.4 620.9,1208.7 621.9,1207.9 622.9,1207.2 623.9,1206.4 624.9,1205.6 625.9,1204.9 626.9,1204.1 627.9,1203.3 628.9,1202.6 629.9,1201.8 630.9,1201.0 631.9,1200.3 632.9,1199.5 633.9,1198.7 634.9,1197.9 635.9,1197.2 636.9,1196.4 637.9,1195.6 638.9,1194.8 639.9,1194.0 640.9,1193.2 641.9,1192.4 642.9,1191.7 643.9,1190.9 644.9,1190.1 645.9,1189.3 646.9,1188.5 647.9,1187.7 648.9,1186.9 649.9,1186.1 650.9,1185.3 651.9,1184.5 652.9,1183.7 653.9,1182.9 654.9,1182.1 655.9,1181.3 656.9,1180.5 657.9,1179.7 658.9,1178.9 659.9,1178.0 660.9,1177.2 661.9,1176.4 662.9,1175.6 663.9,1174.8 664.9,1174.0 665.9,1173.1 666.9,1172.3 667.9,1171.5 668.9,1170.7 669.9,1169.8 670.9,1169.0 671.9,1168.2 672.9,1167.4 673.9,1166.5 674.9,1165.7 675.9,1164.9 676.9,1164.0 677.9,1163.2 678.9,1162.4 679.9,1161.5 680.9,1160.7 681.9,1159.8 682.9,1159.0 683.9,1158.2 684.9,1157.3 685.9,1156.5 686.9,1155.6 687.9,1154.8 688.9,1153.9 689.9,1153.1 690.9,1152.2 691.9,1151.4 692.9,1150.5 693.9,1149.7 694.9,1148.8 695.9,1147.9 696.9,1147.1 697.9,1146.2 698.9,1145.4 699.9,1144.5 700.9,1143.6 701.9,1142.8 702.9,1141.9 703.9,1141.0 704.9,1140.2 705.9,1139.3 706.9,1138.4 707.9,1137.6 708.9,1136.7 709.9,1135.8 710.9,1134.9 711.9,1134.1 712.9,1133.2 713.9,1132.3 714.9,1131.4 715.9,1130.5 716.9,1129.7 717.9,1128.8 718.9,1127.9 719.9,1127.0 720.9,1126.1 721.9,1125.2 722.9,1124.3 723.9,1123.4 724.9,1122.5 725.9,1121.7 726.9,1120.8 727.9,1119.9 728.9,1119.0 729.9,1118.1 730.9,1117.2 731.9,1116.3 732.9,1115.4 733.9,1114.5 734.9,1113.6 735.9,1112.7 736.9,1111.8 737.9,1110.9 738.9,1110.0 739.9,1109.0 740.9,1108.1 741.9,1107.2 742.9,1106.3 743.9,1105.4 744.9,1104.5 745.9,1103.6 746.9,1102.7 747.9,1101.8 748.9,1100.8 749.9,1099.9 750.9,1099.0 751.9,1098.1 752.9,1097.2 753.9,1096.2 754.9,1095.3 755.9,1094.4 756.9,1093.5 757.9,1092.5 758.9,1091.6 759.9,1090.7 760.9,1089.8 761.9,1088.8 762.9,1087.9 763.9,1087.0 764.9,1086.0 765.9,1085.1 766.9,1084.2 767.9,1083.2 768.9,1082.3 769.9,1081.4 770.9,1080.4 771.9,1079.5 772.9,1078.6 773.9,1077.6 774.9,1076.7 775.9,1075.7 776.9,1074.8 777.9,1073.8 778.9,1072.9 779.9,1072.0 780.9,1071.0 781.9,1070.1 782.9,1069.1 783.9,1068.2 784.9,1067.2 785.9,1066.3 786.9,1065.3 787.9,1064.4 788.9,1063.4 789.9,1062.5 790.9,1061.5 791.9,1060.6 792.9,1059.6 793.9,1058.6 794.9,1057.7 795.9,1056.7 796.9,1055.8 797.9,1054.8 798.9,1053.8 799.9,1052.9 800.9,1051.9 801.9,1051.0 802.9,1050.0 803.9,1049.0 804.9,1048.1 805.9,1047.1 806.9,1046.1 807.9,1045.2 808.9,1044.2 809.9,1043.2 810.9,1042.3 811.9,1041.3 812.9,1040.3 813.9,1039.4 814.9,1038.4 815.9,1037.4 816.9,1036.4 817.9,1035.5 818.9,1034.5 819.9,1033.5 820.9,1032.5 821.9,1031.6 822.9,1030.6 823.9,1029.6 824.9,1028.6 825.9,1027.7 826.9,1026.7 827.9,1025.7 828.9,1024.7 829.9,1023.7 830.9,1022.8 831.9,1021.8 832.9,1020.8 833.9,1019.8 834.9,1018.8 835.9,1017.8 836.9,1016.9 837.9,1015.9 838.9,1014.9 839.9,1013.9 840.9,1012.9 841.9,1011.9 842.9,1010.9 843.9,1009.9 844.9,1009.0 845.9,1008.0 846.9,1007.0 848.2,1005.7" stroke="#007a00"/>
<polyline points="133.9,1375.2 134.9,1375.2 135.9,1375.2 136.9,1375.2 137.9,1375.2 138.9,1375.2 139.9,1375.2 140.9,1375.2 141.9,1375.2 142.9,1375.2 143.9,1375.2 144.9,1375.2 145.9,1375.2 146.9,1375.2 147.9,1375.2 148.9,1375.2 149.9,1375.2 150.9,1375.2 151.9,1375.2 152.9,1375.2 153.9,1375.2 154.9,1375.2 155.9,1375.2 156.9,1375.2 157.9,1375.2 158.9,1375.2 159.9,1375.2 160.9,1375.2 161.9,1375.2 162.9,1375.2 163.9,1375.2 164.9,1375.2 165.9,1375.2 166.9,1375.2 167.9,1375.2 168.9,1375.2 169.9,1375.2 170.9,1375.2 171.9,1375.2 172.9,1375.2 173.9,1375.2 174.9,1375.2 175.9,1375.2 176.9,1375.2 177.9,1375.2 178.9,1375.2 179.9,1375.2 180.9,1375.2 181.9,1375.2 182.9,1375.2 183.9,1375.2 184.9,1375.2 185.9,1375.2 186.9,1375.2 187.9,1375.2 188.9,1375.2 189.9,1375.2 190.9,1375.2 191.9,1375.2 192.9,1375.2 193.9,1375.2 194.9,1375.2 195.9,1375.2 196.9,1375.2 197.9,1375.2 198.9,1375.2 199.9,1375.2 200.9,1375.2 201.9,1375.2 202.9,1375.2 203.9,1375.2 204.9,1375.2 205.9,1375.2 206.9,1375.2 207.9,1375.2 208.9,1375.2 209.9,1375.2 210.9,1375.2 211.9,1375.2 212.9,1375.2 213.9,1375.2 214.9,1375.1 215.9,1375.1 216.9,1375.1 217.9,1375.1 218.9,1375.0 219.9,1375.0 220.9,1374.9 221.9,1374.9 222.9,1374.8 223.9,1374.8 224.9,1374.7 225.9,1374.7 226.9,1374.6 227.9,1374.6 228.9,1374.5 229.9,1374.4 230.9,1374.3 231.9,1374.3 232.9,1374.2 233.9,1374.1 234.9,1374.0 235.9,1373.9 236.9,1373.8 237.9,1373.8 238.9,1373.7 239.9,1373.6 240.9,1373.5 241.9,1373.4 242.9,1373.2 243.9,1373.1 244.9,1373.0 245.9,1372.9 246.9,1372.8 247.9,1372.7 248.9,1372.5 249.9,1372.4 250.9,1372.3 251.9,1372.2 252.9,1372.0 253.9,1371.9 254.9,1371.7 255.9,1371.6 256.9,1371.5 257.9,1371.3 258.9,1371.2 259.9,1371.0 260.9,1370.9 261.9,1370.7 262.9,1370.5 263.9,1370.4 264.9,1370.2 265.9,1370.0 266.9,1369.9 267.9,1369.7 268.9,1369.5 269.9,1369.4 270.9,1369.2 271.9,1369.0 272.9,1368.8 273.9,1368.6 274.9,1368.4 275.9,1368.2 276.9,1368.0 277.9,1367.9 278.9,1367.7 279.9,1367.4 280.9,1367.2 281.9,1367.0 282.9,1366.8 283.9,1366.6 284.9,1366.4 285.9,1366.2 286.9,1366.0 287.9,1365.8 288.9,1365.5 289.9,1365.3 290.9,1365.1 291.9,1364.8 292.9,1364.6 293.9,1364.4 294.9,1364.1 295.9,1363.9 296.9,1363.7 297.9,1363.4 298.9,1363.2 299.9,1362.9 300.9,1362.7 301.9,1362.4 302.9,1362.2 303.9,1361.9 304.9,1361.6 305.9,1361.4 306.9,1361.1 307.9,1360.8 308.9,1360.6 309.9,1360.3 310.9,1360.0 311.9,1359.8 312.9,1359.5 313.9,1359.2 314.9,1358.9 315.9,1358.6 316.9,1358.3 317.9,1358.0 318.9,1357.7 319.9,1357.5 320.9,1357.2 321.9,1356.9 322.9,1356.6 323.9,1356.3 324.9,1355.9 325.9,1355.6 326.9,1355.3 327.9,1355.0 328.9,1354.7 329.9,1354.4 330.9,1354.1 331.9,1353.7 332.9,1353.4 333.9,1353.1 334.9,1352.8 335.9,1352.4 336.9,1352.1 337.9,1351.8 338.9,1351.4 339.9,1351.1 340.9,1350.7 341.9,1350.4 342.9,1350.0 343.9,1349.7 344.9,1349.3 345.9,1349.0 346.9,1348.6 347.9,1348.3 348.9,1347.9 349.9,1347.6 350.9,1347.2 351.9,1346.8 352.9,1346.5 353.9,1346.1 354.9,1345.7 355.9,1345.3 356.9,1345.0 357.9,1344.6 358.9,1344.2 359.9,1343.8 360.9,1343.4 361.9,1343.0 362.9,1342.6 363.9,1342.3 364.9,1341.9 365.9,1341.5 366.9,1341.1 367.9,1340.7 368.9,1340.3 369.9,1339.8 370.9,1339.4 371.9,1339.0 372.9,1338.6 373.9,1338.2 374.9,1337.8 375.9,1337.4 376.9,1336.9 377.9,1336.5 378.9,1336.1 379.9,1335.7 380.9,1335.2 381.9,1334.8 382.9,1334.4 383.9,1333.9 384.9,1333.5 385.9,1333.1 386.9,1332.6 387.9,1332.2 388.9,1331.7 389.9,1331.3 390.9,1330.8 391.9,1330.4 392.9,1329.9 393.9,1329.4 394.9,1329.0 395.9,1328.5 396.9,1328.1 397.9,1327.6 398.9,1327.1 399.9,1326.7 400.9,1326.2 401.9,1325.7 402.9,1325.2 403.9,1324.7 404.9,1324.3 405.9,1323.8 406.9,1323.3 407.9,1322.8 408.9,1322.3 409.9,1321.8 410.9,1321.3 411.9,1320.8 412.9,1320.3 413.9,1319.8 414.9,1319.3 415.9,1318.8 416.9,1318.3 417.9,1317.8 418.9,1317.3 419.9,1316.8 420.9,1316.3 421.9,1315.8 422.9,1315.2 423.9,1314.7 424.9,1314.2 425.9,1313.7 426.9,1313.1 427.9,1312.6 428.9,1312.1 429.9,1311.5 430.9,1311.0 431.9,1310.5 432.9,1309.9 433.9,1309.4 434.9,1308.8 435.9,1308.3 436.9,1307.7 437.9,1307.2 438.9,1306.6 439.9,1306.1 440.9,1305.5 441.9,1305.0 442.9,1304.4 443.9,1303.8 444.9,1303.3 445.9,1302.7 446.9,1302.1 447.9,1301.6 448.9,1301.0 449.9,1300.4 450.9,1299.8 451.9,1299.3 452.9,1298.7 453.9,1298.1 454.9,1297.5 455.9,1296.9 456.9,1296.3 457.9,1295.7 458.9,1295.1 459.9,1294.5 460.9,1293.9 461.9,1293.3 462.9,1292.7 463.9,1292.1 464.9,1291.5 465.9,1290.9 466.9,1290.3 467.9,1289.7 468.9,1289.1 469.9,1288.5 470.9,1287.8 471.9,1287.2 472.9,1286.6 473.9,1286.0 474.9,1285.3 475.9,1284.7 476.9,1284.1 477.9,1283.5 478.9,1282.8 479.9,1282.2 480.9,1281.5 481.9,1280.9 482.9,1280.3 483.9,1279.6 484.9,1279.0 485.9,1278.3 486.9,1277.7 487.9,1277.0 488.9,1276.4 489.9,1275.7 490.9,1275.0 491.9,1274.4 492.9,1273.7 493.9,1273.0 494.9,1272.4 495.9,1271.7 496.9,1271.0 497.9,1270.4 498.9,1269.7 499.9,1269.0 500.9,1268.3 501.9,1267.6 502.9,1267.0 503.9,1266.3 504.9,1265.6 505.9,1264.9 506.9,1264.2 507.9,1263.5 508.9,1262.8 509.9,1262.1 510.9,1261.4 511.9,1260.7 512.9,1260.0 513.9,1259.3 514.9,1258.6 515.9,1257.9 516.9,1257.2 517.9,1256.5 518.9,1255.7 519.9,1255.0 520.9,1254.3 521.9,1253.6 522.9,1252.9 523.9,1252.1 524.9,1251.4 525.9,1250.7 526.9,1249.9 527.9,1249.2 528.9,1248.5 529.9,1247.7 530.9,1247.0 531.9,1246.2 532.9,1245.5 533.9,1244.8 534.9,1244.0 535.9,1243.3 536.9,1242.5 537.9,1241.8 538.9,1241.0 539.9,1240.2 540.9,1239.5 541.9,1238.7 542.9,1238.0 543.9,1237.2 544.9,1236.4 545.9,1235.7 546.9,1234.9 547.9,1234.1 548.9,1233.3 549.9,1232.6 550.9,1231.8 551.9,1231.0 552.9,1230.2 553.9,1229.4 554.9,1228.6 555.9,1227.9 556.9,1227.1 557.9,1226.3 558.9,1225.5 559.9,1224.7 560.9,1223.9 561.9,1223.1 562.9,1222.3 563.9,1221.5 564.9,1220.7 565.9,1219.9 566.9,1219.0 567.9,1218.2 568.9,1217.4 569.9,1216.6 570.9,1215.8 571.9,1215.0 572.9,1214.1 573.9,1213.3 574.9,1212.5 575.9,1211.7 576.9,1210.8 577.9,1210.0 578.9,1209.2 579.9,1208.3 580.9,1207.5 581.9,1206.7 582.9,1205.8 583.9,1205.0 584.9,1204.1 585.9,1203.3 586.9,1202.4 587.9,1201.6 588.9,1200.7 589.9,1199.9 590.9,1199.0 591.9,1198.2 592.9,1197.3 593.9,1196.4 594.9,1195.6 595.9,1194.7 596.9,1193.8 597.9,1193.0 598.9,1192.1 599.9,1191.2 600.9,1190.4 601.9,1189.5 602.9,1188.6 603.9,1187.7 604.9,1186.8 605.9,1185.9 606.9,1185.1 607.9,1184.2 608.9,1183.3 609.9,1182.4 610.9,1181.5 611.9,1180.6 612.9,1179.7 613.9,1178.8 614.9,1177.9 615.9,1177.0 616.9,1176.1 617.9,1175.2 618.9,1174.3 619.9,1173.4 620.9,1172.5 621.9,1171.5 622.9,1170.6 623.9,1169.7 624.9,1168.8 625.9,1167.9 626.9,1166.9 627.9,1166.0 628.9,1165.1 629.9,1164.2 630.9,1163.2 631.9,1162.3 632.9,1161.4 633.9,1160.4 634.9,1159.5 635.9,1158.5 636.9,1157.6 637.9,1156.7 638.9,1155.7 639.9,1154.8 640.9,1153.8 641.9,1152.9 642.9,1151.9 643.9,1151.0 644.9,1150.0 645.9,1149.0 646.9,1148.1 647.9,1147.1 648.9,1146.2 649.9,1145.2 650.9,1144.2 651.9,1143.2 652.9,1142.3 653.9,1141.3 654.9,1140.3 655.9,1139.4 656.9,1138.4 657.9,1137.4 658.9,1136.4 659.9,1135.4 660.9,1134.4 661.9,1133.5 662.9,1132.5 663.9,1131.5 664.9,1130.5 665.9,1129.5 666.9,1128.5 667.9,1127.5 668.9,1126.5 669.9,1125.5 670.9,1124.5 671.9,1123.5 672.9,1122.5 673.9,1121.5 674.9,1120.4 675.9,1119.4 676.9,1118.4 677.9,1117.4 678.9,1116.4 679.9,1115.4 680.9,1114.3 681.9,1113.3 682.9,1112.3 683.9,1111.3 684.9,1110.2 685.9,1109.2 686.9,1108.2 687.9,1107.1 688.9,1106.1 689.9,1105.1 690.9,1104.0 691.9,1103.0 692.9,1102.0 693.9,1100.9 694.9,1099.9 695.9,1098.8 696.9,1097.8 697.9,1096.7 698.9,1095.7 699.9,1094.6 700.9,1093.5 701.9,1092.5 702.9,1091.4 703.9,1090.4 704.9,1089.3 705.9,1088.2 706.9,1087.2 707.9,1086.1 708.9,1085.0 709.9,1084.0 710.9,1082.9 711.9,1081.8 712.9,1080.7 713.9,1079.7 714.9,1078.6 715.9,1077.5 716.9,1076.4 717.9,1075.3 718.9,1074.2 719.9,1073.1 720.9,1072.1 721.9,1071.0 722.9,1069.9 723.9,1068.8 724.9,1067.7 725.9,1066.6 726.9,1065.5 727.9,1064.4 728.9,1063.3 729.9,1062.2 730.9,1061.0 731.9,1059.9 732.9,1058.8 733.9,1057.7 734.9,1056.6 735.9,1055.5 736.9,1054.4 737.9,1053.2 738.9,1052.1 739.9,1051.0 740.9,1049.9 741.9,1048.8 742.9,1047.6 743.9,1046.5 744.9,1045.4 745.9,1044.2 746.9,1043.1 747.9,1042.0 748.9,1040.8 749.9,1039.7 750.9,1038.5 751.9,1037.4 752.9,1036.3 753.9,1035.1 754.9,1034.0 755.9,1032.8 756.9,1031.7 757.9,1030.5 758.9,1029.4 759.9,1028.2 760.9,1027.0 761.9,1025.9 762.9,1024.7 763.9,1023.6 764.9,1022.4 765.9,1021.2 766.9,1020.1 767.9,1018.9 768.9,1017.7 769.9,1016.5 770.9,1015.4 771.9,1014.2 772.9,1013.0 773.9,1011.8 774.9,1010.7 775.9,1009.5 776.9,1008.3 777.9,1007.1 778.9,1005.9 779.9,1004.7 780.9,1003.5 781.9,1002.4 782.9,1001.2 783.9,1000.0 784.9,998.8 785.9,997.6 786.9,996.4 787.9,995.2 788.9,994.0 789.9,992.8 790.9,991.6 791.9,990.4 792.9,989.1 793.9,987.9 794.9,986.7 795.9,985.5 796.9,984.3 797.9,983.1 798.9,981.9 799.9,980.6 800.9,979.4 801.9,978.2 802.9,977.0 803.9,975.7 804.9,974.5 805.9,973.3 806.9,972.1 807.9,970.8 808.9,969.6 809.9,968.4 810.9,967.1 811.9,965.9 812.9,964.6 813.9,963.4 814.9,962.2 815.9,960.9 816.9,959.7 817.9,958.4 818.9,957.2 819.9,955.9 820.9,954.7 821.9,953.4 822.9,952.2 823.9,950.9 824.9,949.6 825.9,948.4 826.9,947.1 827.9,945.9 828.9,944.6 829.9,943.3 830.9,942.1 831.9,940.8 832.9,939.5 833.9,938.3 834.9,937.0 835.9,935.7 836.9,934.4 837.9,933.2 838.9,931.9 839.9,930.6 840.9,929.3 841.9,928.0 842.9,926.7 843.9,925.5 844.9,924.2 845.9,922.9 846.9,921.6 848.2,919.9" stroke="#87260a"/>
<polyline points="133.9,1375.2 134.9,1375.2 135.9,1375.2 136.9,1375.2 137.9,1375.2 138.9,1375.2 139.9,1375.2 140.9,1375.2 141.9,1375.2 142.9,1375.2 143.9,1375.2 144.9,1375.2 145.9,1375.2 146.9,1375.2 147.9,1375.2 148.9,1375.2 149.9,1375.2 150.9,1375.2 151.9,1375.2 152.9,1375.2 153.9,1375.2 154.9,1375.2 155.9,1375.2 156.9,1375.2 157.9,1375.2 158.9,1375.2 159.9,1375.2 160.9,1375.2 161.9,1375.2 162.9,1375.2 163.9,1375.2 164.9,1375.2 165.9,1375.2 166.9,1375.2 167.9,1375.2 168.9,1375.2 169.9,1375.2 170.9,1375.2 171.9,1375.2 172.9,1375.2 173.9,1375.2 174.9,1375.2 175.9,1375.2 176.9,1375.2 177.9,1375.2 178.9,1375.2 179.9,1375.2 180.9,1375.2 181.9,1375.2 182.9,1375.2 183.9,1375.2 184.9,1375.2 185.9,1375.2 186.9,1375.2 187.9,1375.2 188.9,1375.2 189.9,1375.2 190.9,1375.2 191.9,1375.2 192.9,1375.2 193.9,1375.2 194.9,1375.2 195.9,1375.2 196.9,1375.2 197.9,1375.2 198.9,1375.2 199.9,1375.2 200.9,1375.2 201.9,1375.2 202.9,1375.2 203.9,1375.2 204.9,1375.2 205.9,1375.2 206.9,1375.2 207.9,1375.2 208.9,1375.2 209.9,1375.2 210.9,1375.2 211.9,1375.2 212.9,1375.2 213.9,1375.2 214.9,1375.2 215.9,1375.2 216.9,1375.2 217.9,1375.2 218.9,1375.1 219.9,1375.1 220.9,1375.1 221.9,1375.0 222.9,1375.0 223.9,1375.0 224.9,1374.9 225.9,1374.9 226.9,1374.8 227.9,1374.7 228.9,1374.7 229.9,1374.6 230.9,1374.5 231.9,1374.5 232.9,1374.4 233.9,1374.3 234.9,1374.2 235.9,1374.1 236.9,1374.0 237.9,1373.9" stroke="#e02020"/>
<polyline points="237.9,1373.9 238.9,1373.8 239.9,1373.7 240.9,1373.6 241.9,1373.5 242.9,1373.3 243.9,1373.2 244.9,1373.1 245.9,1373.0 246.9,1372.8 247.9,1372.7 248.9,1372.6 249.9,1372.4 250.9,1372.3 251.9,1372.1 252.9,1372.0 253.9,1371.8 254.9,1371.7 255.9,1371.5 256.9,1371.3 257.9,1371.2 258.9,1371.0 259.9,1370.8 260.9,1370.6 261.9,1370.5 262.9,1370.3 263.9,1370.1 264.9,1369.9 265.9,1369.7 266.9,1369.5 267.9,1369.3 268.9,1369.1 269.9,1368.9 270.9,1368.7 271.9,1368.5 272.9,1368.2 273.9,1368.0 274.9,1367.8 275.9,1367.6 276.9,1367.3 277.9,1367.1 278.9,1366.9 279.9,1366.6 280.9,1366.4 281.9,1366.1 282.9,1365.9 283.9,1365.6 284.9,1365.4 285.9,1365.1 286.9,1364.9 287.9,1364.6 288.9,1364.3 289.9,1364.1 290.9,1363.8 291.9,1363.5 292.9,1363.2 293.9,1363.0 294.9,1362.7 295.9,1362.4 296.9,1362.1 297.9,1361.8 298.9,1361.5 299.9,1361.2 300.9,1360.9 301.9,1360.6 302.9,1360.3 303.9,1360.0 304.9,1359.6 305.9,1359.3 306.9,1359.0 307.9,1358.7 308.9,1358.4 309.9,1358.0 310.9,1357.7 311.9,1357.4 312.9,1357.0 313.9,1356.7 314.9,1356.3 315.9,1356.0 316.9,1355.6 317.9,1355.3 318.9,1354.9 319.9,1354.6 320.9,1354.2 321.9,1353.8 322.9,1353.5 323.9,1353.1 324.9,1352.7 325.9,1352.3 326.9,1352.0 327.9,1351.6 328.9,1351.2 329.9,1350.8 330.9,1350.4 331.9,1350.0 332.9,1349.6 333.9,1349.2 334.9,1348.8 335.9,1348.4 336.9,1348.0 337.9,1347.6 338.9,1347.2 339.9,1346.7 340.9,1346.3 341.9,1345.9 342.9,1345.5 343.9,1345.0 344.9,1344.6 345.9,1344.2 346.9,1343.7 347.9,1343.3 348.9,1342.8 349.9,1342.4 350.9,1341.9 351.9,1341.5 352.9,1341.0 353.9,1340.6 354.9,1340.1 355.9,1339.6 356.9,1339.2 357.9,1338.7 358.9,1338.2 359.9,1337.8 360.9,1337.3 361.9,1336.8 362.9,1336.3 363.9,1335.8 364.9,1335.3 365.9,1334.8 366.9,1334.3 367.9,1333.8 368.9,1333.3 369.9,1332.8 370.9,1332.3 371.9,1331.8 372.9,1331.3 373.9,1330.8 374.9,1330.3 375.9,1329.8 376.9,1329.2 377.9,1328.7 378.9,1328.2 379.9,1327.6 380.9,1327.1 381.9,1326.6 382.9,1326.0 383.9,1325.5 384.9,1324.9 385.9,1324.4 386.9,1323.8 387.9,1323.3 388.9,1322.7 389.9,1322.2 390.9,1321.6 391.9,1321.0 392.9,1320.5 393.9,1319.9 394.9,1319.3 395.9,1318.7 396.9,1318.2 397.9,1317.6 398.9,1317.0 399.9,1316.4 400.9,1315.8 401.9,1315.2 402.9,1314.6 403.9,1314.0 404.9,1313.4 405.9,1312.8 406.9,1312.2 407.9,1311.6 408.9,1311.0 409.9,1310.4 410.9,1309.7 411.9,1309.1 412.9,1308.5 413.9,1307.9 414.9,1307.2 415.9,1306.6 416.9,1306.0 417.9,1305.3 418.9,1304.7 419.9,1304.1 420.9,1303.4 421.9,1302.8 422.9,1302.1 423.9,1301.5 424.9,1300.8 425.9,1300.1 426.9,1299.5 427.9,1298.8 428.9,1298.1 429.9,1297.5 430.9,1296.8 431.9,1296.1 432.9,1295.5 433.9,1294.8 434.9,1294.1 435.9,1293.4 436.9,1292.7 437.9,1292.0 438.9,1291.3 439.9,1290.6 440.9,1289.9 441.9,1289.2 442.9,1288.5 443.9,1287.8 444.9,1287.1 445.9,1286.4 446.9,1285.7 447.9,1285.0 448.9,1284.2 449.9,1283.5 450.9,1282.8 451.9,1282.1 452.9,1281.3 453.9,1280.6 454.9,1279.9 455.9,1279.1 456.9,1278.4 457.9,1277.6 458.9,1276.9 459.9,1276.1 460.9,1275.4 461.9,1274.6 462.9,1273.9 463.9,1273.1 464.9,1272.3 465.9,1271.6 466.9,1270.8 467.9,1270.0 468.9,1269.3 469.9,1268.5 470.9,1267.7 471.9,1266.9 472.9,1266.1 473.9,1265.3 474.9,1264.6 475.9,1263.8 476.9,1263.0 477.9,1262.2 478.9,1261.4 479.9,1260.6 480.9,1259.8 481.9,1259.0 482.9,1258.2 483.9,1257.3 484.9,1256.5 485.9,1255.7 486.9,1254.9 487.9,1254.1 488.9,1253.2 489.9,1252.4 490.9,1251.6 491.9,1250.7 492.9,1249.9 493.9,1249.1 494.9,1248.2 495.9,1247.4 496.9,1246.5 497.9,1245.7 498.9,1244.8 499.9,1244.0 500.9,1243.1 501.9,1242.3 502.9,1241.4 503.9,1240.5 504.9,1239.7 505.9,1238.8 506.9,1237.9 507.9,1237.1 508.9,1236.2 509.9,1235.3 510.9,1234.4 511.9,1233.5 512.9,1232.7 513.9,1231.8 514.9,1230.9 515.9,1230.0 516.9,1229.1 517.9,1228.2 518.9,1227.3 519.9,1226.4 520.9,1225.5 521.9,1224.6 522.9,1223.7 523.9,1222.7 524.9,1221.8 525.9,1220.9 526.9,1220.0 527.9,1219.1 528.9,1218.1 529.9,1217.2 530.9,1216.3 531.9,1215.3 532.9,1214.4 533.9,1213.5 534.9,1212.5 535.9,1211.6 536.9,1210.6 537.9,1209.7 538.9,1208.7 539.9,1207.8 540.9,1206.8 541.9,1205.9 542.9,1204.9 543.9,1204.0 544.9,1203.0 545.9,1202.0 546.9,1201.0 547.9,1200.1 548.9,1199.1 549.9,1198.1 550.9,1197.1 551.9,1196.2 552.9,1195.2 553.9,1194.2 554.9,1193.2 555.9,1192.2 556.9,1191.2 557.9,1190.2 558.9,1189.2 559.9,1188.2 560.9,1187.2 561.9,1186.2 562.9,1185.2 563.9,1184.2 564.9,1183.2 565.9,1182.2 566.9,1181.1 567.9,1180.1 568.9,1179.1 569.9,1178.1 570.9,1177.1 571.9,1176.0 572.9,1175.0 573.9,1174.0 574.9,1172.9 575.9,1171.9 576.9,1170.8 577.9,1169.8 578.9,1168.8 579.9,1167.7 580.9,1166.7 581.9,1165.6 582.9,1164.6 583.9,1163.5 584.9,1162.4 585.9,1161.4 586.9,1160.3 587.9,1159.2 588.9,1158.2 589.9,1157.1 590.9,1156.0 591.9,1155.0 592.9,1153.9 593.9,1152.8 594.9,1151.7 595.9,1150.6 596.9,1149.5 597.9,1148.5 598.9,1147.4 599.9,1146.3 600.9,1145.2 601.9,1144.1 602.9,1143.0 603.9,1141.9 604.9,1140.8 605.9,1139.7 606.9,1138.6 607.9,1137.4 608.9,1136.3 609.9,1135.2 610.9,1134.1 611.9,1133.0 612.9,1131.9 613.9,1130.7 614.9,1129.6 615.9,1128.5 616.9,1127.4 617.9,1126.2 618.9,1125.1 619.9,1123.9 620.9,1122.8 621.9,1121.7 622.9,1120.5 623.9,1119.4 624.9,1118.2 625.9,1117.1 626.9,1115.9 627.9,1114.8 628.9,1113.6 629.9,1112.5 630.9,1111.3 631.9,1110.1 632.9,1109.0 633.9,1107.8 634.9,1106.6 635.9,1105.5 636.9,1104.3 637.9,1103.1 638.9,1101.9 639.9,1100.8 640.9,1099.6 641.9,1098.4 642.9,1097.2 643.9,1096.0 644.9,1094.8 645.9,1093.6 646.9,1092.4 647.9,1091.2 648.9,1090.0 649.9,1088.8 650.9,1087.6 651.9,1086.4 652.9,1085.2 653.9,1084.0 654.9,1082.8 655.9,1081.6 656.9,1080.4 657.9,1079.2 658.9,1077.9 659.9,1076.7 660.9,1075.5 661.9,1074.3 662.9,1073.0 663.9,1071.8 664.9,1070.6 665.9,1069.4 666.9,1068.1 667.9,1066.9 668.9,1065.6 669.9,1064.4 670.9,1063.2 671.9,1061.9 672.9,1060.7 673.9,1059.4 674.9,1058.2 675.9,1056.9 676.9,1055.7 677.9,1054.4 678.9,1053.1 679.9,1051.9 680.9,1050.6 681.9,1049.4 682.9,1048.1 683.9,1046.8 684.9,1045.6 685.9,1044.3 686.9,1043.0 687.9,1041.7 688.9,1040.5 689.9,1039.2 690.9,1037.9 691.9,1036.6 692.9,1035.3 693.9,1034.0 694.9,1032.8 695.9,1031.5 696.9,1030.2 697.9,1028.9 698.9,1027.6 699.9,1026.3 700.9,1025.0 701.9,1023.7 702.9,1022.4 703.9,1021.1 704.9,1019.8 705.9,1018.5 706.9,1017.1 707.9,1015.8 708.9,1014.5 709.9,1013.2 710.9,1011.9 711.9,1010.6 712.9,1009.2 713.9,1007.9 714.9,1006.6 715.9,1005.3 716.9,1003.9 717.9,1002.6 718.9,1001.3 719.9,999.9 720.9,998.6 721.9,997.3 722.9,995.9 723.9,994.6 724.9,993.2 725.9,991.9 726.9,990.6 727.9,989.2 728.9,987.9 729.9,986.5 730.9,985.2 731.9,983.8 732.9,982.4 733.9,981.1 734.9,979.7 735.9,978.4 736.9,977.0 737.9,975.6 738.9,974.3 739.9,972.9 740.9,971.5 741.9,970.2 742.9,968.8 743.9,967.4 744.9,966.0 745.9,964.7 746.9,963.3 747.9,961.9 748.9,960.5 749.9,959.1 750.9,957.7 751.9,956.4 752.9,955.0 753.9,953.6 754.9,952.2 755.9,950.8 756.9,949.4 757.9,948.0 758.9,946.6 759.9,945.2 760.9,943.8 761.9,942.4 762.9,941.0 763.9,939.6 764.9,938.2 765.9,936.8 766.9,935.3 767.9,933.9 768.9,932.5 769.9,931.1 770.9,929.7 771.9,928.3 772.9,926.8 773.9,925.4 774.9,924.0 775.9,922.6 776.9,921.1 777.9,919.7 778.9,918.3 779.9,916.9 780.9,915.4 781.9,914.0 782.9,912.6 783.9,911.1 784.9,909.7 785.9,908.2 786.9,906.8 787.9,905.4 788.9,903.9 789.9,902.5 790.9,901.0 791.9,899.6 792.9,898.1 793.9,896.7 794.9,895.2 795.9,893.8 796.9,892.3 797.9,890.9 798.9,889.4 799.9,887.9 800.9,886.5 801.9,885.0 802.9,883.6 803.9,882.1 804.9,880.6 805.9,879.2 806.9,877.7 807.9,876.2 808.9,874.8 809.9,873.3 810.9,871.8 811.9,870.3 812.9,868.9 813.9,867.4 814.9,865.9 815.9,864.4 816.9,862.9 817.9,861.5 818.9,860.0 819.9,858.5 820.9,857.0 821.9,855.5 822.9,854.0 823.9,852.5 824.9,851.1 825.9,849.6 826.9,848.1 827.9,846.6 828.9,845.1 829.9,843.6 830.9,842.1 831.9,840.6 832.9,839.1 833.9,837.6 834.9,836.1 835.9,834.6 836.9,833.1 837.9,831.6 838.9,830.1 839.9,828.5 840.9,827.0 841.9,825.5 842.9,824.0 843.9,822.5 844.9,821.0 845.9,819.5 846.9,818.0 848.2,816.0" stroke="#ff0000" stroke-dasharray="9.5 7.15 0.01 8.29 0.01 7.15" stroke-linecap="round"/>
</g>
<text x="122.6" y="1384.4" text-anchor="end">0</text>
<text x="122.6" y="1339.7" text-anchor="end">0.002</text>
<text x="122.6" y="1294.9" text-anchor="end">0.004</text>
<text x="122.6" y="1250.2" text-anchor="end">0.006</text>
<text x="122.6" y="1205.4" text-anchor="end">0.008</text>
<text x="122.6" y="1160.7" text-anchor="end">0.01</text>
<text x="122.6" y="1115.9" text-anchor="end">0.012</text>
<text x="122.6" y="1071.2" text-anchor="end">0.014</text>
<text x="122.6" y="1026.4" text-anchor="end">0.016</text>
<text x="122.6" y="981.7" text-anchor="end">0.018</text>
<text x="122.6" y="936.9" text-anchor="end">0.02</text>
<text x="122.6" y="892.2" text-anchor="end">0.022</text>
<text x="122.6" y="847.4" text-anchor="end">0.024</text>
<text x="122.6" y="802.7" text-anchor="end">0.026</text>
<text x="228.2" y="1408.6" text-anchor="middle">2146</text>
<text x="322.5" y="1408.6" text-anchor="middle">2282</text>
<text x="416.8" y="1408.6" text-anchor="middle">2418</text>
<text x="511.1" y="1408.6" text-anchor="middle">2554</text>
<text x="605.4" y="1408.6" text-anchor="middle">2690</text>
<text x="699.7" y="1408.6" text-anchor="middle">2826</text>
<text x="794.0" y="1408.6" text-anchor="middle">2962</text>
<text transform="translate(32.2,1079.8) rotate(-90)" text-anchor="middle">Total CO2 in Layer 3, M tonnes</text>
<text x="488.7" y="1459" text-anchor="middle">Time</text>
<text x="326.2" y="1499" textLength="320.8" lengthAdjust="spacingAndGlyphs" font-size="31">(c) Caprock – layer 3</text>
<rect x="194.9" y="843.2" width="425.9" height="147.6" fill="#fff" fill-opacity="0.92" stroke="#dcdcdc" stroke-width="1.8"/>
<line x1="199.2" y1="861.9" x2="226.8" y2="861.9" stroke="#0000ff" stroke-width="3.4" stroke-linecap="round"/>
<text x="240.5" y="872.1" font-size="29.1">Total CO2 5500psi Layer 3</text>
<line x1="199.2" y1="898.5" x2="226.8" y2="898.5" stroke="#007a00" stroke-width="3.4" stroke-linecap="round"/>
<text x="240.5" y="908.7" font-size="29.1">Total CO2 7000psi Layer 3</text>
<line x1="199.2" y1="935.1" x2="226.8" y2="935.1" stroke="#87260a" stroke-width="3.4" stroke-linecap="round"/>
<text x="240.5" y="945.3" font-size="29.1">Total CO2 7500psi Layer 3</text>
<line x1="199.2" y1="971.7" x2="226.8" y2="971.7" stroke="#ff0000" stroke-width="3.4" stroke-linecap="round" stroke-dasharray="9.5 7.15 0.01 8.29 0.01 7.15"/>
<text x="240.5" y="981.9" font-size="29.1">Total CO2 8000psi Layer 3</text>
<path d="M1082.4,786.8 H1760.5 V1372.8" fill="none" stroke="#dedede" stroke-width="2.2"/>
<line x1="1081.8000000000002" y1="786.8" x2="1081.8000000000002" y2="1372.8" stroke="#8a8a8a" stroke-width="1.8"/>
<line x1="1078.4" y1="1372.8" x2="1760.5" y2="1372.8" stroke="#9c9c9c" stroke-width="2.4"/>
<path d="M1078.8000000000002,1372.8 H1082.4 M1079.2,1349.9 H1082.4 M1078.8000000000002,1327.0 H1082.4 M1079.2,1304.2 H1082.4 M1078.8000000000002,1281.3 H1082.4 M1079.2,1258.4 H1082.4 M1078.8000000000002,1235.5 H1082.4 M1079.2,1212.7 H1082.4 M1078.8000000000002,1189.8 H1082.4 M1079.2,1166.9 H1082.4 M1078.8000000000002,1144.0 H1082.4 M1079.2,1121.2 H1082.4 M1078.8000000000002,1098.3 H1082.4 M1079.2,1075.4 H1082.4 M1078.8000000000002,1052.5 H1082.4 M1079.2,1029.7 H1082.4 M1078.8000000000002,1006.8 H1082.4 M1079.2,983.9 H1082.4 M1078.8000000000002,961.0 H1082.4 M1079.2,938.2 H1082.4 M1078.8000000000002,915.3 H1082.4 M1079.2,892.4 H1082.4 M1078.8000000000002,869.5 H1082.4 M1079.2,846.7 H1082.4 M1078.8000000000002,823.8 H1082.4 M1079.2,800.9 H1082.4" stroke="#6e6e6e" stroke-width="1.6" fill="none"/>
<path d="M1171.3,1372.8 v3.6 M1260.9,1372.8 v3.6 M1350.5,1372.8 v3.6 M1440.1,1372.8 v3.6 M1529.7,1372.8 v3.6 M1619.3,1372.8 v3.6 M1708.9,1372.8 v3.6" stroke="#808080" stroke-width="1.8" fill="none"/>
<clipPath id="clip3"><rect x="1081.4" y="786.8" width="680.0999999999999" height="589.0"/></clipPath>
<g clip-path="url(#clip3)" fill="none" stroke-width="3.4" stroke-linejoin="round">
<polyline points="1082.4,1372.8 1083.4,1372.8 1084.4,1372.8 1085.4,1372.8 1086.4,1372.8 1087.4,1372.8 1088.4,1372.8 1089.4,1372.8 1090.4,1372.8 1091.4,1372.8 1092.4,1372.8 1093.4,1372.8 1094.4,1372.8 1095.4,1372.8 1096.4,1372.8 1097.4,1372.8 1098.4,1372.8 1099.4,1372.8 1100.4,1372.8 1101.4,1372.8 1102.4,1372.8 1103.4,1372.8 1104.4,1372.8 1105.4,1372.8 1106.4,1372.8 1107.4,1372.8 1108.4,1372.8 1109.4,1372.8 1110.4,1372.8 1111.4,1372.8 1112.4,1372.8 1113.4,1372.8 1114.4,1372.8 1115.4,1372.8 1116.4,1372.8 1117.4,1372.8 1118.4,1372.8 1119.4,1372.8 1120.4,1372.8 1121.4,1372.8 1122.4,1372.8 1123.4,1372.8 1124.4,1372.8 1125.4,1372.8 1126.4,1372.8 1127.4,1372.8 1128.4,1372.8 1129.4,1372.8 1130.4,1372.8 1131.4,1372.8 1132.4,1372.8 1133.4,1372.8 1134.4,1372.8 1135.4,1372.8 1136.4,1372.8 1137.4,1372.8 1138.4,1372.8 1139.4,1372.8 1140.4,1372.8 1141.4,1372.8 1142.4,1372.8 1143.4,1372.8 1144.4,1372.8 1145.4,1372.8 1146.4,1372.8 1147.4,1372.8 1148.4,1372.8 1149.4,1372.8 1150.4,1372.8 1151.4,1372.8 1152.4,1372.8 1153.4,1372.8 1154.4,1372.8 1155.4,1372.8 1156.4,1372.8 1157.4,1372.8 1158.4,1372.8 1159.4,1372.8 1160.4,1372.8 1161.4,1372.8 1162.4,1372.8 1163.4,1372.8 1164.4,1372.8 1165.4,1372.8 1166.4,1372.8 1167.4,1372.8 1168.4,1372.8 1169.4,1372.8 1170.4,1372.8 1171.4,1372.8 1172.4,1372.8 1173.4,1372.8 1174.4,1372.8 1175.4,1372.8 1176.4,1372.8 1177.4,1372.8 1178.4,1372.8 1179.4,1372.8 1180.4,1372.8 1181.4,1372.8 1182.4,1372.8 1183.4,1372.8 1184.4,1372.8 1185.4,1372.8 1186.4,1372.8 1187.4,1372.8 1188.4,1372.8 1189.4,1372.8 1190.4,1372.8 1191.4,1372.8 1192.4,1372.8 1193.4,1372.8 1194.4,1372.8 1195.4,1372.8 1196.4,1372.8 1197.4,1372.8 1198.4,1372.8 1199.4,1372.7 1200.4,1372.7 1201.4,1372.7 1202.4,1372.7 1203.4,1372.7 1204.4,1372.7 1205.4,1372.7 1206.4,1372.7 1207.4,1372.7 1208.4,1372.7 1209.4,1372.7 1210.4,1372.7 1211.4,1372.7 1212.4,1372.7 1213.4,1372.7 1214.4,1372.7 1215.4,1372.7 1216.4,1372.7 1217.4,1372.7 1218.4,1372.7 1219.4,1372.7 1220.4,1372.7 1221.4,1372.7 1222.4,1372.7 1223.4,1372.7 1224.4,1372.6 1225.4,1372.6 1226.4,1372.6 1227.4,1372.6 1228.4,1372.6 1229.4,1372.6 1230.4,1372.6 1231.4,1372.6 1232.4,1372.6 1233.4,1372.6 1234.4,1372.6 1235.4,1372.6 1236.4,1372.6 1237.4,1372.6 1238.4,1372.6 1239.4,1372.5 1240.4,1372.5 1241.4,1372.5 1242.4,1372.5 1243.4,1372.5 1244.4,1372.5 1245.4,1372.5 1246.4,1372.5 1247.4,1372.5 1248.4,1372.5 1249.4,1372.5 1250.4,1372.5 1251.4,1372.4 1252.4,1372.4 1253.4,1372.4 1254.4,1372.4 1255.4,1372.4 1256.4,1372.4 1257.4,1372.4 1258.4,1372.4 1259.4,1372.4 1260.4,1372.4 1261.4,1372.3 1262.4,1372.3 1263.4,1372.3 1264.4,1372.3 1265.4,1372.3 1266.4,1372.3 1267.4,1372.3 1268.4,1372.3 1269.4,1372.2 1270.4,1372.2 1271.4,1372.2 1272.4,1372.2 1273.4,1372.2 1274.4,1372.2 1275.4,1372.2 1276.4,1372.2 1277.4,1372.1 1278.4,1372.1 1279.4,1372.1 1280.4,1372.1 1281.4,1372.1 1282.4,1372.1 1283.4,1372.0 1284.4,1372.0 1285.4,1372.0 1286.4,1372.0 1287.4,1372.0 1288.4,1372.0 1289.4,1372.0 1290.4,1371.9 1291.4,1371.9 1292.4,1371.9 1293.4,1371.9 1294.4,1371.9 1295.4,1371.8 1296.4,1371.8 1297.4,1371.8 1298.4,1371.8 1299.4,1371.8 1300.4,1371.8 1301.4,1371.7 1302.4,1371.7 1303.4,1371.7 1304.4,1371.7 1305.4,1371.7 1306.4,1371.6 1307.4,1371.6 1308.4,1371.6 1309.4,1371.6 1310.4,1371.5 1311.4,1371.5 1312.4,1371.5 1313.4,1371.5 1314.4,1371.5 1315.4,1371.4 1316.4,1371.4 1317.4,1371.4 1318.4,1371.4 1319.4,1371.3 1320.4,1371.3 1321.4,1371.3 1322.4,1371.3 1323.4,1371.2 1324.4,1371.2 1325.4,1371.2 1326.4,1371.2 1327.4,1371.1 1328.4,1371.1 1329.4,1371.1 1330.4,1371.1 1331.4,1371.0 1332.4,1371.0 1333.4,1371.0 1334.4,1370.9 1335.4,1370.9 1336.4,1370.9 1337.4,1370.9 1338.4,1370.8 1339.4,1370.8 1340.4,1370.8 1341.4,1370.7 1342.4,1370.7 1343.4,1370.7 1344.4,1370.6 1345.4,1370.6 1346.4,1370.6 1347.4,1370.6 1348.4,1370.5 1349.4,1370.5 1350.4,1370.5 1351.4,1370.4 1352.4,1370.4 1353.4,1370.4 1354.4,1370.3 1355.4,1370.3 1356.4,1370.3 1357.4,1370.2 1358.4,1370.2 1359.4,1370.1 1360.4,1370.1 1361.4,1370.1 1362.4,1370.0 1363.4,1370.0 1364.4,1370.0 1365.4,1369.9 1366.4,1369.9 1367.4,1369.9 1368.4,1369.8 1369.4,1369.8 1370.4,1369.7 1371.4,1369.7 1372.4,1369.7 1373.4,1369.6 1374.4,1369.6 1375.4,1369.5 1376.4,1369.5 1377.4,1369.5 1378.4,1369.4 1379.4,1369.4 1380.4,1369.3 1381.4,1369.3 1382.4,1369.2 1383.4,1369.2 1384.4,1369.2 1385.4,1369.1 1386.4,1369.1 1387.4,1369.0 1388.4,1369.0 1389.4,1368.9 1390.4,1368.9 1391.4,1368.8 1392.4,1368.8 1393.4,1368.7 1394.4,1368.7 1395.4,1368.6 1396.4,1368.6 1397.4,1368.5 1398.4,1368.5 1399.4,1368.4 1400.4,1368.4 1401.4,1368.3 1402.4,1368.3 1403.4,1368.2 1404.4,1368.2 1405.4,1368.1 1406.4,1368.1 1407.4,1368.0 1408.4,1368.0 1409.4,1367.9 1410.4,1367.9 1411.4,1367.8 1412.4,1367.8 1413.4,1367.7 1414.4,1367.7 1415.4,1367.6 1416.4,1367.6 1417.4,1367.5 1418.4,1367.4 1419.4,1367.4 1420.4,1367.3 1421.4,1367.3 1422.4,1367.2 1423.4,1367.2 1424.4,1367.1 1425.4,1367.0 1426.4,1367.0 1427.4,1366.9 1428.4,1366.9 1429.4,1366.8 1430.4,1366.7 1431.4,1366.7 1432.4,1366.6 1433.4,1366.5 1434.4,1366.5 1435.4,1366.4 1436.4,1366.4 1437.4,1366.3 1438.4,1366.2 1439.4,1366.2 1440.4,1366.1 1441.4,1366.0 1442.4,1366.0 1443.4,1365.9 1444.4,1365.8 1445.4,1365.8 1446.4,1365.7 1447.4,1365.6 1448.4,1365.6 1449.4,1365.5 1450.4,1365.4 1451.4,1365.3 1452.4,1365.3 1453.4,1365.2 1454.4,1365.1 1455.4,1365.1 1456.4,1365.0 1457.4,1364.9 1458.4,1364.8 1459.4,1364.8 1460.4,1364.7 1461.4,1364.6 1462.4,1364.5 1463.4,1364.5 1464.4,1364.4 1465.4,1364.3 1466.4,1364.2 1467.4,1364.2 1468.4,1364.1 1469.4,1364.0 1470.4,1363.9 1471.4,1363.8 1472.4,1363.8 1473.4,1363.7 1474.4,1363.6 1475.4,1363.5 1476.4,1363.4 1477.4,1363.4 1478.4,1363.3 1479.4,1363.2 1480.4,1363.1 1481.4,1363.0 1482.4,1362.9 1483.4,1362.9 1484.4,1362.8 1485.4,1362.7 1486.4,1362.6 1487.4,1362.5 1488.4,1362.4 1489.4,1362.3 1490.4,1362.2 1491.4,1362.2 1492.4,1362.1 1493.4,1362.0 1494.4,1361.9 1495.4,1361.8 1496.4,1361.7 1497.4,1361.6 1498.4,1361.5 1499.4,1361.4 1500.4,1361.3 1501.4,1361.2 1502.4,1361.1 1503.4,1361.1 1504.4,1361.0 1505.4,1360.9 1506.4,1360.8 1507.4,1360.7 1508.4,1360.6 1509.4,1360.5 1510.4,1360.4 1511.4,1360.3 1512.4,1360.2 1513.4,1360.1 1514.4,1360.0 1515.4,1359.9 1516.4,1359.8 1517.4,1359.7 1518.4,1359.6 1519.4,1359.5 1520.4,1359.4 1521.4,1359.3 1522.4,1359.2 1523.4,1359.0 1524.4,1358.9 1525.4,1358.8 1526.4,1358.7 1527.4,1358.6 1528.4,1358.5 1529.4,1358.4 1530.4,1358.3 1531.4,1358.2 1532.4,1358.1 1533.4,1358.0 1534.4,1357.9 1535.4,1357.7 1536.4,1357.6 1537.4,1357.5 1538.4,1357.4 1539.4,1357.3 1540.4,1357.2 1541.4,1357.1 1542.4,1356.9 1543.4,1356.8 1544.4,1356.7 1545.4,1356.6 1546.4,1356.5 1547.4,1356.4 1548.4,1356.2 1549.4,1356.1 1550.4,1356.0 1551.4,1355.9 1552.4,1355.8 1553.4,1355.6 1554.4,1355.5 1555.4,1355.4 1556.4,1355.3 1557.4,1355.1 1558.4,1355.0 1559.4,1354.9 1560.4,1354.8 1561.4,1354.6 1562.4,1354.5 1563.4,1354.4 1564.4,1354.3 1565.4,1354.1 1566.4,1354.0 1567.4,1353.9 1568.4,1353.7 1569.4,1353.6 1570.4,1353.5 1571.4,1353.4 1572.4,1353.2 1573.4,1353.1 1574.4,1353.0 1575.4,1352.8 1576.4,1352.7 1577.4,1352.5 1578.4,1352.4 1579.4,1352.3 1580.4,1352.1 1581.4,1352.0 1582.4,1351.9 1583.4,1351.7 1584.4,1351.6 1585.4,1351.4 1586.4,1351.3 1587.4,1351.2 1588.4,1351.0 1589.4,1350.9 1590.4,1350.7 1591.4,1350.6 1592.4,1350.4 1593.4,1350.3 1594.4,1350.1 1595.4,1350.0 1596.4,1349.9 1597.4,1349.7 1598.4,1349.6 1599.4,1349.4 1600.4,1349.3 1601.4,1349.1 1602.4,1349.0 1603.4,1348.8 1604.4,1348.7 1605.4,1348.5 1606.4,1348.3 1607.4,1348.2 1608.4,1348.0 1609.4,1347.9 1610.4,1347.7 1611.4,1347.6 1612.4,1347.4 1613.4,1347.3 1614.4,1347.1 1615.4,1346.9 1616.4,1346.8 1617.4,1346.6 1618.4,1346.5 1619.4,1346.3 1620.4,1346.1 1621.4,1346.0 1622.4,1345.8 1623.4,1345.6 1624.4,1345.5 1625.4,1345.3 1626.4,1345.1 1627.4,1345.0 1628.4,1344.8 1629.4,1344.6 1630.4,1344.5 1631.4,1344.3 1632.4,1344.1 1633.4,1344.0 1634.4,1343.8 1635.4,1343.6 1636.4,1343.4 1637.4,1343.3 1638.4,1343.1 1639.4,1342.9 1640.4,1342.7 1641.4,1342.6 1642.4,1342.4 1643.4,1342.2 1644.4,1342.0 1645.4,1341.8 1646.4,1341.7 1647.4,1341.5 1648.4,1341.3 1649.4,1341.1 1650.4,1340.9 1651.4,1340.8 1652.4,1340.6 1653.4,1340.4 1654.4,1340.2 1655.4,1340.0 1656.4,1339.8 1657.4,1339.6 1658.4,1339.4 1659.4,1339.3 1660.4,1339.1 1661.4,1338.9 1662.4,1338.7 1663.4,1338.5 1664.4,1338.3 1665.4,1338.1 1666.4,1337.9 1667.4,1337.7 1668.4,1337.5 1669.4,1337.3 1670.4,1337.1 1671.4,1336.9 1672.4,1336.7 1673.4,1336.5 1674.4,1336.3 1675.4,1336.1 1676.4,1335.9 1677.4,1335.7 1678.4,1335.5 1679.4,1335.3 1680.4,1335.1 1681.4,1334.9 1682.4,1334.7 1683.4,1334.5 1684.4,1334.3 1685.4,1334.1 1686.4,1333.9 1687.4,1333.7 1688.4,1333.5 1689.4,1333.3 1690.4,1333.0 1691.4,1332.8 1692.4,1332.6 1693.4,1332.4 1694.4,1332.2 1695.4,1332.0 1696.4,1331.8 1697.4,1331.5 1698.4,1331.3 1699.4,1331.1 1700.4,1330.9 1701.4,1330.7 1702.4,1330.4 1703.4,1330.2 1704.4,1330.0 1705.4,1329.8 1706.4,1329.6 1707.4,1329.3 1708.4,1329.1 1709.4,1328.9 1710.4,1328.7 1711.4,1328.4 1712.4,1328.2 1713.4,1328.0 1714.4,1327.7 1715.4,1327.5 1716.4,1327.3 1717.4,1327.0 1718.4,1326.8 1719.4,1326.6 1720.4,1326.3 1721.4,1326.1 1722.4,1325.9 1723.4,1325.6 1724.4,1325.4 1725.4,1325.2 1726.4,1324.9 1727.4,1324.7 1728.4,1324.4 1729.4,1324.2 1730.4,1324.0 1731.4,1323.7 1732.4,1323.5 1733.4,1323.2 1734.4,1323.0 1735.4,1322.7 1736.4,1322.5 1737.4,1322.2 1738.4,1322.0 1739.4,1321.7 1740.4,1321.5 1741.4,1321.2 1742.4,1321.0 1743.4,1320.7 1744.4,1320.5 1745.4,1320.2 1746.4,1320.0 1747.4,1319.7 1748.4,1319.5 1749.4,1319.2 1750.4,1319.0 1751.4,1318.7 1752.4,1318.4 1753.4,1318.2 1754.4,1317.9 1755.4,1317.7 1756.4,1317.4 1757.4,1317.1 1758.4,1316.9 1759.4,1316.6 1760.5,1316.3" stroke="#0000ff"/>
<polyline points="1082.4,1372.8 1083.4,1372.8 1084.4,1372.8 1085.4,1372.8 1086.4,1372.8 1087.4,1372.8 1088.4,1372.8 1089.4,1372.8 1090.4,1372.8 1091.4,1372.8 1092.4,1372.8 1093.4,1372.8 1094.4,1372.8 1095.4,1372.8 1096.4,1372.8 1097.4,1372.8 1098.4,1372.8 1099.4,1372.8 1100.4,1372.8 1101.4,1372.8 1102.4,1372.8 1103.4,1372.8 1104.4,1372.8 1105.4,1372.8 1106.4,1372.8 1107.4,1372.8 1108.4,1372.8 1109.4,1372.8 1110.4,1372.8 1111.4,1372.8 1112.4,1372.8 1113.4,1372.8 1114.4,1372.8 1115.4,1372.8 1116.4,1372.8 1117.4,1372.8 1118.4,1372.8 1119.4,1372.8 1120.4,1372.8 1121.4,1372.8 1122.4,1372.8 1123.4,1372.8 1124.4,1372.8 1125.4,1372.8 1126.4,1372.8 1127.4,1372.8 1128.4,1372.8 1129.4,1372.8 1130.4,1372.8 1131.4,1372.8 1132.4,1372.8 1133.4,1372.8 1134.4,1372.8 1135.4,1372.8 1136.4,1372.8 1137.4,1372.8 1138.4,1372.8 1139.4,1372.8 1140.4,1372.8 1141.4,1372.8 1142.4,1372.8 1143.4,1372.8 1144.4,1372.8 1145.4,1372.8 1146.4,1372.8 1147.4,1372.8 1148.4,1372.8 1149.4,1372.8 1150.4,1372.8 1151.4,1372.8 1152.4,1372.8 1153.4,1372.8 1154.4,1372.8 1155.4,1372.8 1156.4,1372.8 1157.4,1372.8 1158.4,1372.8 1159.4,1372.8 1160.4,1372.8 1161.4,1372.8 1162.4,1372.8 1163.4,1372.8 1164.4,1372.8 1165.4,1372.8 1166.4,1372.8 1167.4,1372.8 1168.4,1372.8 1169.4,1372.8 1170.4,1372.8 1171.4,1372.8 1172.4,1372.8 1173.4,1372.8 1174.4,1372.8 1175.4,1372.8 1176.4,1372.8 1177.4,1372.8 1178.4,1372.8 1179.4,1372.8 1180.4,1372.8 1181.4,1372.8 1182.4,1372.8 1183.4,1372.8 1184.4,1372.8 1185.4,1372.8 1186.4,1372.8 1187.4,1372.8 1188.4,1372.8 1189.4,1372.8 1190.4,1372.8 1191.4,1372.8 1192.4,1372.8 1193.4,1372.8 1194.4,1372.8 1195.4,1372.8 1196.4,1372.8 1197.4,1372.8 1198.4,1372.8 1199.4,1372.7 1200.4,1372.7 1201.4,1372.7 1202.4,1372.7 1203.4,1372.7 1204.4,1372.7 1205.4,1372.7 1206.4,1372.6 1207.4,1372.6 1208.4,1372.6 1209.4,1372.6 1210.4,1372.6 1211.4,1372.5 1212.4,1372.5 1213.4,1372.5 1214.4,1372.5 1215.4,1372.4 1216.4,1372.4 1217.4,1372.4 1218.4,1372.3 1219.4,1372.3 1220.4,1372.3 1221.4,1372.2 1222.4,1372.2 1223.4,1372.2 1224.4,1372.1 1225.4,1372.1 1226.4,1372.1 1227.4,1372.0 1228.4,1372.0 1229.4,1371.9 1230.4,1371.9 1231.4,1371.8 1232.4,1371.8 1233.4,1371.7 1234.4,1371.7 1235.4,1371.6 1236.4,1371.6 1237.4,1371.5 1238.4,1371.5 1239.4,1371.4 1240.4,1371.3 1241.4,1371.3 1242.4,1371.2 1243.4,1371.2 1244.4,1371.1 1245.4,1371.0 1246.4,1371.0 1247.4,1370.9 1248.4,1370.8 1249.4,1370.8 1250.4,1370.7 1251.4,1370.6 1252.4,1370.6 1253.4,1370.5 1254.4,1370.4 1255.4,1370.3 1256.4,1370.2 1257.4,1370.2 1258.4,1370.1 1259.4,1370.0 1260.4,1369.9 1261.4,1369.8 1262.4,1369.7 1263.4,1369.7 1264.4,1369.6 1265.4,1369.5 1266.4,1369.4 1267.4,1369.3 1268.4,1369.2 1269.4,1369.1 1270.4,1369.0 1271.4,1368.9 1272.4,1368.8 1273.4,1368.7 1274.4,1368.6 1275.4,1368.5 1276.4,1368.4 1277.4,1368.3 1278.4,1368.2 1279.4,1368.1 1280.4,1367.9 1281.4,1367.8 1282.4,1367.7 1283.4,1367.6 1284.4,1367.5 1285.4,1367.4 1286.4,1367.2 1287.4,1367.1 1288.4,1367.0 1289.4,1366.9 1290.4,1366.7 1291.4,1366.6 1292.4,1366.5 1293.4,1366.3 1294.4,1366.2 1295.4,1366.1 1296.4,1365.9 1297.4,1365.8 1298.4,1365.7 1299.4,1365.5 1300.4,1365.4 1301.4,1365.2 1302.4,1365.1 1303.4,1365.0 1304.4,1364.8 1305.4,1364.7 1306.4,1364.5 1307.4,1364.4 1308.4,1364.2 1309.4,1364.0 1310.4,1363.9 1311.4,1363.7 1312.4,1363.6 1313.4,1363.4 1314.4,1363.2 1315.4,1363.1 1316.4,1362.9 1317.4,1362.7 1318.4,1362.6 1319.4,1362.4 1320.4,1362.2 1321.4,1362.0 1322.4,1361.9 1323.4,1361.7 1324.4,1361.5 1325.4,1361.3 1326.4,1361.1 1327.4,1361.0 1328.4,1360.8 1329.4,1360.6 1330.4,1360.4 1331.4,1360.2 1332.4,1360.0 1333.4,1359.8 1334.4,1359.6 1335.4,1359.4 1336.4,1359.2 1337.4,1359.0 1338.4,1358.8 1339.4,1358.6 1340.4,1358.4 1341.4,1358.2 1342.4,1358.0 1343.4,1357.8 1344.4,1357.6 1345.4,1357.4 1346.4,1357.1 1347.4,1356.9 1348.4,1356.7 1349.4,1356.5 1350.4,1356.2 1351.4,1356.0 1352.4,1355.8 1353.4,1355.6 1354.4,1355.3 1355.4,1355.1 1356.4,1354.9 1357.4,1354.6 1358.4,1354.4 1359.4,1354.2 1360.4,1353.9 1361.4,1353.7 1362.4,1353.4 1363.4,1353.2 1364.4,1352.9 1365.4,1352.7 1366.4,1352.4 1367.4,1352.2 1368.4,1351.9 1369.4,1351.7 1370.4,1351.4 1371.4,1351.1 1372.4,1350.9 1373.4,1350.6 1374.4,1350.3 1375.4,1350.1 1376.4,1349.8 1377.4,1349.5 1378.4,1349.2 1379.4,1349.0 1380.4,1348.7 1381.4,1348.4 1382.4,1348.1 1383.4,1347.8 1384.4,1347.6 1385.4,1347.3 1386.4,1347.0 1387.4,1346.7 1388.4,1346.4 1389.4,1346.1 1390.4,1345.8 1391.4,1345.5 1392.4,1345.2 1393.4,1344.9 1394.4,1344.6 1395.4,1344.3 1396.4,1344.0 1397.4,1343.6 1398.4,1343.3 1399.4,1343.0 1400.4,1342.7 1401.4,1342.4 1402.4,1342.1 1403.4,1341.7 1404.4,1341.4 1405.4,1341.1 1406.4,1340.7 1407.4,1340.4 1408.4,1340.1 1409.4,1339.7 1410.4,1339.4 1411.4,1339.1 1412.4,1338.7 1413.4,1338.4 1414.4,1338.0 1415.4,1337.7 1416.4,1337.3 1417.4,1337.0 1418.4,1336.6 1419.4,1336.3 1420.4,1335.9 1421.4,1335.5 1422.4,1335.2 1423.4,1334.8 1424.4,1334.4 1425.4,1334.1 1426.4,1333.7 1427.4,1333.3 1428.4,1333.0 1429.4,1332.6 1430.4,1332.2 1431.4,1331.8 1432.4,1331.4 1433.4,1331.0 1434.4,1330.7 1435.4,1330.3 1436.4,1329.9 1437.4,1329.5 1438.4,1329.1 1439.4,1328.7 1440.4,1328.3 1441.4,1327.9 1442.4,1327.5 1443.4,1327.1 1444.4,1326.6 1445.4,1326.2 1446.4,1325.8 1447.4,1325.4 1448.4,1325.0 1449.4,1324.6 1450.4,1324.1 1451.4,1323.7 1452.4,1323.3 1453.4,1322.8 1454.4,1322.4 1455.4,1322.0 1456.4,1321.5 1457.4,1321.1 1458.4,1320.7 1459.4,1320.2 1460.4,1319.8 1461.4,1319.3 1462.4,1318.9 1463.4,1318.4 1464.4,1317.9 1465.4,1317.5 1466.4,1317.0 1467.4,1316.6 1468.4,1316.1 1469.4,1315.6 1470.4,1315.2 1471.4,1314.7 1472.4,1314.2 1473.4,1313.7 1474.4,1313.2 1475.4,1312.8 1476.4,1312.3 1477.4,1311.8 1478.4,1311.3 1479.4,1310.8 1480.4,1310.3 1481.4,1309.8 1482.4,1309.3 1483.4,1308.8 1484.4,1308.3 1485.4,1307.8 1486.4,1307.3 1487.4,1306.8 1488.4,1306.3 1489.4,1305.8 1490.4,1305.2 1491.4,1304.7 1492.4,1304.2 1493.4,1303.7 1494.4,1303.1 1495.4,1302.6 1496.4,1302.1 1497.4,1301.5 1498.4,1301.0 1499.4,1300.5 1500.4,1299.9 1501.4,1299.4 1502.4,1298.8 1503.4,1298.3 1504.4,1297.7 1505.4,1297.2 1506.4,1296.6 1507.4,1296.0 1508.4,1295.5 1509.4,1294.9 1510.4,1294.3 1511.4,1293.8 1512.4,1293.2 1513.4,1292.6 1514.4,1292.0 1515.4,1291.4 1516.4,1290.9 1517.4,1290.3 1518.4,1289.7 1519.4,1289.1 1520.4,1288.5 1521.4,1287.9 1522.4,1287.3 1523.4,1286.7 1524.4,1286.1 1525.4,1285.5 1526.4,1284.9 1527.4,1284.3 1528.4,1283.6 1529.4,1283.0 1530.4,1282.4 1531.4,1281.8 1532.4,1281.1 1533.4,1280.5 1534.4,1279.9 1535.4,1279.2 1536.4,1278.6 1537.4,1278.0 1538.4,1277.3 1539.4,1276.7 1540.4,1276.0 1541.4,1275.4 1542.4,1274.7 1543.4,1274.1 1544.4,1273.4 1545.4,1272.7 1546.4,1272.1 1547.4,1271.4 1548.4,1270.7 1549.4,1270.1 1550.4,1269.4 1551.4,1268.7 1552.4,1268.0 1553.4,1267.3 1554.4,1266.7 1555.4,1266.0 1556.4,1265.3 1557.4,1264.6 1558.4,1263.9 1559.4,1263.2 1560.4,1262.5 1561.4,1261.8 1562.4,1261.1 1563.4,1260.3 1564.4,1259.6 1565.4,1258.9 1566.4,1258.2 1567.4,1257.5 1568.4,1256.7 1569.4,1256.0 1570.4,1255.3 1571.4,1254.5 1572.4,1253.8 1573.4,1253.1 1574.4,1252.3 1575.4,1251.6 1576.4,1250.8 1577.4,1250.1 1578.4,1249.3 1579.4,1248.5 1580.4,1247.8 1581.4,1247.0 1582.4,1246.2 1583.4,1245.5 1584.4,1244.7 1585.4,1243.9 1586.4,1243.1 1587.4,1242.4 1588.4,1241.6 1589.4,1240.8 1590.4,1240.0 1591.4,1239.2 1592.4,1238.4 1593.4,1237.6 1594.4,1236.8 1595.4,1236.0 1596.4,1235.2 1597.4,1234.4 1598.4,1233.5 1599.4,1232.7 1600.4,1231.9 1601.4,1231.1 1602.4,1230.2 1603.4,1229.4 1604.4,1228.6 1605.4,1227.7 1606.4,1226.9 1607.4,1226.0 1608.4,1225.2 1609.4,1224.4 1610.4,1223.5 1611.4,1222.6 1612.4,1221.8 1613.4,1220.9 1614.4,1220.1 1615.4,1219.2 1616.4,1218.3 1617.4,1217.4 1618.4,1216.6 1619.4,1215.7 1620.4,1214.8 1621.4,1213.9 1622.4,1213.0 1623.4,1212.1 1624.4,1211.2 1625.4,1210.3 1626.4,1209.4 1627.4,1208.5 1628.4,1207.6 1629.4,1206.7 1630.4,1205.8 1631.4,1204.8 1632.4,1203.9 1633.4,1203.0 1634.4,1202.1 1635.4,1201.1 1636.4,1200.2 1637.4,1199.3 1638.4,1198.3 1639.4,1197.4 1640.4,1196.4 1641.4,1195.5 1642.4,1194.5 1643.4,1193.5 1644.4,1192.6 1645.4,1191.6 1646.4,1190.6 1647.4,1189.7 1648.4,1188.7 1649.4,1187.7 1650.4,1186.7 1651.4,1185.7 1652.4,1184.8 1653.4,1183.8 1654.4,1182.8 1655.4,1181.8 1656.4,1180.8 1657.4,1179.8 1658.4,1178.7 1659.4,1177.7 1660.4,1176.7 1661.4,1175.7 1662.4,1174.7 1663.4,1173.6 1664.4,1172.6 1665.4,1171.6 1666.4,1170.5 1667.4,1169.5 1668.4,1168.5 1669.4,1167.4 1670.4,1166.4 1671.4,1165.3 1672.4,1164.2 1673.4,1163.2 1674.4,1162.1 1675.4,1161.0 1676.4,1160.0 1677.4,1158.9 1678.4,1157.8 1679.4,1156.7 1680.4,1155.7 1681.4,1154.6 1682.4,1153.5 1683.4,1152.4 1684.4,1151.3 1685.4,1150.2 1686.4,1149.1 1687.4,1148.0 1688.4,1146.8 1689.4,1145.7 1690.4,1144.6 1691.4,1143.5 1692.4,1142.3 1693.4,1141.2 1694.4,1140.1 1695.4,1138.9 1696.4,1137.8 1697.4,1136.6 1698.4,1135.5 1699.4,1134.3 1700.4,1133.2 1701.4,1132.0 1702.4,1130.9 1703.4,1129.7 1704.4,1128.5 1705.4,1127.3 1706.4,1126.2 1707.4,1125.0 1708.4,1123.8 1709.4,1122.6 1710.4,1121.4 1711.4,1120.2 1712.4,1119.0 1713.4,1117.8 1714.4,1116.6 1715.4,1115.4 1716.4,1114.2 1717.4,1112.9 1718.4,1111.7 1719.4,1110.5 1720.4,1109.3 1721.4,1108.0 1722.4,1106.8 1723.4,1105.5 1724.4,1104.3 1725.4,1103.0 1726.4,1101.8 1727.4,1100.5 1728.4,1099.3 1729.4,1098.0 1730.4,1096.7 1731.4,1095.5 1732.4,1094.2 1733.4,1092.9 1734.4,1091.6 1735.4,1090.3 1736.4,1089.0 1737.4,1087.7 1738.4,1086.4 1739.4,1085.1 1740.4,1083.8 1741.4,1082.5 1742.4,1081.2 1743.4,1079.9 1744.4,1078.5 1745.4,1077.2 1746.4,1075.9 1747.4,1074.6 1748.4,1073.2 1749.4,1071.9 1750.4,1070.5 1751.4,1069.2 1752.4,1067.8 1753.4,1066.5 1754.4,1065.1 1755.4,1063.7 1756.4,1062.4 1757.4,1061.0 1758.4,1059.6 1759.4,1058.2 1760.5,1056.7" stroke="#007a00"/>
<polyline points="1082.4,1372.8 1083.4,1372.8 1084.4,1372.8 1085.4,1372.8 1086.4,1372.8 1087.4,1372.8 1088.4,1372.8 1089.4,1372.8 1090.4,1372.8 1091.4,1372.8 1092.4,1372.8 1093.4,1372.8 1094.4,1372.8 1095.4,1372.8 1096.4,1372.8 1097.4,1372.8 1098.4,1372.8 1099.4,1372.8 1100.4,1372.8 1101.4,1372.8 1102.4,1372.8 1103.4,1372.8 1104.4,1372.8 1105.4,1372.8 1106.4,1372.8 1107.4,1372.8 1108.4,1372.8 1109.4,1372.8 1110.4,1372.8 1111.4,1372.8 1112.4,1372.8 1113.4,1372.8 1114.4,1372.8 1115.4,1372.8 1116.4,1372.8 1117.4,1372.8 1118.4,1372.8 1119.4,1372.8 1120.4,1372.8 1121.4,1372.8 1122.4,1372.8 1123.4,1372.8 1124.4,1372.8 1125.4,1372.8 1126.4,1372.8 1127.4,1372.8 1128.4,1372.8 1129.4,1372.8 1130.4,1372.8 1131.4,1372.8 1132.4,1372.8 1133.4,1372.8 1134.4,1372.8 1135.4,1372.8 1136.4,1372.8 1137.4,1372.8 1138.4,1372.8 1139.4,1372.8 1140.4,1372.8 1141.4,1372.8 1142.4,1372.8 1143.4,1372.8 1144.4,1372.8 1145.4,1372.8 1146.4,1372.8 1147.4,1372.8 1148.4,1372.8 1149.4,1372.8 1150.4,1372.8 1151.4,1372.8 1152.4,1372.8 1153.4,1372.8 1154.4,1372.8 1155.4,1372.8 1156.4,1372.8 1157.4,1372.8 1158.4,1372.8 1159.4,1372.8 1160.4,1372.8 1161.4,1372.8 1162.4,1372.8 1163.4,1372.8 1164.4,1372.8 1165.4,1372.8 1166.4,1372.8 1167.4,1372.8 1168.4,1372.8 1169.4,1372.8 1170.4,1372.8 1171.4,1372.8 1172.4,1372.8 1173.4,1372.8 1174.4,1372.8 1175.4,1372.8 1176.4,1372.8 1177.4,1372.8 1178.4,1372.8 1179.4,1372.8 1180.4,1372.8 1181.4,1372.8 1182.4,1372.8 1183.4,1372.8 1184.4,1372.8 1185.4,1372.8 1186.4,1372.8 1187.4,1372.8 1188.4,1372.8 1189.4,1372.8 1190.4,1372.8 1191.4,1372.7 1192.4,1372.7 1193.4,1372.7 1194.4,1372.7 1195.4,1372.7 1196.4,1372.7 1197.4,1372.7 1198.4,1372.6 1199.4,1372.6 1200.4,1372.6 1201.4,1372.6 1202.4,1372.6 1203.4,1372.6 1204.4,1372.5 1205.4,1372.5 1206.4,1372.5 1207.4,1372.5 1208.4,1372.4 1209.4,1372.4 1210.4,1372.4 1211.4,1372.3 1212.4,1372.3 1213.4,1372.3 1214.4,1372.3 1215.4,1372.2 1216.4,1372.2 1217.4,1372.1 1218.4,1372.1 1219.4,1372.1 1220.4,1372.0 1221.4,1372.0 1222.4,1371.9 1223.4,1371.9 1224.4,1371.9 1225.4,1371.8 1226.4,1371.8 1227.4,1371.7 1228.4,1371.7 1229.4,1371.6 1230.4,1371.6 1231.4,1371.5 1232.4,1371.5 1233.4,1371.4 1234.4,1371.4 1235.4,1371.3 1236.4,1371.2 1237.4,1371.2 1238.4,1371.1 1239.4,1371.0 1240.4,1371.0 1241.4,1370.9 1242.4,1370.8 1243.4,1370.8 1244.4,1370.7 1245.4,1370.6 1246.4,1370.6 1247.4,1370.5 1248.4,1370.4 1249.4,1370.3 1250.4,1370.3 1251.4,1370.2 1252.4,1370.1 1253.4,1370.0 1254.4,1369.9 1255.4,1369.8 1256.4,1369.8 1257.4,1369.7 1258.4,1369.6 1259.4,1369.5 1260.4,1369.4 1261.4,1369.3 1262.4,1369.2 1263.4,1369.1 1264.4,1369.0 1265.4,1368.9 1266.4,1368.8 1267.4,1368.7 1268.4,1368.6 1269.4,1368.5 1270.4,1368.4 1271.4,1368.2 1272.4,1368.1 1273.4,1368.0 1274.4,1367.9 1275.4,1367.8 1276.4,1367.7 1277.4,1367.5 1278.4,1367.4 1279.4,1367.3 1280.4,1367.2 1281.4,1367.0 1282.4,1366.9 1283.4,1366.8 1284.4,1366.6 1285.4,1366.5 1286.4,1366.4 1287.4,1366.2 1288.4,1366.1 1289.4,1365.9 1290.4,1365.8 1291.4,1365.7 1292.4,1365.5 1293.4,1365.4 1294.4,1365.2 1295.4,1365.1 1296.4,1364.9 1297.4,1364.7 1298.4,1364.6 1299.4,1364.4 1300.4,1364.3 1301.4,1364.1 1302.4,1363.9 1303.4,1363.8 1304.4,1363.6 1305.4,1363.4 1306.4,1363.2 1307.4,1363.1 1308.4,1362.9 1309.4,1362.7 1310.4,1362.5 1311.4,1362.3 1312.4,1362.1 1313.4,1361.9 1314.4,1361.8 1315.4,1361.6 1316.4,1361.4 1317.4,1361.2 1318.4,1361.0 1319.4,1360.8 1320.4,1360.6 1321.4,1360.4 1322.4,1360.1 1323.4,1359.9 1324.4,1359.7 1325.4,1359.5 1326.4,1359.3 1327.4,1359.1 1328.4,1358.8 1329.4,1358.6 1330.4,1358.4 1331.4,1358.2 1332.4,1357.9 1333.4,1357.7 1334.4,1357.5 1335.4,1357.2 1336.4,1357.0 1337.4,1356.8 1338.4,1356.5 1339.4,1356.3 1340.4,1356.0 1341.4,1355.8 1342.4,1355.5 1343.4,1355.3 1344.4,1355.0 1345.4,1354.7 1346.4,1354.5 1347.4,1354.2 1348.4,1353.9 1349.4,1353.7 1350.4,1353.4 1351.4,1353.1 1352.4,1352.8 1353.4,1352.6 1354.4,1352.3 1355.4,1352.0 1356.4,1351.7 1357.4,1351.4 1358.4,1351.1 1359.4,1350.8 1360.4,1350.5 1361.4,1350.2 1362.4,1349.9 1363.4,1349.6 1364.4,1349.3 1365.4,1349.0 1366.4,1348.7 1367.4,1348.4 1368.4,1348.1 1369.4,1347.7 1370.4,1347.4 1371.4,1347.1 1372.4,1346.8 1373.4,1346.4 1374.4,1346.1 1375.4,1345.8 1376.4,1345.4 1377.4,1345.1 1378.4,1344.8 1379.4,1344.4 1380.4,1344.1 1381.4,1343.7 1382.4,1343.3 1383.4,1343.0 1384.4,1342.6 1385.4,1342.3 1386.4,1341.9 1387.4,1341.5 1388.4,1341.2 1389.4,1340.8 1390.4,1340.4 1391.4,1340.0 1392.4,1339.7 1393.4,1339.3 1394.4,1338.9 1395.4,1338.5 1396.4,1338.1 1397.4,1337.7 1398.4,1337.3 1399.4,1336.9 1400.4,1336.5 1401.4,1336.1 1402.4,1335.7 1403.4,1335.3 1404.4,1334.8 1405.4,1334.4 1406.4,1334.0 1407.4,1333.6 1408.4,1333.2 1409.4,1332.7 1410.4,1332.3 1411.4,1331.9 1412.4,1331.4 1413.4,1331.0 1414.4,1330.5 1415.4,1330.1 1416.4,1329.6 1417.4,1329.2 1418.4,1328.7 1419.4,1328.3 1420.4,1327.8 1421.4,1327.3 1422.4,1326.9 1423.4,1326.4 1424.4,1325.9 1425.4,1325.4 1426.4,1324.9 1427.4,1324.5 1428.4,1324.0 1429.4,1323.5 1430.4,1323.0 1431.4,1322.5 1432.4,1322.0 1433.4,1321.5 1434.4,1321.0 1435.4,1320.5 1436.4,1319.9 1437.4,1319.4 1438.4,1318.9 1439.4,1318.4 1440.4,1317.9 1441.4,1317.3 1442.4,1316.8 1443.4,1316.3 1444.4,1315.7 1445.4,1315.2 1446.4,1314.6 1447.4,1314.1 1448.4,1313.5 1449.4,1313.0 1450.4,1312.4 1451.4,1311.9 1452.4,1311.3 1453.4,1310.7 1454.4,1310.2 1455.4,1309.6 1456.4,1309.0 1457.4,1308.4 1458.4,1307.8 1459.4,1307.3 1460.4,1306.7 1461.4,1306.1 1462.4,1305.5 1463.4,1304.9 1464.4,1304.3 1465.4,1303.7 1466.4,1303.0 1467.4,1302.4 1468.4,1301.8 1469.4,1301.2 1470.4,1300.6 1471.4,1299.9 1472.4,1299.3 1473.4,1298.7 1474.4,1298.0 1475.4,1297.4 1476.4,1296.7 1477.4,1296.1 1478.4,1295.4 1479.4,1294.8 1480.4,1294.1 1481.4,1293.4 1482.4,1292.8 1483.4,1292.1 1484.4,1291.4 1485.4,1290.8 1486.4,1290.1 1487.4,1289.4 1488.4,1288.7 1489.4,1288.0 1490.4,1287.3 1491.4,1286.6 1492.4,1285.9 1493.4,1285.2 1494.4,1284.5 1495.4,1283.8 1496.4,1283.1 1497.4,1282.3 1498.4,1281.6 1499.4,1280.9 1500.4,1280.2 1501.4,1279.4 1502.4,1278.7 1503.4,1277.9 1504.4,1277.2 1505.4,1276.5 1506.4,1275.7 1507.4,1274.9 1508.4,1274.2 1509.4,1273.4 1510.4,1272.6 1511.4,1271.9 1512.4,1271.1 1513.4,1270.3 1514.4,1269.5 1515.4,1268.7 1516.4,1268.0 1517.4,1267.2 1518.4,1266.4 1519.4,1265.6 1520.4,1264.8 1521.4,1263.9 1522.4,1263.1 1523.4,1262.3 1524.4,1261.5 1525.4,1260.7 1526.4,1259.8 1527.4,1259.0 1528.4,1258.2 1529.4,1257.3 1530.4,1256.5 1531.4,1255.6 1532.4,1254.8 1533.4,1253.9 1534.4,1253.1 1535.4,1252.2 1536.4,1251.4 1537.4,1250.5 1538.4,1249.6 1539.4,1248.7 1540.4,1247.8 1541.4,1247.0 1542.4,1246.1 1543.4,1245.2 1544.4,1244.3 1545.4,1243.4 1546.4,1242.5 1547.4,1241.6 1548.4,1240.7 1549.4,1239.7 1550.4,1238.8 1551.4,1237.9 1552.4,1237.0 1553.4,1236.0 1554.4,1235.1 1555.4,1234.2 1556.4,1233.2 1557.4,1232.3 1558.4,1231.3 1559.4,1230.3 1560.4,1229.4 1561.4,1228.4 1562.4,1227.5 1563.4,1226.5 1564.4,1225.5 1565.4,1224.5 1566.4,1223.5 1567.4,1222.6 1568.4,1221.6 1569.4,1220.6 1570.4,1219.6 1571.4,1218.6 1572.4,1217.6 1573.4,1216.5 1574.4,1215.5 1575.4,1214.5 1576.4,1213.5 1577.4,1212.4 1578.4,1211.4 1579.4,1210.4 1580.4,1209.3 1581.4,1208.3 1582.4,1207.2 1583.4,1206.2 1584.4,1205.1 1585.4,1204.1 1586.4,1203.0 1587.4,1201.9 1588.4,1200.9 1589.4,1199.8 1590.4,1198.7 1591.4,1197.6 1592.4,1196.5 1593.4,1195.4 1594.4,1194.3 1595.4,1193.2 1596.4,1192.1 1597.4,1191.0 1598.4,1189.9 1599.4,1188.8 1600.4,1187.7 1601.4,1186.5 1602.4,1185.4 1603.4,1184.3 1604.4,1183.1 1605.4,1182.0 1606.4,1180.8 1607.4,1179.7 1608.4,1178.5 1609.4,1177.4 1610.4,1176.2 1611.4,1175.0 1612.4,1173.9 1613.4,1172.7 1614.4,1171.5 1615.4,1170.3 1616.4,1169.1 1617.4,1167.9 1618.4,1166.7 1619.4,1165.5 1620.4,1164.3 1621.4,1163.1 1622.4,1161.9 1623.4,1160.7 1624.4,1159.4 1625.4,1158.2 1626.4,1157.0 1627.4,1155.8 1628.4,1154.5 1629.4,1153.3 1630.4,1152.0 1631.4,1150.8 1632.4,1149.5 1633.4,1148.2 1634.4,1147.0 1635.4,1145.7 1636.4,1144.4 1637.4,1143.2 1638.4,1141.9 1639.4,1140.6 1640.4,1139.3 1641.4,1138.0 1642.4,1136.7 1643.4,1135.4 1644.4,1134.1 1645.4,1132.8 1646.4,1131.5 1647.4,1130.1 1648.4,1128.8 1649.4,1127.5 1650.4,1126.1 1651.4,1124.8 1652.4,1123.5 1653.4,1122.1 1654.4,1120.8 1655.4,1119.4 1656.4,1118.1 1657.4,1116.7 1658.4,1115.3 1659.4,1113.9 1660.4,1112.6 1661.4,1111.2 1662.4,1109.8 1663.4,1108.4 1664.4,1107.0 1665.4,1105.6 1666.4,1104.2 1667.4,1102.8 1668.4,1101.4 1669.4,1100.0 1670.4,1098.6 1671.4,1097.1 1672.4,1095.7 1673.4,1094.3 1674.4,1092.8 1675.4,1091.4 1676.4,1090.0 1677.4,1088.5 1678.4,1087.0 1679.4,1085.6 1680.4,1084.1 1681.4,1082.7 1682.4,1081.2 1683.4,1079.7 1684.4,1078.2 1685.4,1076.7 1686.4,1075.3 1687.4,1073.8 1688.4,1072.3 1689.4,1070.8 1690.4,1069.3 1691.4,1067.7 1692.4,1066.2 1693.4,1064.7 1694.4,1063.2 1695.4,1061.7 1696.4,1060.1 1697.4,1058.6 1698.4,1057.1 1699.4,1055.5 1700.4,1054.0 1701.4,1052.4 1702.4,1050.8 1703.4,1049.3 1704.4,1047.7 1705.4,1046.1 1706.4,1044.6 1707.4,1043.0 1708.4,1041.4 1709.4,1039.8 1710.4,1038.2 1711.4,1036.6 1712.4,1035.0 1713.4,1033.4 1714.4,1031.8 1715.4,1030.2 1716.4,1028.6 1717.4,1027.0 1718.4,1025.3 1719.4,1023.7 1720.4,1022.1 1721.4,1020.4 1722.4,1018.8 1723.4,1017.1 1724.4,1015.5 1725.4,1013.8 1726.4,1012.2 1727.4,1010.5 1728.4,1008.8 1729.4,1007.1 1730.4,1005.5 1731.4,1003.8 1732.4,1002.1 1733.4,1000.4 1734.4,998.7 1735.4,997.0 1736.4,995.3 1737.4,993.6 1738.4,991.9 1739.4,990.2 1740.4,988.4 1741.4,986.7 1742.4,985.0 1743.4,983.2 1744.4,981.5 1745.4,979.8 1746.4,978.0 1747.4,976.3 1748.4,974.5 1749.4,972.7 1750.4,971.0 1751.4,969.2 1752.4,967.4 1753.4,965.7 1754.4,963.9 1755.4,962.1 1756.4,960.3 1757.4,958.5 1758.4,956.7 1759.4,954.9 1760.5,952.9" stroke="#87260a"/>
<polyline points="1082.4,1372.8 1083.4,1372.8 1084.4,1372.8 1085.4,1372.8 1086.4,1372.8 1087.4,1372.8 1088.4,1372.8 1089.4,1372.8 1090.4,1372.8 1091.4,1372.8 1092.4,1372.8 1093.4,1372.8 1094.4,1372.8 1095.4,1372.8 1096.4,1372.8 1097.4,1372.8 1098.4,1372.8 1099.4,1372.8 1100.4,1372.8 1101.4,1372.8 1102.4,1372.8 1103.4,1372.8 1104.4,1372.8 1105.4,1372.8 1106.4,1372.8 1107.4,1372.8 1108.4,1372.8 1109.4,1372.8 1110.4,1372.8 1111.4,1372.8 1112.4,1372.8 1113.4,1372.8 1114.4,1372.8 1115.4,1372.8 1116.4,1372.8 1117.4,1372.8 1118.4,1372.8 1119.4,1372.8 1120.4,1372.8 1121.4,1372.8 1122.4,1372.8 1123.4,1372.8 1124.4,1372.8 1125.4,1372.8 1126.4,1372.8 1127.4,1372.8 1128.4,1372.8 1129.4,1372.8 1130.4,1372.8 1131.4,1372.8 1132.4,1372.8 1133.4,1372.8 1134.4,1372.8 1135.4,1372.8 1136.4,1372.8 1137.4,1372.8 1138.4,1372.8 1139.4,1372.8 1140.4,1372.8 1141.4,1372.8 1142.4,1372.8 1143.4,1372.8 1144.4,1372.8 1145.4,1372.8 1146.4,1372.8 1147.4,1372.8 1148.4,1372.8 1149.4,1372.8 1150.4,1372.8 1151.4,1372.8 1152.4,1372.8 1153.4,1372.8 1154.4,1372.8 1155.4,1372.8 1156.4,1372.8 1157.4,1372.8 1158.4,1372.8 1159.4,1372.8 1160.4,1372.8 1161.4,1372.8 1162.4,1372.8 1163.4,1372.8 1164.4,1372.8 1165.4,1372.8 1166.4,1372.8 1167.4,1372.8 1168.4,1372.8 1169.4,1372.8 1170.4,1372.8 1171.4,1372.8 1172.4,1372.8 1173.4,1372.8 1174.4,1372.8 1175.4,1372.8 1176.4,1372.8 1177.4,1372.8 1178.4,1372.8 1179.4,1372.8 1180.4,1372.8 1181.4,1372.8 1182.4,1372.8 1183.4,1372.8 1184.4,1372.8 1185.4,1372.8 1186.4,1372.8 1187.4,1372.8 1188.4,1372.8 1189.4,1372.8 1190.4,1372.8 1191.4,1372.8 1192.4,1372.8 1193.4,1372.8 1194.4,1372.8 1195.4,1372.8 1196.4,1372.8 1197.4,1372.8 1198.4,1372.8 1199.4,1372.8 1200.4,1372.8 1201.4,1372.8 1202.4,1372.8 1203.4,1372.8 1204.4,1372.8 1205.4,1372.7 1206.4,1372.7 1207.4,1372.7 1208.4,1372.7 1209.4,1372.7 1210.4,1372.7 1211.4,1372.6 1212.4,1372.6 1213.4,1372.6 1214.4,1372.6 1215.4,1372.5 1216.4,1372.5 1217.4,1372.5 1218.4,1372.4 1219.4,1372.4 1220.4,1372.4 1221.4,1372.3 1222.4,1372.3 1223.4,1372.2 1224.4,1372.2 1225.4,1372.1 1226.4,1372.1 1227.4,1372.0 1228.4,1372.0 1229.4,1371.9 1230.4,1371.9 1231.4,1371.8 1232.4,1371.8 1233.4,1371.7 1234.4,1371.6 1235.4,1371.6" stroke="#e02020"/>
<polyline points="1235.4,1371.6 1236.4,1371.5 1237.4,1371.4 1238.4,1371.4 1239.4,1371.3 1240.4,1371.2 1241.4,1371.1 1242.4,1371.1 1243.4,1371.0 1244.4,1370.9 1245.4,1370.8 1246.4,1370.7 1247.4,1370.6 1248.4,1370.5 1249.4,1370.4 1250.4,1370.3 1251.4,1370.2 1252.4,1370.1 1253.4,1370.0 1254.4,1369.9 1255.4,1369.8 1256.4,1369.7 1257.4,1369.6 1258.4,1369.5 1259.4,1369.4 1260.4,1369.2 1261.4,1369.1 1262.4,1369.0 1263.4,1368.9 1264.4,1368.7 1265.4,1368.6 1266.4,1368.5 1267.4,1368.3 1268.4,1368.2 1269.4,1368.1 1270.4,1367.9 1271.4,1367.8 1272.4,1367.6 1273.4,1367.5 1274.4,1367.3 1275.4,1367.2 1276.4,1367.0 1277.4,1366.9 1278.4,1366.7 1279.4,1366.5 1280.4,1366.4 1281.4,1366.2 1282.4,1366.0 1283.4,1365.8 1284.4,1365.7 1285.4,1365.5 1286.4,1365.3 1287.4,1365.1 1288.4,1364.9 1289.4,1364.7 1290.4,1364.6 1291.4,1364.4 1292.4,1364.2 1293.4,1364.0 1294.4,1363.7 1295.4,1363.5 1296.4,1363.3 1297.4,1363.1 1298.4,1362.9 1299.4,1362.7 1300.4,1362.5 1301.4,1362.2 1302.4,1362.0 1303.4,1361.8 1304.4,1361.6 1305.4,1361.3 1306.4,1361.1 1307.4,1360.8 1308.4,1360.6 1309.4,1360.4 1310.4,1360.1 1311.4,1359.8 1312.4,1359.6 1313.4,1359.3 1314.4,1359.1 1315.4,1358.8 1316.4,1358.5 1317.4,1358.3 1318.4,1358.0 1319.4,1357.7 1320.4,1357.4 1321.4,1357.2 1322.4,1356.9 1323.4,1356.6 1324.4,1356.3 1325.4,1356.0 1326.4,1355.7 1327.4,1355.4 1328.4,1355.1 1329.4,1354.8 1330.4,1354.5 1331.4,1354.2 1332.4,1353.9 1333.4,1353.5 1334.4,1353.2 1335.4,1352.9 1336.4,1352.6 1337.4,1352.2 1338.4,1351.9 1339.4,1351.5 1340.4,1351.2 1341.4,1350.9 1342.4,1350.5 1343.4,1350.2 1344.4,1349.8 1345.4,1349.4 1346.4,1349.1 1347.4,1348.7 1348.4,1348.3 1349.4,1348.0 1350.4,1347.6 1351.4,1347.2 1352.4,1346.8 1353.4,1346.4 1354.4,1346.1 1355.4,1345.7 1356.4,1345.3 1357.4,1344.9 1358.4,1344.5 1359.4,1344.1 1360.4,1343.6 1361.4,1343.2 1362.4,1342.8 1363.4,1342.4 1364.4,1342.0 1365.4,1341.5 1366.4,1341.1 1367.4,1340.7 1368.4,1340.2 1369.4,1339.8 1370.4,1339.3 1371.4,1338.9 1372.4,1338.4 1373.4,1338.0 1374.4,1337.5 1375.4,1337.1 1376.4,1336.6 1377.4,1336.1 1378.4,1335.6 1379.4,1335.2 1380.4,1334.7 1381.4,1334.2 1382.4,1333.7 1383.4,1333.2 1384.4,1332.7 1385.4,1332.2 1386.4,1331.7 1387.4,1331.2 1388.4,1330.7 1389.4,1330.2 1390.4,1329.7 1391.4,1329.1 1392.4,1328.6 1393.4,1328.1 1394.4,1327.5 1395.4,1327.0 1396.4,1326.4 1397.4,1325.9 1398.4,1325.3 1399.4,1324.8 1400.4,1324.2 1401.4,1323.7 1402.4,1323.1 1403.4,1322.5 1404.4,1322.0 1405.4,1321.4 1406.4,1320.8 1407.4,1320.2 1408.4,1319.6 1409.4,1319.0 1410.4,1318.4 1411.4,1317.8 1412.4,1317.2 1413.4,1316.6 1414.4,1316.0 1415.4,1315.4 1416.4,1314.7 1417.4,1314.1 1418.4,1313.5 1419.4,1312.8 1420.4,1312.2 1421.4,1311.6 1422.4,1310.9 1423.4,1310.3 1424.4,1309.6 1425.4,1308.9 1426.4,1308.3 1427.4,1307.6 1428.4,1306.9 1429.4,1306.3 1430.4,1305.6 1431.4,1304.9 1432.4,1304.2 1433.4,1303.5 1434.4,1302.8 1435.4,1302.1 1436.4,1301.4 1437.4,1300.7 1438.4,1300.0 1439.4,1299.2 1440.4,1298.5 1441.4,1297.8 1442.4,1297.1 1443.4,1296.3 1444.4,1295.6 1445.4,1294.8 1446.4,1294.1 1447.4,1293.3 1448.4,1292.6 1449.4,1291.8 1450.4,1291.0 1451.4,1290.3 1452.4,1289.5 1453.4,1288.7 1454.4,1287.9 1455.4,1287.1 1456.4,1286.3 1457.4,1285.5 1458.4,1284.7 1459.4,1283.9 1460.4,1283.1 1461.4,1282.3 1462.4,1281.5 1463.4,1280.6 1464.4,1279.8 1465.4,1279.0 1466.4,1278.1 1467.4,1277.3 1468.4,1276.4 1469.4,1275.6 1470.4,1274.7 1471.4,1273.9 1472.4,1273.0 1473.4,1272.1 1474.4,1271.3 1475.4,1270.4 1476.4,1269.5 1477.4,1268.6 1478.4,1267.7 1479.4,1266.8 1480.4,1265.9 1481.4,1265.0 1482.4,1264.1 1483.4,1263.2 1484.4,1262.2 1485.4,1261.3 1486.4,1260.4 1487.4,1259.4 1488.4,1258.5 1489.4,1257.6 1490.4,1256.6 1491.4,1255.7 1492.4,1254.7 1493.4,1253.7 1494.4,1252.8 1495.4,1251.8 1496.4,1250.8 1497.4,1249.8 1498.4,1248.8 1499.4,1247.8 1500.4,1246.8 1501.4,1245.8 1502.4,1244.8 1503.4,1243.8 1504.4,1242.8 1505.4,1241.8 1506.4,1240.8 1507.4,1239.7 1508.4,1238.7 1509.4,1237.6 1510.4,1236.6 1511.4,1235.6 1512.4,1234.5 1513.4,1233.4 1514.4,1232.4 1515.4,1231.3 1516.4,1230.2 1517.4,1229.1 1518.4,1228.1 1519.4,1227.0 1520.4,1225.9 1521.4,1224.8 1522.4,1223.7 1523.4,1222.6 1524.4,1221.4 1525.4,1220.3 1526.4,1219.2 1527.4,1218.1 1528.4,1216.9 1529.4,1215.8 1530.4,1214.7 1531.4,1213.5 1532.4,1212.4 1533.4,1211.2 1534.4,1210.0 1535.4,1208.9 1536.4,1207.7 1537.4,1206.5 1538.4,1205.3 1539.4,1204.1 1540.4,1202.9 1541.4,1201.7 1542.4,1200.5 1543.4,1199.3 1544.4,1198.1 1545.4,1196.9 1546.4,1195.7 1547.4,1194.5 1548.4,1193.2 1549.4,1192.0 1550.4,1190.7 1551.4,1189.5 1552.4,1188.2 1553.4,1187.0 1554.4,1185.7 1555.4,1184.4 1556.4,1183.2 1557.4,1181.9 1558.4,1180.6 1559.4,1179.3 1560.4,1178.0 1561.4,1176.7 1562.4,1175.4 1563.4,1174.1 1564.4,1172.8 1565.4,1171.5 1566.4,1170.2 1567.4,1168.8 1568.4,1167.5 1569.4,1166.1 1570.4,1164.8 1571.4,1163.5 1572.4,1162.1 1573.4,1160.7 1574.4,1159.4 1575.4,1158.0 1576.4,1156.6 1577.4,1155.2 1578.4,1153.9 1579.4,1152.5 1580.4,1151.1 1581.4,1149.7 1582.4,1148.3 1583.4,1146.8 1584.4,1145.4 1585.4,1144.0 1586.4,1142.6 1587.4,1141.1 1588.4,1139.7 1589.4,1138.3 1590.4,1136.8 1591.4,1135.4 1592.4,1133.9 1593.4,1132.4 1594.4,1131.0 1595.4,1129.5 1596.4,1128.0 1597.4,1126.5 1598.4,1125.1 1599.4,1123.6 1600.4,1122.1 1601.4,1120.6 1602.4,1119.0 1603.4,1117.5 1604.4,1116.0 1605.4,1114.5 1606.4,1113.0 1607.4,1111.4 1608.4,1109.9 1609.4,1108.3 1610.4,1106.8 1611.4,1105.2 1612.4,1103.7 1613.4,1102.1 1614.4,1100.5 1615.4,1098.9 1616.4,1097.4 1617.4,1095.8 1618.4,1094.2 1619.4,1092.6 1620.4,1091.0 1621.4,1089.4 1622.4,1087.8 1623.4,1086.1 1624.4,1084.5 1625.4,1082.9 1626.4,1081.2 1627.4,1079.6 1628.4,1078.0 1629.4,1076.3 1630.4,1074.7 1631.4,1073.0 1632.4,1071.3 1633.4,1069.7 1634.4,1068.0 1635.4,1066.3 1636.4,1064.6 1637.4,1062.9 1638.4,1061.2 1639.4,1059.5 1640.4,1057.8 1641.4,1056.1 1642.4,1054.4 1643.4,1052.7 1644.4,1050.9 1645.4,1049.2 1646.4,1047.5 1647.4,1045.7 1648.4,1044.0 1649.4,1042.2 1650.4,1040.4 1651.4,1038.7 1652.4,1036.9 1653.4,1035.1 1654.4,1033.4 1655.4,1031.6 1656.4,1029.8 1657.4,1028.0 1658.4,1026.2 1659.4,1024.4 1660.4,1022.6 1661.4,1020.7 1662.4,1018.9 1663.4,1017.1 1664.4,1015.3 1665.4,1013.4 1666.4,1011.6 1667.4,1009.7 1668.4,1007.9 1669.4,1006.0 1670.4,1004.2 1671.4,1002.3 1672.4,1000.4 1673.4,998.5 1674.4,996.7 1675.4,994.8 1676.4,992.9 1677.4,991.0 1678.4,989.1 1679.4,987.2 1680.4,985.2 1681.4,983.3 1682.4,981.4 1683.4,979.5 1684.4,977.5 1685.4,975.6 1686.4,973.6 1687.4,971.7 1688.4,969.7 1689.4,967.8 1690.4,965.8 1691.4,963.8 1692.4,961.9 1693.4,959.9 1694.4,957.9 1695.4,955.9 1696.4,953.9 1697.4,951.9 1698.4,949.9 1699.4,947.9 1700.4,945.9 1701.4,943.8 1702.4,941.8 1703.4,939.8 1704.4,937.7 1705.4,935.7 1706.4,933.6 1707.4,931.6 1708.4,929.5 1709.4,927.5 1710.4,925.4 1711.4,923.3 1712.4,921.2 1713.4,919.2 1714.4,917.1 1715.4,915.0 1716.4,912.9 1717.4,910.8 1718.4,908.7 1719.4,906.6 1720.4,904.4 1721.4,902.3 1722.4,900.2 1723.4,898.1 1724.4,895.9 1725.4,893.8 1726.4,891.6 1727.4,889.5 1728.4,887.3 1729.4,885.1 1730.4,883.0 1731.4,880.8 1732.4,878.6 1733.4,876.4 1734.4,874.3 1735.4,872.1 1736.4,869.9 1737.4,867.7 1738.4,865.5 1739.4,863.2 1740.4,861.0 1741.4,858.8 1742.4,856.6 1743.4,854.3 1744.4,852.1 1745.4,849.9 1746.4,847.6 1747.4,845.4 1748.4,843.1 1749.4,840.8 1750.4,838.6 1751.4,836.3 1752.4,834.0 1753.4,831.8 1754.4,829.5 1755.4,827.2 1756.4,824.9 1757.4,822.6 1758.4,820.3 1759.4,818.0 1760.5,815.4" stroke="#ff0000" stroke-dasharray="9.5 7.15 0.01 8.29 0.01 7.15" stroke-linecap="round"/>
</g>
<text x="1069.7" y="1382.0" text-anchor="end">0</text>
<text x="1069.7" y="1336.2" text-anchor="end">6e-05</text>
<text x="1069.7" y="1290.5" text-anchor="end">0.00012</text>
<text x="1069.7" y="1244.8" text-anchor="end">0.00018</text>
<text x="1069.7" y="1199.0" text-anchor="end">0.00024</text>
<text x="1069.7" y="1153.2" text-anchor="end">0.0003</text>
<text x="1069.7" y="1107.5" text-anchor="end">0.00036</text>
<text x="1069.7" y="1061.8" text-anchor="end">0.00042</text>
<text x="1069.7" y="1016.0" text-anchor="end">0.00048</text>
<text x="1069.7" y="970.2" text-anchor="end">0.00054</text>
<text x="1069.7" y="924.5" text-anchor="end">0.0006</text>
<text x="1069.7" y="878.8" text-anchor="end">0.00066</text>
<text x="1069.7" y="833.0" text-anchor="end">0.00072</text>
<text x="1171.3" y="1406" text-anchor="middle">2146</text>
<text x="1260.9" y="1406" text-anchor="middle">2282</text>
<text x="1350.5" y="1406" text-anchor="middle">2418</text>
<text x="1440.1" y="1406" text-anchor="middle">2554</text>
<text x="1529.7" y="1406" text-anchor="middle">2690</text>
<text x="1619.3" y="1406" text-anchor="middle">2826</text>
<text x="1708.9" y="1406" text-anchor="middle">2962</text>
<text transform="translate(947.6,1079.8) rotate(-90)" text-anchor="middle">Total CO2 in Layer 2, M tonnes</text>
<text x="1291" y="1446" text-anchor="middle">Time</text>
<text x="1127" y="1488" textLength="322.5" lengthAdjust="spacingAndGlyphs" font-size="31">(d) Caprock – layer 2</text>
<rect x="1089.6" y="983.6" width="424.4" height="147.0" fill="#fff" fill-opacity="0.92" stroke="#dcdcdc" stroke-width="1.8"/>
<line x1="1095.0" y1="1003" x2="1121.3" y2="1003" stroke="#0000ff" stroke-width="3.4" stroke-linecap="round"/>
<text x="1135.0" y="1013.2" font-size="29.1">Total CO2 5500psi Layer 2</text>
<line x1="1095.0" y1="1039.4" x2="1121.3" y2="1039.4" stroke="#007a00" stroke-width="3.4" stroke-linecap="round"/>
<text x="1135.0" y="1049.6" font-size="29.1">Total CO2 7000psi Layer 2</text>
<line x1="1095.0" y1="1075.8" x2="1121.3" y2="1075.8" stroke="#87260a" stroke-width="3.4" stroke-linecap="round"/>
<text x="1135.0" y="1086.0" font-size="29.1">Total CO2 7500psi Layer 2</text>
<line x1="1095.0" y1="1112.2" x2="1121.3" y2="1112.2" stroke="#ff0000" stroke-width="3.4" stroke-linecap="round" stroke-dasharray="9.5 7.15 0.01 8.29 0.01 7.15"/>
<text x="1135.0" y="1122.4" font-size="29.1">Total CO2 8000psi Layer 2</text>
<path d="M164.2,1554.6 H848.0 V2143.8" fill="none" stroke="#dedede" stroke-width="2.2"/>
<line x1="163.6" y1="1554.6" x2="163.6" y2="2143.8" stroke="#8a8a8a" stroke-width="1.8"/>
<line x1="160.2" y1="2143.8" x2="848.0" y2="2143.8" stroke="#9c9c9c" stroke-width="2.4"/>
<path d="M160.6,2143.8 H164.2 M161.0,2119.0 H164.2 M160.6,2094.2 H164.2 M161.0,2069.4 H164.2 M160.6,2044.6 H164.2 M161.0,2019.8 H164.2 M160.6,1995.0 H164.2 M161.0,1970.2 H164.2 M160.6,1945.4 H164.2 M161.0,1920.6 H164.2 M160.6,1895.8 H164.2 M161.0,1871.0 H164.2 M160.6,1846.2 H164.2 M161.0,1821.4 H164.2 M160.6,1796.6 H164.2 M161.0,1771.8 H164.2 M160.6,1747.0 H164.2 M161.0,1722.2 H164.2 M160.6,1697.4 H164.2 M161.0,1672.6 H164.2 M160.6,1647.8 H164.2 M161.0,1623.0 H164.2 M160.6,1598.2 H164.2 M161.0,1573.4 H164.2" stroke="#6e6e6e" stroke-width="1.6" fill="none"/>
<path d="M253.7,2143.8 v3.6 M344.1,2143.8 v3.6 M434.5,2143.8 v3.6 M524.9,2143.8 v3.6 M615.3,2143.8 v3.6 M705.7,2143.8 v3.6 M796.1,2143.8 v3.6" stroke="#808080" stroke-width="1.8" fill="none"/>
<clipPath id="clip4"><rect x="163.2" y="1554.6" width="685.8" height="592.2000000000003"/></clipPath>
<g clip-path="url(#clip4)" fill="none" stroke-width="3.4" stroke-linejoin="round">
<polyline points="164.2,2143.8 165.2,2143.8 166.2,2143.8 167.2,2143.8 168.2,2143.8 169.2,2143.8 170.2,2143.8 171.2,2143.8 172.2,2143.8 173.2,2143.8 174.2,2143.8 175.2,2143.8 176.2,2143.8 177.2,2143.8 178.2,2143.8 179.2,2143.8 180.2,2143.8 181.2,2143.8 182.2,2143.8 183.2,2143.8 184.2,2143.8 185.2,2143.8 186.2,2143.8 187.2,2143.8 188.2,2143.8 189.2,2143.8 190.2,2143.8 191.2,2143.8 192.2,2143.8 193.2,2143.8 194.2,2143.8 195.2,2143.8 196.2,2143.8 197.2,2143.8 198.2,2143.8 199.2,2143.8 200.2,2143.8 201.2,2143.8 202.2,2143.8 203.2,2143.8 204.2,2143.8 205.2,2143.8 206.2,2143.8 207.2,2143.8 208.2,2143.8 209.2,2143.8 210.2,2143.8 211.2,2143.8 212.2,2143.8 213.2,2143.8 214.2,2143.8 215.2,2143.8 216.2,2143.8 217.2,2143.8 218.2,2143.8 219.2,2143.8 220.2,2143.8 221.2,2143.8 222.2,2143.8 223.2,2143.8 224.2,2143.8 225.2,2143.8 226.2,2143.8 227.2,2143.8 228.2,2143.8 229.2,2143.8 230.2,2143.8 231.2,2143.8 232.2,2143.8 233.2,2143.8 234.2,2143.8 235.2,2143.8 236.2,2143.8 237.2,2143.8 238.2,2143.8 239.2,2143.8 240.2,2143.8 241.2,2143.8 242.2,2143.8 243.2,2143.8 244.2,2143.8 245.2,2143.8 246.2,2143.8 247.2,2143.8 248.2,2143.8 249.2,2143.8 250.2,2143.8 251.2,2143.8 252.2,2143.8 253.2,2143.8 254.2,2143.8 255.2,2143.8 256.2,2143.8 257.2,2143.8 258.2,2143.8 259.2,2143.8 260.2,2143.8 261.2,2143.8 262.2,2143.8 263.2,2143.8 264.2,2143.8 265.2,2143.8 266.2,2143.8 267.2,2143.8 268.2,2143.8 269.2,2143.8 270.2,2143.8 271.2,2143.8 272.2,2143.8 273.2,2143.8 274.2,2143.8 275.2,2143.8 276.2,2143.8 277.2,2143.8 278.2,2143.8 279.2,2143.8 280.2,2143.8 281.2,2143.8 282.2,2143.8 283.2,2143.8 284.2,2143.8 285.2,2143.8 286.2,2143.8 287.2,2143.8 288.2,2143.8 289.2,2143.8 290.2,2143.8 291.2,2143.8 292.2,2143.8 293.2,2143.8 294.2,2143.8 295.2,2143.8 296.2,2143.8 297.2,2143.8 298.2,2143.8 299.2,2143.8 300.2,2143.8 301.2,2143.8 302.2,2143.8 303.2,2143.8 304.2,2143.8 305.2,2143.8 306.2,2143.8 307.2,2143.8 308.2,2143.8 309.2,2143.8 310.2,2143.8 311.2,2143.8 312.2,2143.8 313.2,2143.8 314.2,2143.8 315.2,2143.8 316.2,2143.8 317.2,2143.8 318.2,2143.8 319.2,2143.8 320.2,2143.8 321.2,2143.8 322.2,2143.8 323.2,2143.8 324.2,2143.8 325.2,2143.8 326.2,2143.8 327.2,2143.8 328.2,2143.8 329.2,2143.8 330.2,2143.8 331.2,2143.8 332.2,2143.8 333.2,2143.8 334.2,2143.8 335.2,2143.8 336.2,2143.8 337.2,2143.8 338.2,2143.8 339.2,2143.8 340.2,2143.8 341.2,2143.8 342.2,2143.8 343.2,2143.8 344.2,2143.8 345.2,2143.8 346.2,2143.8 347.2,2143.8 348.2,2143.8 349.2,2143.8 350.2,2143.8 351.2,2143.8 352.2,2143.8 353.2,2143.8 354.2,2143.8 355.2,2143.8 356.2,2143.8 357.2,2143.8 358.2,2143.8 359.2,2143.8 360.2,2143.8 361.2,2143.8 362.2,2143.8 363.2,2143.8 364.2,2143.8 365.2,2143.8 366.2,2143.8 367.2,2143.8 368.2,2143.8 369.2,2143.8 370.2,2143.8 371.2,2143.8 372.2,2143.8 373.2,2143.8 374.2,2143.8 375.2,2143.8 376.2,2143.8 377.2,2143.8 378.2,2143.7 379.2,2143.7 380.2,2143.7 381.2,2143.7 382.2,2143.7 383.2,2143.7 384.2,2143.7 385.2,2143.7 386.2,2143.7 387.2,2143.7 388.2,2143.7 389.2,2143.7 390.2,2143.7 391.2,2143.7 392.2,2143.7 393.2,2143.7 394.2,2143.7 395.2,2143.7 396.2,2143.7 397.2,2143.7 398.2,2143.7 399.2,2143.7 400.2,2143.7 401.2,2143.7 402.2,2143.7 403.2,2143.7 404.2,2143.7 405.2,2143.7 406.2,2143.7 407.2,2143.6 408.2,2143.6 409.2,2143.6 410.2,2143.6 411.2,2143.6 412.2,2143.6 413.2,2143.6 414.2,2143.6 415.2,2143.6 416.2,2143.6 417.2,2143.6 418.2,2143.6 419.2,2143.6 420.2,2143.6 421.2,2143.6 422.2,2143.6 423.2,2143.6 424.2,2143.5 425.2,2143.5 426.2,2143.5 427.2,2143.5 428.2,2143.5 429.2,2143.5 430.2,2143.5 431.2,2143.5 432.2,2143.5 433.2,2143.5 434.2,2143.5 435.2,2143.5 436.2,2143.5 437.2,2143.5 438.2,2143.4 439.2,2143.4 440.2,2143.4 441.2,2143.4 442.2,2143.4 443.2,2143.4 444.2,2143.4 445.2,2143.4 446.2,2143.4 447.2,2143.4 448.2,2143.4 449.2,2143.3 450.2,2143.3 451.2,2143.3 452.2,2143.3 453.2,2143.3 454.2,2143.3 455.2,2143.3 456.2,2143.3 457.2,2143.3 458.2,2143.2 459.2,2143.2 460.2,2143.2 461.2,2143.2 462.2,2143.2 463.2,2143.2 464.2,2143.2 465.2,2143.2 466.2,2143.2 467.2,2143.1 468.2,2143.1 469.2,2143.1 470.2,2143.1 471.2,2143.1 472.2,2143.1 473.2,2143.1 474.2,2143.0 475.2,2143.0 476.2,2143.0 477.2,2143.0 478.2,2143.0 479.2,2143.0 480.2,2143.0 481.2,2142.9 482.2,2142.9 483.2,2142.9 484.2,2142.9 485.2,2142.9 486.2,2142.9 487.2,2142.9 488.2,2142.8 489.2,2142.8 490.2,2142.8 491.2,2142.8 492.2,2142.8 493.2,2142.8 494.2,2142.7 495.2,2142.7 496.2,2142.7 497.2,2142.7 498.2,2142.7 499.2,2142.6 500.2,2142.6 501.2,2142.6 502.2,2142.6 503.2,2142.6 504.2,2142.6 505.2,2142.5 506.2,2142.5 507.2,2142.5 508.2,2142.5 509.2,2142.5 510.2,2142.4 511.2,2142.4 512.2,2142.4 513.2,2142.4 514.2,2142.4 515.2,2142.3 516.2,2142.3 517.2,2142.3 518.2,2142.3 519.2,2142.2 520.2,2142.2 521.2,2142.2 522.2,2142.2 523.2,2142.2 524.2,2142.1 525.2,2142.1 526.2,2142.1 527.2,2142.1 528.2,2142.0 529.2,2142.0 530.2,2142.0 531.2,2142.0 532.2,2141.9 533.2,2141.9 534.2,2141.9 535.2,2141.9 536.2,2141.8 537.2,2141.8 538.2,2141.8 539.2,2141.8 540.2,2141.7 541.2,2141.7 542.2,2141.7 543.2,2141.6 544.2,2141.6 545.2,2141.6 546.2,2141.6 547.2,2141.5 548.2,2141.5 549.2,2141.5 550.2,2141.4 551.2,2141.4 552.2,2141.4 553.2,2141.4 554.2,2141.3 555.2,2141.3 556.2,2141.3 557.2,2141.2 558.2,2141.2 559.2,2141.2 560.2,2141.1 561.2,2141.1 562.2,2141.1 563.2,2141.0 564.2,2141.0 565.2,2141.0 566.2,2140.9 567.2,2140.9 568.2,2140.9 569.2,2140.8 570.2,2140.8 571.2,2140.8 572.2,2140.7 573.2,2140.7 574.2,2140.7 575.2,2140.6 576.2,2140.6 577.2,2140.6 578.2,2140.5 579.2,2140.5 580.2,2140.5 581.2,2140.4 582.2,2140.4 583.2,2140.3 584.2,2140.3 585.2,2140.3 586.2,2140.2 587.2,2140.2 588.2,2140.2 589.2,2140.1 590.2,2140.1 591.2,2140.0 592.2,2140.0 593.2,2140.0 594.2,2139.9 595.2,2139.9 596.2,2139.8 597.2,2139.8 598.2,2139.8 599.2,2139.7 600.2,2139.7 601.2,2139.6 602.2,2139.6 603.2,2139.5 604.2,2139.5 605.2,2139.5 606.2,2139.4 607.2,2139.4 608.2,2139.3 609.2,2139.3 610.2,2139.2 611.2,2139.2 612.2,2139.1 613.2,2139.1 614.2,2139.1 615.2,2139.0 616.2,2139.0 617.2,2138.9 618.2,2138.9 619.2,2138.8 620.2,2138.8 621.2,2138.7 622.2,2138.7 623.2,2138.6 624.2,2138.6 625.2,2138.5 626.2,2138.5 627.2,2138.4 628.2,2138.4 629.2,2138.3 630.2,2138.3 631.2,2138.2 632.2,2138.2 633.2,2138.1 634.2,2138.1 635.2,2138.0 636.2,2138.0 637.2,2137.9 638.2,2137.9 639.2,2137.8 640.2,2137.7 641.2,2137.7 642.2,2137.6 643.2,2137.6 644.2,2137.5 645.2,2137.5 646.2,2137.4 647.2,2137.4 648.2,2137.3 649.2,2137.2 650.2,2137.2 651.2,2137.1 652.2,2137.1 653.2,2137.0 654.2,2137.0 655.2,2136.9 656.2,2136.8 657.2,2136.8 658.2,2136.7 659.2,2136.7 660.2,2136.6 661.2,2136.5 662.2,2136.5 663.2,2136.4 664.2,2136.3 665.2,2136.3 666.2,2136.2 667.2,2136.2 668.2,2136.1 669.2,2136.0 670.2,2136.0 671.2,2135.9 672.2,2135.8 673.2,2135.8 674.2,2135.7 675.2,2135.6 676.2,2135.6 677.2,2135.5 678.2,2135.4 679.2,2135.4 680.2,2135.3 681.2,2135.2 682.2,2135.2 683.2,2135.1 684.2,2135.0 685.2,2135.0 686.2,2134.9 687.2,2134.8 688.2,2134.8 689.2,2134.7 690.2,2134.6 691.2,2134.5 692.2,2134.5 693.2,2134.4 694.2,2134.3 695.2,2134.2 696.2,2134.2 697.2,2134.1 698.2,2134.0 699.2,2134.0 700.2,2133.9 701.2,2133.8 702.2,2133.7 703.2,2133.7 704.2,2133.6 705.2,2133.5 706.2,2133.4 707.2,2133.3 708.2,2133.3 709.2,2133.2 710.2,2133.1 711.2,2133.0 712.2,2132.9 713.2,2132.9 714.2,2132.8 715.2,2132.7 716.2,2132.6 717.2,2132.5 718.2,2132.5 719.2,2132.4 720.2,2132.3 721.2,2132.2 722.2,2132.1 723.2,2132.0 724.2,2132.0 725.2,2131.9 726.2,2131.8 727.2,2131.7 728.2,2131.6 729.2,2131.5 730.2,2131.5 731.2,2131.4 732.2,2131.3 733.2,2131.2 734.2,2131.1 735.2,2131.0 736.2,2130.9 737.2,2130.8 738.2,2130.7 739.2,2130.7 740.2,2130.6 741.2,2130.5 742.2,2130.4 743.2,2130.3 744.2,2130.2 745.2,2130.1 746.2,2130.0 747.2,2129.9 748.2,2129.8 749.2,2129.7 750.2,2129.6 751.2,2129.5 752.2,2129.4 753.2,2129.3 754.2,2129.3 755.2,2129.2 756.2,2129.1 757.2,2129.0 758.2,2128.9 759.2,2128.8 760.2,2128.7 761.2,2128.6 762.2,2128.5 763.2,2128.4 764.2,2128.3 765.2,2128.2 766.2,2128.1 767.2,2128.0 768.2,2127.9 769.2,2127.8 770.2,2127.7 771.2,2127.5 772.2,2127.4 773.2,2127.3 774.2,2127.2 775.2,2127.1 776.2,2127.0 777.2,2126.9 778.2,2126.8 779.2,2126.7 780.2,2126.6 781.2,2126.5 782.2,2126.4 783.2,2126.3 784.2,2126.2 785.2,2126.0 786.2,2125.9 787.2,2125.8 788.2,2125.7 789.2,2125.6 790.2,2125.5 791.2,2125.4 792.2,2125.3 793.2,2125.2 794.2,2125.0 795.2,2124.9 796.2,2124.8 797.2,2124.7 798.2,2124.6 799.2,2124.5 800.2,2124.3 801.2,2124.2 802.2,2124.1 803.2,2124.0 804.2,2123.9 805.2,2123.8 806.2,2123.6 807.2,2123.5 808.2,2123.4 809.2,2123.3 810.2,2123.2 811.2,2123.0 812.2,2122.9 813.2,2122.8 814.2,2122.7 815.2,2122.5 816.2,2122.4 817.2,2122.3 818.2,2122.2 819.2,2122.0 820.2,2121.9 821.2,2121.8 822.2,2121.7 823.2,2121.5 824.2,2121.4 825.2,2121.3 826.2,2121.1 827.2,2121.0 828.2,2120.9 829.2,2120.8 830.2,2120.6 831.2,2120.5 832.2,2120.4 833.2,2120.2 834.2,2120.1 835.2,2120.0 836.2,2119.8 837.2,2119.7 838.2,2119.6 839.2,2119.4 840.2,2119.3 841.2,2119.2 842.2,2119.0 843.2,2118.9 844.2,2118.7 845.2,2118.6 846.2,2118.5 848.0,2118.2" stroke="#0000ff"/>
<polyline points="164.2,2143.8 165.2,2143.8 166.2,2143.8 167.2,2143.8 168.2,2143.8 169.2,2143.8 170.2,2143.8 171.2,2143.8 172.2,2143.8 173.2,2143.8 174.2,2143.8 175.2,2143.8 176.2,2143.8 177.2,2143.8 178.2,2143.8 179.2,2143.8 180.2,2143.8 181.2,2143.8 182.2,2143.8 183.2,2143.8 184.2,2143.8 185.2,2143.8 186.2,2143.8 187.2,2143.8 188.2,2143.8 189.2,2143.8 190.2,2143.8 191.2,2143.8 192.2,2143.8 193.2,2143.8 194.2,2143.8 195.2,2143.8 196.2,2143.8 197.2,2143.8 198.2,2143.8 199.2,2143.8 200.2,2143.8 201.2,2143.8 202.2,2143.8 203.2,2143.8 204.2,2143.8 205.2,2143.8 206.2,2143.8 207.2,2143.8 208.2,2143.8 209.2,2143.8 210.2,2143.8 211.2,2143.8 212.2,2143.8 213.2,2143.8 214.2,2143.8 215.2,2143.8 216.2,2143.8 217.2,2143.8 218.2,2143.8 219.2,2143.8 220.2,2143.8 221.2,2143.8 222.2,2143.8 223.2,2143.8 224.2,2143.8 225.2,2143.8 226.2,2143.8 227.2,2143.8 228.2,2143.8 229.2,2143.8 230.2,2143.8 231.2,2143.8 232.2,2143.8 233.2,2143.8 234.2,2143.8 235.2,2143.8 236.2,2143.8 237.2,2143.8 238.2,2143.8 239.2,2143.8 240.2,2143.8 241.2,2143.8 242.2,2143.8 243.2,2143.8 244.2,2143.8 245.2,2143.8 246.2,2143.8 247.2,2143.8 248.2,2143.8 249.2,2143.8 250.2,2143.8 251.2,2143.8 252.2,2143.8 253.2,2143.8 254.2,2143.8 255.2,2143.8 256.2,2143.8 257.2,2143.8 258.2,2143.8 259.2,2143.8 260.2,2143.8 261.2,2143.8 262.2,2143.8 263.2,2143.8 264.2,2143.8 265.2,2143.8 266.2,2143.8 267.2,2143.8 268.2,2143.8 269.2,2143.8 270.2,2143.8 271.2,2143.8 272.2,2143.8 273.2,2143.8 274.2,2143.8 275.2,2143.8 276.2,2143.8 277.2,2143.8 278.2,2143.8 279.2,2143.8 280.2,2143.8 281.2,2143.8 282.2,2143.8 283.2,2143.8 284.2,2143.8 285.2,2143.8 286.2,2143.8 287.2,2143.8 288.2,2143.8 289.2,2143.8 290.2,2143.8 291.2,2143.8 292.2,2143.8 293.2,2143.8 294.2,2143.8 295.2,2143.8 296.2,2143.8 297.2,2143.8 298.2,2143.8 299.2,2143.8 300.2,2143.8 301.2,2143.8 302.2,2143.8 303.2,2143.8 304.2,2143.8 305.2,2143.8 306.2,2143.8 307.2,2143.8 308.2,2143.8 309.2,2143.8 310.2,2143.8 311.2,2143.8 312.2,2143.8 313.2,2143.8 314.2,2143.8 315.2,2143.8 316.2,2143.8 317.2,2143.8 318.2,2143.8 319.2,2143.8 320.2,2143.8 321.2,2143.8 322.2,2143.8 323.2,2143.8 324.2,2143.8 325.2,2143.8 326.2,2143.8 327.2,2143.8 328.2,2143.8 329.2,2143.8 330.2,2143.8 331.2,2143.8 332.2,2143.8 333.2,2143.8 334.2,2143.8 335.2,2143.8 336.2,2143.8 337.2,2143.8 338.2,2143.8 339.2,2143.8 340.2,2143.8 341.2,2143.8 342.2,2143.8 343.2,2143.8 344.2,2143.8 345.2,2143.8 346.2,2143.8 347.2,2143.8 348.2,2143.8 349.2,2143.8 350.2,2143.8 351.2,2143.8 352.2,2143.8 353.2,2143.8 354.2,2143.8 355.2,2143.8 356.2,2143.8 357.2,2143.8 358.2,2143.8 359.2,2143.8 360.2,2143.8 361.2,2143.8 362.2,2143.8 363.2,2143.8 364.2,2143.8 365.2,2143.8 366.2,2143.8 367.2,2143.8 368.2,2143.8 369.2,2143.8 370.2,2143.8 371.2,2143.8 372.2,2143.8 373.2,2143.8 374.2,2143.8 375.2,2143.8 376.2,2143.8 377.2,2143.8 378.2,2143.8 379.2,2143.8 380.2,2143.8 381.2,2143.8 382.2,2143.8 383.2,2143.8 384.2,2143.8 385.2,2143.8 386.2,2143.8 387.2,2143.7 388.2,2143.7 389.2,2143.7 390.2,2143.7 391.2,2143.7 392.2,2143.7 393.2,2143.6 394.2,2143.6 395.2,2143.6 396.2,2143.6 397.2,2143.5 398.2,2143.5 399.2,2143.5 400.2,2143.4 401.2,2143.4 402.2,2143.3 403.2,2143.3 404.2,2143.2 405.2,2143.2 406.2,2143.1 407.2,2143.1 408.2,2143.0 409.2,2142.9 410.2,2142.9 411.2,2142.8 412.2,2142.7 413.2,2142.7 414.2,2142.6 415.2,2142.5 416.2,2142.4 417.2,2142.3 418.2,2142.2 419.2,2142.2 420.2,2142.1 421.2,2142.0 422.2,2141.9 423.2,2141.8 424.2,2141.7 425.2,2141.6 426.2,2141.5 427.2,2141.3 428.2,2141.2 429.2,2141.1 430.2,2141.0 431.2,2140.9 432.2,2140.7 433.2,2140.6 434.2,2140.5 435.2,2140.4 436.2,2140.2 437.2,2140.1 438.2,2140.0 439.2,2139.8 440.2,2139.7 441.2,2139.5 442.2,2139.4 443.2,2139.2 444.2,2139.1 445.2,2138.9 446.2,2138.8 447.2,2138.6 448.2,2138.4 449.2,2138.3 450.2,2138.1 451.2,2138.0 452.2,2137.8 453.2,2137.6 454.2,2137.4 455.2,2137.3 456.2,2137.1 457.2,2136.9 458.2,2136.7 459.2,2136.5 460.2,2136.4 461.2,2136.2 462.2,2136.0 463.2,2135.8 464.2,2135.6 465.2,2135.4 466.2,2135.2 467.2,2135.0 468.2,2134.8 469.2,2134.6 470.2,2134.4 471.2,2134.2 472.2,2134.0 473.2,2133.8 474.2,2133.6 475.2,2133.4 476.2,2133.2 477.2,2133.0 478.2,2132.8 479.2,2132.5 480.2,2132.3 481.2,2132.1 482.2,2131.9 483.2,2131.7 484.2,2131.4 485.2,2131.2 486.2,2131.0 487.2,2130.8 488.2,2130.5 489.2,2130.3 490.2,2130.1 491.2,2129.8 492.2,2129.6 493.2,2129.4 494.2,2129.1 495.2,2128.9 496.2,2128.7 497.2,2128.4 498.2,2128.2 499.2,2127.9 500.2,2127.7 501.2,2127.4 502.2,2127.2 503.2,2126.9 504.2,2126.7 505.2,2126.4 506.2,2126.2 507.2,2125.9 508.2,2125.7 509.2,2125.4 510.2,2125.2 511.2,2124.9 512.2,2124.6 513.2,2124.4 514.2,2124.1 515.2,2123.9 516.2,2123.6 517.2,2123.3 518.2,2123.1 519.2,2122.8 520.2,2122.5 521.2,2122.3 522.2,2122.0 523.2,2121.7 524.2,2121.4 525.2,2121.2 526.2,2120.9 527.2,2120.6 528.2,2120.3 529.2,2120.1 530.2,2119.8 531.2,2119.5 532.2,2119.2 533.2,2118.9 534.2,2118.6 535.2,2118.4 536.2,2118.1 537.2,2117.8 538.2,2117.5 539.2,2117.2 540.2,2116.9 541.2,2116.6 542.2,2116.3 543.2,2116.0 544.2,2115.7 545.2,2115.4 546.2,2115.1 547.2,2114.8 548.2,2114.5 549.2,2114.2 550.2,2113.9 551.2,2113.6 552.2,2113.3 553.2,2113.0 554.2,2112.6 555.2,2112.3 556.2,2112.0 557.2,2111.7 558.2,2111.4 559.2,2111.1 560.2,2110.7 561.2,2110.4 562.2,2110.1 563.2,2109.8 564.2,2109.4 565.2,2109.1 566.2,2108.8 567.2,2108.4 568.2,2108.1 569.2,2107.8 570.2,2107.4 571.2,2107.1 572.2,2106.8 573.2,2106.4 574.2,2106.1 575.2,2105.7 576.2,2105.4 577.2,2105.0 578.2,2104.7 579.2,2104.3 580.2,2104.0 581.2,2103.6 582.2,2103.3 583.2,2102.9 584.2,2102.5 585.2,2102.2 586.2,2101.8 587.2,2101.4 588.2,2101.1 589.2,2100.7 590.2,2100.3 591.2,2099.9 592.2,2099.6 593.2,2099.2 594.2,2098.8 595.2,2098.4 596.2,2098.0 597.2,2097.6 598.2,2097.3 599.2,2096.9 600.2,2096.5 601.2,2096.1 602.2,2095.7 603.2,2095.3 604.2,2094.9 605.2,2094.5 606.2,2094.1 607.2,2093.6 608.2,2093.2 609.2,2092.8 610.2,2092.4 611.2,2092.0 612.2,2091.5 613.2,2091.1 614.2,2090.7 615.2,2090.3 616.2,2089.8 617.2,2089.4 618.2,2088.9 619.2,2088.5 620.2,2088.1 621.2,2087.6 622.2,2087.2 623.2,2086.7 624.2,2086.3 625.2,2085.8 626.2,2085.3 627.2,2084.9 628.2,2084.4 629.2,2083.9 630.2,2083.5 631.2,2083.0 632.2,2082.5 633.2,2082.0 634.2,2081.5 635.2,2081.0 636.2,2080.6 637.2,2080.1 638.2,2079.6 639.2,2079.1 640.2,2078.6 641.2,2078.0 642.2,2077.5 643.2,2077.0 644.2,2076.5 645.2,2076.0 646.2,2075.5 647.2,2074.9 648.2,2074.4 649.2,2073.9 650.2,2073.3 651.2,2072.8 652.2,2072.2 653.2,2071.7 654.2,2071.1 655.2,2070.6 656.2,2070.0 657.2,2069.4 658.2,2068.9 659.2,2068.3 660.2,2067.7 661.2,2067.1 662.2,2066.6 663.2,2066.0 664.2,2065.4 665.2,2064.8 666.2,2064.2 667.2,2063.6 668.2,2063.0 669.2,2062.4 670.2,2061.7 671.2,2061.1 672.2,2060.5 673.2,2059.9 674.2,2059.2 675.2,2058.6 676.2,2058.0 677.2,2057.3 678.2,2056.7 679.2,2056.0 680.2,2055.3 681.2,2054.7 682.2,2054.0 683.2,2053.3 684.2,2052.7 685.2,2052.0 686.2,2051.3 687.2,2050.6 688.2,2049.9 689.2,2049.2 690.2,2048.5 691.2,2047.8 692.2,2047.1 693.2,2046.4 694.2,2045.6 695.2,2044.9 696.2,2044.2 697.2,2043.4 698.2,2042.7 699.2,2041.9 700.2,2041.2 701.2,2040.4 702.2,2039.7 703.2,2038.9 704.2,2038.1 705.2,2037.3 706.2,2036.6 707.2,2035.8 708.2,2035.0 709.2,2034.2 710.2,2033.4 711.2,2032.5 712.2,2031.7 713.2,2030.9 714.2,2030.1 715.2,2029.3 716.2,2028.4 717.2,2027.6 718.2,2026.7 719.2,2025.9 720.2,2025.0 721.2,2024.1 722.2,2023.3 723.2,2022.4 724.2,2021.5 725.2,2020.6 726.2,2019.7 727.2,2018.8 728.2,2017.9 729.2,2017.0 730.2,2016.1 731.2,2015.2 732.2,2014.2 733.2,2013.3 734.2,2012.4 735.2,2011.4 736.2,2010.5 737.2,2009.5 738.2,2008.6 739.2,2007.6 740.2,2006.6 741.2,2005.6 742.2,2004.6 743.2,2003.7 744.2,2002.7 745.2,2001.6 746.2,2000.6 747.2,1999.6 748.2,1998.6 749.2,1997.6 750.2,1996.5 751.2,1995.5 752.2,1994.4 753.2,1993.4 754.2,1992.3 755.2,1991.3 756.2,1990.2 757.2,1989.1 758.2,1988.0 759.2,1987.0 760.2,1985.9 761.2,1984.8 762.2,1983.6 763.2,1982.5 764.2,1981.4 765.2,1980.3 766.2,1979.2 767.2,1978.0 768.2,1976.9 769.2,1975.7 770.2,1974.6 771.2,1973.4 772.2,1972.2 773.2,1971.1 774.2,1969.9 775.2,1968.7 776.2,1967.5 777.2,1966.3 778.2,1965.1 779.2,1963.9 780.2,1962.7 781.2,1961.4 782.2,1960.2 783.2,1959.0 784.2,1957.7 785.2,1956.5 786.2,1955.2 787.2,1954.0 788.2,1952.7 789.2,1951.4 790.2,1950.2 791.2,1948.9 792.2,1947.6 793.2,1946.3 794.2,1945.0 795.2,1943.7 796.2,1942.4 797.2,1941.1 798.2,1939.7 799.2,1938.4 800.2,1937.1 801.2,1935.7 802.2,1934.4 803.2,1933.0 804.2,1931.7 805.2,1930.3 806.2,1928.9 807.2,1927.6 808.2,1926.2 809.2,1924.8 810.2,1923.4 811.2,1922.0 812.2,1920.6 813.2,1919.2 814.2,1917.8 815.2,1916.4 816.2,1915.0 817.2,1913.6 818.2,1912.1 819.2,1910.7 820.2,1909.2 821.2,1907.8 822.2,1906.4 823.2,1904.9 824.2,1903.4 825.2,1902.0 826.2,1900.5 827.2,1899.1 828.2,1897.6 829.2,1896.1 830.2,1894.6 831.2,1893.1 832.2,1891.6 833.2,1890.1 834.2,1888.6 835.2,1887.1 836.2,1885.6 837.2,1884.1 838.2,1882.6 839.2,1881.1 840.2,1879.6 841.2,1878.1 842.2,1876.5 843.2,1875.0 844.2,1873.5 845.2,1871.9 846.2,1870.4 848.0,1867.6" stroke="#007a00"/>
<polyline points="164.2,2143.8 165.2,2143.8 166.2,2143.8 167.2,2143.8 168.2,2143.8 169.2,2143.8 170.2,2143.8 171.2,2143.8 172.2,2143.8 173.2,2143.8 174.2,2143.8 175.2,2143.8 176.2,2143.8 177.2,2143.8 178.2,2143.8 179.2,2143.8 180.2,2143.8 181.2,2143.8 182.2,2143.8 183.2,2143.8 184.2,2143.8 185.2,2143.8 186.2,2143.8 187.2,2143.8 188.2,2143.8 189.2,2143.8 190.2,2143.8 191.2,2143.8 192.2,2143.8 193.2,2143.8 194.2,2143.8 195.2,2143.8 196.2,2143.8 197.2,2143.8 198.2,2143.8 199.2,2143.8 200.2,2143.8 201.2,2143.8 202.2,2143.8 203.2,2143.8 204.2,2143.8 205.2,2143.8 206.2,2143.8 207.2,2143.8 208.2,2143.8 209.2,2143.8 210.2,2143.8 211.2,2143.8 212.2,2143.8 213.2,2143.8 214.2,2143.8 215.2,2143.8 216.2,2143.8 217.2,2143.8 218.2,2143.8 219.2,2143.8 220.2,2143.8 221.2,2143.8 222.2,2143.8 223.2,2143.8 224.2,2143.8 225.2,2143.8 226.2,2143.8 227.2,2143.8 228.2,2143.8 229.2,2143.8 230.2,2143.8 231.2,2143.8 232.2,2143.8 233.2,2143.8 234.2,2143.8 235.2,2143.8 236.2,2143.8 237.2,2143.8 238.2,2143.8 239.2,2143.8 240.2,2143.8 241.2,2143.8 242.2,2143.8 243.2,2143.8 244.2,2143.8 245.2,2143.8 246.2,2143.8 247.2,2143.8 248.2,2143.8 249.2,2143.8 250.2,2143.8 251.2,2143.8 252.2,2143.8 253.2,2143.8 254.2,2143.8 255.2,2143.8 256.2,2143.8 257.2,2143.8 258.2,2143.8 259.2,2143.8 260.2,2143.8 261.2,2143.8 262.2,2143.8 263.2,2143.8 264.2,2143.8 265.2,2143.8 266.2,2143.8 267.2,2143.8 268.2,2143.8 269.2,2143.8 270.2,2143.8 271.2,2143.8 272.2,2143.8 273.2,2143.8 274.2,2143.8 275.2,2143.8 276.2,2143.8 277.2,2143.8 278.2,2143.8 279.2,2143.8 280.2,2143.8 281.2,2143.8 282.2,2143.8 283.2,2143.8 284.2,2143.8 285.2,2143.8 286.2,2143.8 287.2,2143.8 288.2,2143.8 289.2,2143.8 290.2,2143.8 291.2,2143.8 292.2,2143.8 293.2,2143.8 294.2,2143.8 295.2,2143.8 296.2,2143.8 297.2,2143.8 298.2,2143.8 299.2,2143.8 300.2,2143.8 301.2,2143.8 302.2,2143.8 303.2,2143.8 304.2,2143.8 305.2,2143.8 306.2,2143.8 307.2,2143.8 308.2,2143.8 309.2,2143.8 310.2,2143.8 311.2,2143.8 312.2,2143.8 313.2,2143.8 314.2,2143.8 315.2,2143.8 316.2,2143.8 317.2,2143.8 318.2,2143.8 319.2,2143.8 320.2,2143.8 321.2,2143.8 322.2,2143.8 323.2,2143.8 324.2,2143.8 325.2,2143.8 326.2,2143.8 327.2,2143.8 328.2,2143.8 329.2,2143.8 330.2,2143.8 331.2,2143.8 332.2,2143.8 333.2,2143.8 334.2,2143.8 335.2,2143.8 336.2,2143.8 337.2,2143.8 338.2,2143.8 339.2,2143.8 340.2,2143.8 341.2,2143.8 342.2,2143.8 343.2,2143.8 344.2,2143.8 345.2,2143.8 346.2,2143.8 347.2,2143.8 348.2,2143.8 349.2,2143.8 350.2,2143.8 351.2,2143.8 352.2,2143.8 353.2,2143.8 354.2,2143.8 355.2,2143.8 356.2,2143.8 357.2,2143.8 358.2,2143.8 359.2,2143.8 360.2,2143.8 361.2,2143.8 362.2,2143.8 363.2,2143.8 364.2,2143.8 365.2,2143.8 366.2,2143.8 367.2,2143.8 368.2,2143.8 369.2,2143.8 370.2,2143.7 371.2,2143.7 372.2,2143.7 373.2,2143.7 374.2,2143.7 375.2,2143.7 376.2,2143.6 377.2,2143.6 378.2,2143.6 379.2,2143.6 380.2,2143.5 381.2,2143.5 382.2,2143.5 383.2,2143.4 384.2,2143.4 385.2,2143.4 386.2,2143.3 387.2,2143.3 388.2,2143.2 389.2,2143.2 390.2,2143.1 391.2,2143.1 392.2,2143.0 393.2,2142.9 394.2,2142.9 395.2,2142.8 396.2,2142.7 397.2,2142.7 398.2,2142.6 399.2,2142.5 400.2,2142.4 401.2,2142.4 402.2,2142.3 403.2,2142.2 404.2,2142.1 405.2,2142.0 406.2,2141.9 407.2,2141.8 408.2,2141.7 409.2,2141.6 410.2,2141.5 411.2,2141.4 412.2,2141.3 413.2,2141.2 414.2,2141.0 415.2,2140.9 416.2,2140.8 417.2,2140.7 418.2,2140.6 419.2,2140.4 420.2,2140.3 421.2,2140.2 422.2,2140.0 423.2,2139.9 424.2,2139.7 425.2,2139.6 426.2,2139.4 427.2,2139.3 428.2,2139.1 429.2,2139.0 430.2,2138.8 431.2,2138.7 432.2,2138.5 433.2,2138.3 434.2,2138.2 435.2,2138.0 436.2,2137.8 437.2,2137.6 438.2,2137.5 439.2,2137.3 440.2,2137.1 441.2,2136.9 442.2,2136.7 443.2,2136.5 444.2,2136.4 445.2,2136.2 446.2,2136.0 447.2,2135.8 448.2,2135.6 449.2,2135.4 450.2,2135.2 451.2,2134.9 452.2,2134.7 453.2,2134.5 454.2,2134.3 455.2,2134.1 456.2,2133.9 457.2,2133.6 458.2,2133.4 459.2,2133.2 460.2,2133.0 461.2,2132.7 462.2,2132.5 463.2,2132.3 464.2,2132.0 465.2,2131.8 466.2,2131.5 467.2,2131.3 468.2,2131.1 469.2,2130.8 470.2,2130.6 471.2,2130.3 472.2,2130.0 473.2,2129.8 474.2,2129.5 475.2,2129.3 476.2,2129.0 477.2,2128.7 478.2,2128.5 479.2,2128.2 480.2,2127.9 481.2,2127.6 482.2,2127.4 483.2,2127.1 484.2,2126.8 485.2,2126.5 486.2,2126.2 487.2,2126.0 488.2,2125.7 489.2,2125.4 490.2,2125.1 491.2,2124.8 492.2,2124.5 493.2,2124.2 494.2,2123.9 495.2,2123.6 496.2,2123.3 497.2,2123.0 498.2,2122.7 499.2,2122.3 500.2,2122.0 501.2,2121.7 502.2,2121.4 503.2,2121.1 504.2,2120.7 505.2,2120.4 506.2,2120.1 507.2,2119.8 508.2,2119.4 509.2,2119.1 510.2,2118.8 511.2,2118.4 512.2,2118.1 513.2,2117.7 514.2,2117.4 515.2,2117.0 516.2,2116.7 517.2,2116.3 518.2,2116.0 519.2,2115.6 520.2,2115.3 521.2,2114.9 522.2,2114.6 523.2,2114.2 524.2,2113.8 525.2,2113.5 526.2,2113.1 527.2,2112.7 528.2,2112.3 529.2,2112.0 530.2,2111.6 531.2,2111.2 532.2,2110.8 533.2,2110.4 534.2,2110.0 535.2,2109.6 536.2,2109.2 537.2,2108.8 538.2,2108.4 539.2,2108.0 540.2,2107.6 541.2,2107.2 542.2,2106.8 543.2,2106.4 544.2,2106.0 545.2,2105.6 546.2,2105.1 547.2,2104.7 548.2,2104.3 549.2,2103.9 550.2,2103.4 551.2,2103.0 552.2,2102.6 553.2,2102.1 554.2,2101.7 555.2,2101.3 556.2,2100.8 557.2,2100.4 558.2,2099.9 559.2,2099.5 560.2,2099.0 561.2,2098.5 562.2,2098.1 563.2,2097.6 564.2,2097.1 565.2,2096.7 566.2,2096.2 567.2,2095.7 568.2,2095.2 569.2,2094.8 570.2,2094.3 571.2,2093.8 572.2,2093.3 573.2,2092.8 574.2,2092.3 575.2,2091.8 576.2,2091.3 577.2,2090.8 578.2,2090.3 579.2,2089.8 580.2,2089.3 581.2,2088.7 582.2,2088.2 583.2,2087.7 584.2,2087.2 585.2,2086.6 586.2,2086.1 587.2,2085.5 588.2,2085.0 589.2,2084.5 590.2,2083.9 591.2,2083.4 592.2,2082.8 593.2,2082.2 594.2,2081.7 595.2,2081.1 596.2,2080.5 597.2,2080.0 598.2,2079.4 599.2,2078.8 600.2,2078.2 601.2,2077.6 602.2,2077.0 603.2,2076.4 604.2,2075.8 605.2,2075.2 606.2,2074.6 607.2,2074.0 608.2,2073.4 609.2,2072.8 610.2,2072.2 611.2,2071.5 612.2,2070.9 613.2,2070.3 614.2,2069.6 615.2,2069.0 616.2,2068.3 617.2,2067.7 618.2,2067.0 619.2,2066.4 620.2,2065.7 621.2,2065.0 622.2,2064.4 623.2,2063.7 624.2,2063.0 625.2,2062.3 626.2,2061.6 627.2,2060.9 628.2,2060.2 629.2,2059.5 630.2,2058.8 631.2,2058.1 632.2,2057.4 633.2,2056.7 634.2,2055.9 635.2,2055.2 636.2,2054.5 637.2,2053.7 638.2,2053.0 639.2,2052.2 640.2,2051.5 641.2,2050.7 642.2,2050.0 643.2,2049.2 644.2,2048.4 645.2,2047.6 646.2,2046.8 647.2,2046.1 648.2,2045.3 649.2,2044.5 650.2,2043.6 651.2,2042.8 652.2,2042.0 653.2,2041.2 654.2,2040.4 655.2,2039.5 656.2,2038.7 657.2,2037.9 658.2,2037.0 659.2,2036.2 660.2,2035.3 661.2,2034.4 662.2,2033.6 663.2,2032.7 664.2,2031.8 665.2,2030.9 666.2,2030.0 667.2,2029.1 668.2,2028.2 669.2,2027.3 670.2,2026.4 671.2,2025.5 672.2,2024.5 673.2,2023.6 674.2,2022.7 675.2,2021.7 676.2,2020.8 677.2,2019.8 678.2,2018.8 679.2,2017.9 680.2,2016.9 681.2,2015.9 682.2,2014.9 683.2,2013.9 684.2,2012.9 685.2,2011.9 686.2,2010.9 687.2,2009.9 688.2,2008.9 689.2,2007.8 690.2,2006.8 691.2,2005.7 692.2,2004.7 693.2,2003.6 694.2,2002.6 695.2,2001.5 696.2,2000.4 697.2,1999.3 698.2,1998.2 699.2,1997.1 700.2,1996.0 701.2,1994.9 702.2,1993.8 703.2,1992.7 704.2,1991.6 705.2,1990.4 706.2,1989.3 707.2,1988.1 708.2,1987.0 709.2,1985.8 710.2,1984.6 711.2,1983.4 712.2,1982.2 713.2,1981.0 714.2,1979.8 715.2,1978.6 716.2,1977.4 717.2,1976.2 718.2,1975.0 719.2,1973.7 720.2,1972.5 721.2,1971.2 722.2,1970.0 723.2,1968.7 724.2,1967.4 725.2,1966.1 726.2,1964.8 727.2,1963.6 728.2,1962.2 729.2,1960.9 730.2,1959.6 731.2,1958.3 732.2,1957.0 733.2,1955.6 734.2,1954.3 735.2,1952.9 736.2,1951.5 737.2,1950.2 738.2,1948.8 739.2,1947.4 740.2,1946.0 741.2,1944.6 742.2,1943.2 743.2,1941.8 744.2,1940.4 745.2,1938.9 746.2,1937.5 747.2,1936.0 748.2,1934.6 749.2,1933.1 750.2,1931.6 751.2,1930.2 752.2,1928.7 753.2,1927.2 754.2,1925.7 755.2,1924.2 756.2,1922.6 757.2,1921.1 758.2,1919.6 759.2,1918.0 760.2,1916.5 761.2,1914.9 762.2,1913.4 763.2,1911.8 764.2,1910.2 765.2,1908.6 766.2,1907.0 767.2,1905.4 768.2,1903.8 769.2,1902.2 770.2,1900.6 771.2,1898.9 772.2,1897.3 773.2,1895.6 774.2,1894.0 775.2,1892.3 776.2,1890.6 777.2,1889.0 778.2,1887.3 779.2,1885.6 780.2,1883.9 781.2,1882.2 782.2,1880.4 783.2,1878.7 784.2,1877.0 785.2,1875.2 786.2,1873.5 787.2,1871.7 788.2,1870.0 789.2,1868.2 790.2,1866.4 791.2,1864.6 792.2,1862.8 793.2,1861.0 794.2,1859.2 795.2,1857.4 796.2,1855.6 797.2,1853.7 798.2,1851.9 799.2,1850.1 800.2,1848.2 801.2,1846.3 802.2,1844.5 803.2,1842.6 804.2,1840.7 805.2,1838.8 806.2,1836.9 807.2,1835.0 808.2,1833.1 809.2,1831.2 810.2,1829.3 811.2,1827.4 812.2,1825.4 813.2,1823.5 814.2,1821.5 815.2,1819.6 816.2,1817.6 817.2,1815.7 818.2,1813.7 819.2,1811.7 820.2,1809.7 821.2,1807.7 822.2,1805.7 823.2,1803.7 824.2,1801.7 825.2,1799.7 826.2,1797.7 827.2,1795.6 828.2,1793.6 829.2,1791.6 830.2,1789.5 831.2,1787.5 832.2,1785.4 833.2,1783.3 834.2,1781.3 835.2,1779.2 836.2,1777.1 837.2,1775.0 838.2,1773.0 839.2,1770.9 840.2,1768.8 841.2,1766.7 842.2,1764.6 843.2,1762.5 844.2,1760.3 845.2,1758.2 846.2,1756.1 848.0,1752.3" stroke="#87260a"/>
<polyline points="164.2,2143.8 165.2,2143.8 166.2,2143.8 167.2,2143.8 168.2,2143.8 169.2,2143.8 170.2,2143.8 171.2,2143.8 172.2,2143.8 173.2,2143.8 174.2,2143.8 175.2,2143.8 176.2,2143.8 177.2,2143.8 178.2,2143.8 179.2,2143.8 180.2,2143.8 181.2,2143.8 182.2,2143.8 183.2,2143.8 184.2,2143.8 185.2,2143.8 186.2,2143.8 187.2,2143.8 188.2,2143.8 189.2,2143.8 190.2,2143.8 191.2,2143.8 192.2,2143.8 193.2,2143.8 194.2,2143.8 195.2,2143.8 196.2,2143.8 197.2,2143.8 198.2,2143.8 199.2,2143.8 200.2,2143.8 201.2,2143.8 202.2,2143.8 203.2,2143.8 204.2,2143.8 205.2,2143.8 206.2,2143.8 207.2,2143.8 208.2,2143.8 209.2,2143.8 210.2,2143.8 211.2,2143.8 212.2,2143.8 213.2,2143.8 214.2,2143.8 215.2,2143.8 216.2,2143.8 217.2,2143.8 218.2,2143.8 219.2,2143.8 220.2,2143.8 221.2,2143.8 222.2,2143.8 223.2,2143.8 224.2,2143.8 225.2,2143.8 226.2,2143.8 227.2,2143.8 228.2,2143.8 229.2,2143.8 230.2,2143.8 231.2,2143.8 232.2,2143.8 233.2,2143.8 234.2,2143.8 235.2,2143.8 236.2,2143.8 237.2,2143.8 238.2,2143.8 239.2,2143.8 240.2,2143.8 241.2,2143.8 242.2,2143.8 243.2,2143.8 244.2,2143.8 245.2,2143.8 246.2,2143.8 247.2,2143.8 248.2,2143.8 249.2,2143.8 250.2,2143.8 251.2,2143.8 252.2,2143.8 253.2,2143.8 254.2,2143.8 255.2,2143.8 256.2,2143.8 257.2,2143.8 258.2,2143.8 259.2,2143.8 260.2,2143.8 261.2,2143.8 262.2,2143.8 263.2,2143.8 264.2,2143.8 265.2,2143.8 266.2,2143.8 267.2,2143.8 268.2,2143.8 269.2,2143.8 270.2,2143.8 271.2,2143.8 272.2,2143.8 273.2,2143.8 274.2,2143.8 275.2,2143.8 276.2,2143.8 277.2,2143.8 278.2,2143.8 279.2,2143.8 280.2,2143.8 281.2,2143.8 282.2,2143.8 283.2,2143.8 284.2,2143.8 285.2,2143.8 286.2,2143.8 287.2,2143.8 288.2,2143.8 289.2,2143.8 290.2,2143.8 291.2,2143.8 292.2,2143.8 293.2,2143.8 294.2,2143.8 295.2,2143.8 296.2,2143.8 297.2,2143.8 298.2,2143.8 299.2,2143.8 300.2,2143.8 301.2,2143.8 302.2,2143.8 303.2,2143.8 304.2,2143.8 305.2,2143.8 306.2,2143.8 307.2,2143.8 308.2,2143.8 309.2,2143.8 310.2,2143.8 311.2,2143.8 312.2,2143.8 313.2,2143.8 314.2,2143.8 315.2,2143.8 316.2,2143.8 317.2,2143.8 318.2,2143.8 319.2,2143.8 320.2,2143.8 321.2,2143.8 322.2,2143.8 323.2,2143.8 324.2,2143.8 325.2,2143.8 326.2,2143.8 327.2,2143.8 328.2,2143.8 329.2,2143.8 330.2,2143.7 331.2,2143.7 332.2,2143.7 333.2,2143.7 334.2,2143.7 335.2,2143.7 336.2,2143.7 337.2,2143.7 338.2,2143.6 339.2,2143.6 340.2,2143.6 341.2,2143.6 342.2,2143.6 343.2,2143.5 344.2,2143.5 345.2,2143.5 346.2,2143.5 347.2,2143.4 348.2,2143.4 349.2,2143.4 350.2,2143.3 351.2,2143.3 352.2,2143.3 353.2,2143.2 354.2,2143.2 355.2,2143.1 356.2,2143.1 357.2,2143.0 358.2,2143.0 359.2,2142.9 360.2,2142.9 361.2,2142.8 362.2,2142.8 363.2,2142.7 364.2,2142.7 365.2,2142.6 366.2,2142.6" stroke="#e02020"/>
<polyline points="366.2,2142.6 367.2,2142.5 368.2,2142.4 369.2,2142.4 370.2,2142.3 371.2,2142.2 372.2,2142.1 373.2,2142.1 374.2,2142.0 375.2,2141.9 376.2,2141.8 377.2,2141.7 378.2,2141.7 379.2,2141.6 380.2,2141.5 381.2,2141.4 382.2,2141.3 383.2,2141.2 384.2,2141.1 385.2,2141.0 386.2,2140.9 387.2,2140.8 388.2,2140.7 389.2,2140.6 390.2,2140.5 391.2,2140.4 392.2,2140.2 393.2,2140.1 394.2,2140.0 395.2,2139.9 396.2,2139.8 397.2,2139.6 398.2,2139.5 399.2,2139.4 400.2,2139.2 401.2,2139.1 402.2,2139.0 403.2,2138.8 404.2,2138.7 405.2,2138.5 406.2,2138.4 407.2,2138.2 408.2,2138.1 409.2,2137.9 410.2,2137.8 411.2,2137.6 412.2,2137.4 413.2,2137.3 414.2,2137.1 415.2,2136.9 416.2,2136.8 417.2,2136.6 418.2,2136.4 419.2,2136.2 420.2,2136.1 421.2,2135.9 422.2,2135.7 423.2,2135.5 424.2,2135.3 425.2,2135.1 426.2,2134.9 427.2,2134.7 428.2,2134.5 429.2,2134.3 430.2,2134.1 431.2,2133.9 432.2,2133.7 433.2,2133.5 434.2,2133.2 435.2,2133.0 436.2,2132.8 437.2,2132.6 438.2,2132.3 439.2,2132.1 440.2,2131.9 441.2,2131.6 442.2,2131.4 443.2,2131.1 444.2,2130.9 445.2,2130.6 446.2,2130.4 447.2,2130.1 448.2,2129.9 449.2,2129.6 450.2,2129.4 451.2,2129.1 452.2,2128.8 453.2,2128.6 454.2,2128.3 455.2,2128.0 456.2,2127.7 457.2,2127.4 458.2,2127.2 459.2,2126.9 460.2,2126.6 461.2,2126.3 462.2,2126.0 463.2,2125.7 464.2,2125.4 465.2,2125.1 466.2,2124.7 467.2,2124.4 468.2,2124.1 469.2,2123.8 470.2,2123.5 471.2,2123.1 472.2,2122.8 473.2,2122.5 474.2,2122.2 475.2,2121.8 476.2,2121.5 477.2,2121.1 478.2,2120.8 479.2,2120.4 480.2,2120.1 481.2,2119.7 482.2,2119.3 483.2,2119.0 484.2,2118.6 485.2,2118.2 486.2,2117.9 487.2,2117.5 488.2,2117.1 489.2,2116.7 490.2,2116.3 491.2,2115.9 492.2,2115.5 493.2,2115.2 494.2,2114.7 495.2,2114.3 496.2,2113.9 497.2,2113.5 498.2,2113.1 499.2,2112.7 500.2,2112.3 501.2,2111.8 502.2,2111.4 503.2,2111.0 504.2,2110.5 505.2,2110.1 506.2,2109.6 507.2,2109.2 508.2,2108.7 509.2,2108.3 510.2,2107.8 511.2,2107.4 512.2,2106.9 513.2,2106.4 514.2,2105.9 515.2,2105.5 516.2,2105.0 517.2,2104.5 518.2,2104.0 519.2,2103.5 520.2,2103.0 521.2,2102.5 522.2,2102.0 523.2,2101.5 524.2,2101.0 525.2,2100.5 526.2,2099.9 527.2,2099.4 528.2,2098.9 529.2,2098.3 530.2,2097.8 531.2,2097.3 532.2,2096.7 533.2,2096.2 534.2,2095.6 535.2,2095.0 536.2,2094.5 537.2,2093.9 538.2,2093.3 539.2,2092.8 540.2,2092.2 541.2,2091.6 542.2,2091.0 543.2,2090.4 544.2,2089.8 545.2,2089.2 546.2,2088.6 547.2,2088.0 548.2,2087.4 549.2,2086.7 550.2,2086.1 551.2,2085.5 552.2,2084.8 553.2,2084.2 554.2,2083.6 555.2,2082.9 556.2,2082.3 557.2,2081.6 558.2,2080.9 559.2,2080.3 560.2,2079.6 561.2,2078.9 562.2,2078.2 563.2,2077.5 564.2,2076.9 565.2,2076.2 566.2,2075.4 567.2,2074.7 568.2,2074.0 569.2,2073.3 570.2,2072.6 571.2,2071.9 572.2,2071.1 573.2,2070.4 574.2,2069.6 575.2,2068.9 576.2,2068.1 577.2,2067.4 578.2,2066.6 579.2,2065.8 580.2,2065.1 581.2,2064.3 582.2,2063.5 583.2,2062.7 584.2,2061.9 585.2,2061.1 586.2,2060.3 587.2,2059.5 588.2,2058.7 589.2,2057.9 590.2,2057.0 591.2,2056.2 592.2,2055.4 593.2,2054.5 594.2,2053.7 595.2,2052.8 596.2,2051.9 597.2,2051.1 598.2,2050.2 599.2,2049.3 600.2,2048.4 601.2,2047.5 602.2,2046.6 603.2,2045.7 604.2,2044.8 605.2,2043.9 606.2,2043.0 607.2,2042.0 608.2,2041.1 609.2,2040.2 610.2,2039.2 611.2,2038.3 612.2,2037.3 613.2,2036.3 614.2,2035.4 615.2,2034.4 616.2,2033.4 617.2,2032.4 618.2,2031.4 619.2,2030.4 620.2,2029.4 621.2,2028.4 622.2,2027.4 623.2,2026.3 624.2,2025.3 625.2,2024.3 626.2,2023.2 627.2,2022.2 628.2,2021.1 629.2,2020.0 630.2,2019.0 631.2,2017.9 632.2,2016.8 633.2,2015.7 634.2,2014.6 635.2,2013.5 636.2,2012.4 637.2,2011.2 638.2,2010.1 639.2,2009.0 640.2,2007.8 641.2,2006.7 642.2,2005.5 643.2,2004.4 644.2,2003.2 645.2,2002.0 646.2,2000.8 647.2,1999.6 648.2,1998.4 649.2,1997.2 650.2,1996.0 651.2,1994.8 652.2,1993.6 653.2,1992.3 654.2,1991.1 655.2,1989.8 656.2,1988.6 657.2,1987.3 658.2,1986.0 659.2,1984.7 660.2,1983.4 661.2,1982.2 662.2,1980.8 663.2,1979.5 664.2,1978.2 665.2,1976.9 666.2,1975.5 667.2,1974.2 668.2,1972.9 669.2,1971.5 670.2,1970.1 671.2,1968.8 672.2,1967.4 673.2,1966.0 674.2,1964.6 675.2,1963.2 676.2,1961.8 677.2,1960.3 678.2,1958.9 679.2,1957.5 680.2,1956.0 681.2,1954.6 682.2,1953.1 683.2,1951.6 684.2,1950.2 685.2,1948.7 686.2,1947.2 687.2,1945.7 688.2,1944.1 689.2,1942.6 690.2,1941.1 691.2,1939.6 692.2,1938.0 693.2,1936.5 694.2,1934.9 695.2,1933.3 696.2,1931.7 697.2,1930.2 698.2,1928.6 699.2,1926.9 700.2,1925.3 701.2,1923.7 702.2,1922.1 703.2,1920.4 704.2,1918.8 705.2,1917.1 706.2,1915.5 707.2,1913.8 708.2,1912.1 709.2,1910.4 710.2,1908.7 711.2,1907.0 712.2,1905.3 713.2,1903.5 714.2,1901.8 715.2,1900.1 716.2,1898.3 717.2,1896.5 718.2,1894.8 719.2,1893.0 720.2,1891.2 721.2,1889.4 722.2,1887.6 723.2,1885.7 724.2,1883.9 725.2,1882.1 726.2,1880.2 727.2,1878.4 728.2,1876.5 729.2,1874.6 730.2,1872.7 731.2,1870.8 732.2,1868.9 733.2,1867.0 734.2,1865.1 735.2,1863.2 736.2,1861.2 737.2,1859.3 738.2,1857.3 739.2,1855.4 740.2,1853.4 741.2,1851.4 742.2,1849.4 743.2,1847.4 744.2,1845.4 745.2,1843.3 746.2,1841.3 747.2,1839.3 748.2,1837.2 749.2,1835.1 750.2,1833.1 751.2,1831.0 752.2,1828.9 753.2,1826.8 754.2,1824.7 755.2,1822.5 756.2,1820.4 757.2,1818.3 758.2,1816.1 759.2,1814.0 760.2,1811.8 761.2,1809.6 762.2,1807.4 763.2,1805.2 764.2,1803.0 765.2,1800.8 766.2,1798.6 767.2,1796.3 768.2,1794.1 769.2,1791.8 770.2,1789.6 771.2,1787.3 772.2,1785.0 773.2,1782.7 774.2,1780.4 775.2,1778.1 776.2,1775.7 777.2,1773.4 778.2,1771.1 779.2,1768.7 780.2,1766.3 781.2,1764.0 782.2,1761.6 783.2,1759.2 784.2,1756.8 785.2,1754.4 786.2,1751.9 787.2,1749.5 788.2,1747.1 789.2,1744.6 790.2,1742.2 791.2,1739.7 792.2,1737.2 793.2,1734.7 794.2,1732.2 795.2,1729.7 796.2,1727.2 797.2,1724.7 798.2,1722.1 799.2,1719.6 800.2,1717.0 801.2,1714.4 802.2,1711.9 803.2,1709.3 804.2,1706.7 805.2,1704.1 806.2,1701.5 807.2,1698.8 808.2,1696.2 809.2,1693.6 810.2,1690.9 811.2,1688.2 812.2,1685.6 813.2,1682.9 814.2,1680.2 815.2,1677.5 816.2,1674.8 817.2,1672.1 818.2,1669.3 819.2,1666.6 820.2,1663.9 821.2,1661.1 822.2,1658.3 823.2,1655.6 824.2,1652.8 825.2,1650.0 826.2,1647.2 827.2,1644.4 828.2,1641.6 829.2,1638.7 830.2,1635.9 831.2,1633.0 832.2,1630.2 833.2,1627.3 834.2,1624.5 835.2,1621.6 836.2,1618.7 837.2,1615.8 838.2,1612.9 839.2,1610.0 840.2,1607.0 841.2,1604.1 842.2,1601.2 843.2,1598.2 844.2,1595.3 845.2,1592.3 846.2,1589.3 848.0,1584.0" stroke="#ff0000" stroke-dasharray="9.5 7.15 0.01 8.29 0.01 7.15" stroke-linecap="round"/>
</g>
<text x="153.6" y="2153.0" text-anchor="end">0</text>
<text x="153.6" y="2103.4" text-anchor="end">6e-07</text>
<text x="153.6" y="2053.8" text-anchor="end">1.2e-06</text>
<text x="153.6" y="2004.2" text-anchor="end">1.8e-06</text>
<text x="153.6" y="1954.6" text-anchor="end">2.4e-06</text>
<text x="153.6" y="1905.0" text-anchor="end">3e-06</text>
<text x="153.6" y="1855.4" text-anchor="end">3.6e-06</text>
<text x="153.6" y="1805.8" text-anchor="end">4.2e-06</text>
<text x="153.6" y="1756.2" text-anchor="end">4.8e-06</text>
<text x="153.6" y="1706.6" text-anchor="end">5.4e-06</text>
<text x="153.6" y="1657.0" text-anchor="end">6e-06</text>
<text x="153.6" y="1607.4" text-anchor="end">6.6e-06</text>
<text x="253.7" y="2177.4" text-anchor="middle">2146</text>
<text x="344.1" y="2177.4" text-anchor="middle">2282</text>
<text x="434.5" y="2177.4" text-anchor="middle">2418</text>
<text x="524.9" y="2177.4" text-anchor="middle">2554</text>
<text x="615.3" y="2177.4" text-anchor="middle">2690</text>
<text x="705.7" y="2177.4" text-anchor="middle">2826</text>
<text x="796.1" y="2177.4" text-anchor="middle">2962</text>
<text transform="translate(37.5,1850) rotate(-90)" text-anchor="middle">Total CO2 in Layer 1, M tonnes</text>
<text x="488.8" y="2210.4" text-anchor="middle">Time</text>
<text x="326.2" y="2250.7" textLength="319.3" lengthAdjust="spacingAndGlyphs" font-size="31">(e) Caprock – layer 1</text>
<rect x="231.5" y="1748.7" width="422.7" height="148.3" fill="#fff" fill-opacity="0.92" stroke="#dcdcdc" stroke-width="1.8"/>
<line x1="235.6" y1="1768.2" x2="262.4" y2="1768.2" stroke="#0000ff" stroke-width="3.4" stroke-linecap="round"/>
<text x="275.6" y="1778.4" font-size="29.1">Total CO2 5500psi Layer 1</text>
<line x1="235.6" y1="1804.8" x2="262.4" y2="1804.8" stroke="#007a00" stroke-width="3.4" stroke-linecap="round"/>
<text x="275.6" y="1815.0" font-size="29.1">Total CO2 7000psi Layer 1</text>
<line x1="235.6" y1="1841.4" x2="262.4" y2="1841.4" stroke="#87260a" stroke-width="3.4" stroke-linecap="round"/>
<text x="275.6" y="1851.6" font-size="29.1">Total CO2 7500psi Layer 1</text>
<line x1="235.6" y1="1878" x2="262.4" y2="1878" stroke="#ff0000" stroke-width="3.4" stroke-linecap="round" stroke-dasharray="9.5 7.15 0.01 8.29 0.01 7.15"/>
<text x="275.6" y="1888.2" font-size="29.1">Total CO2 8000psi Layer 1</text>
</g>
</svg>
</body></html>
